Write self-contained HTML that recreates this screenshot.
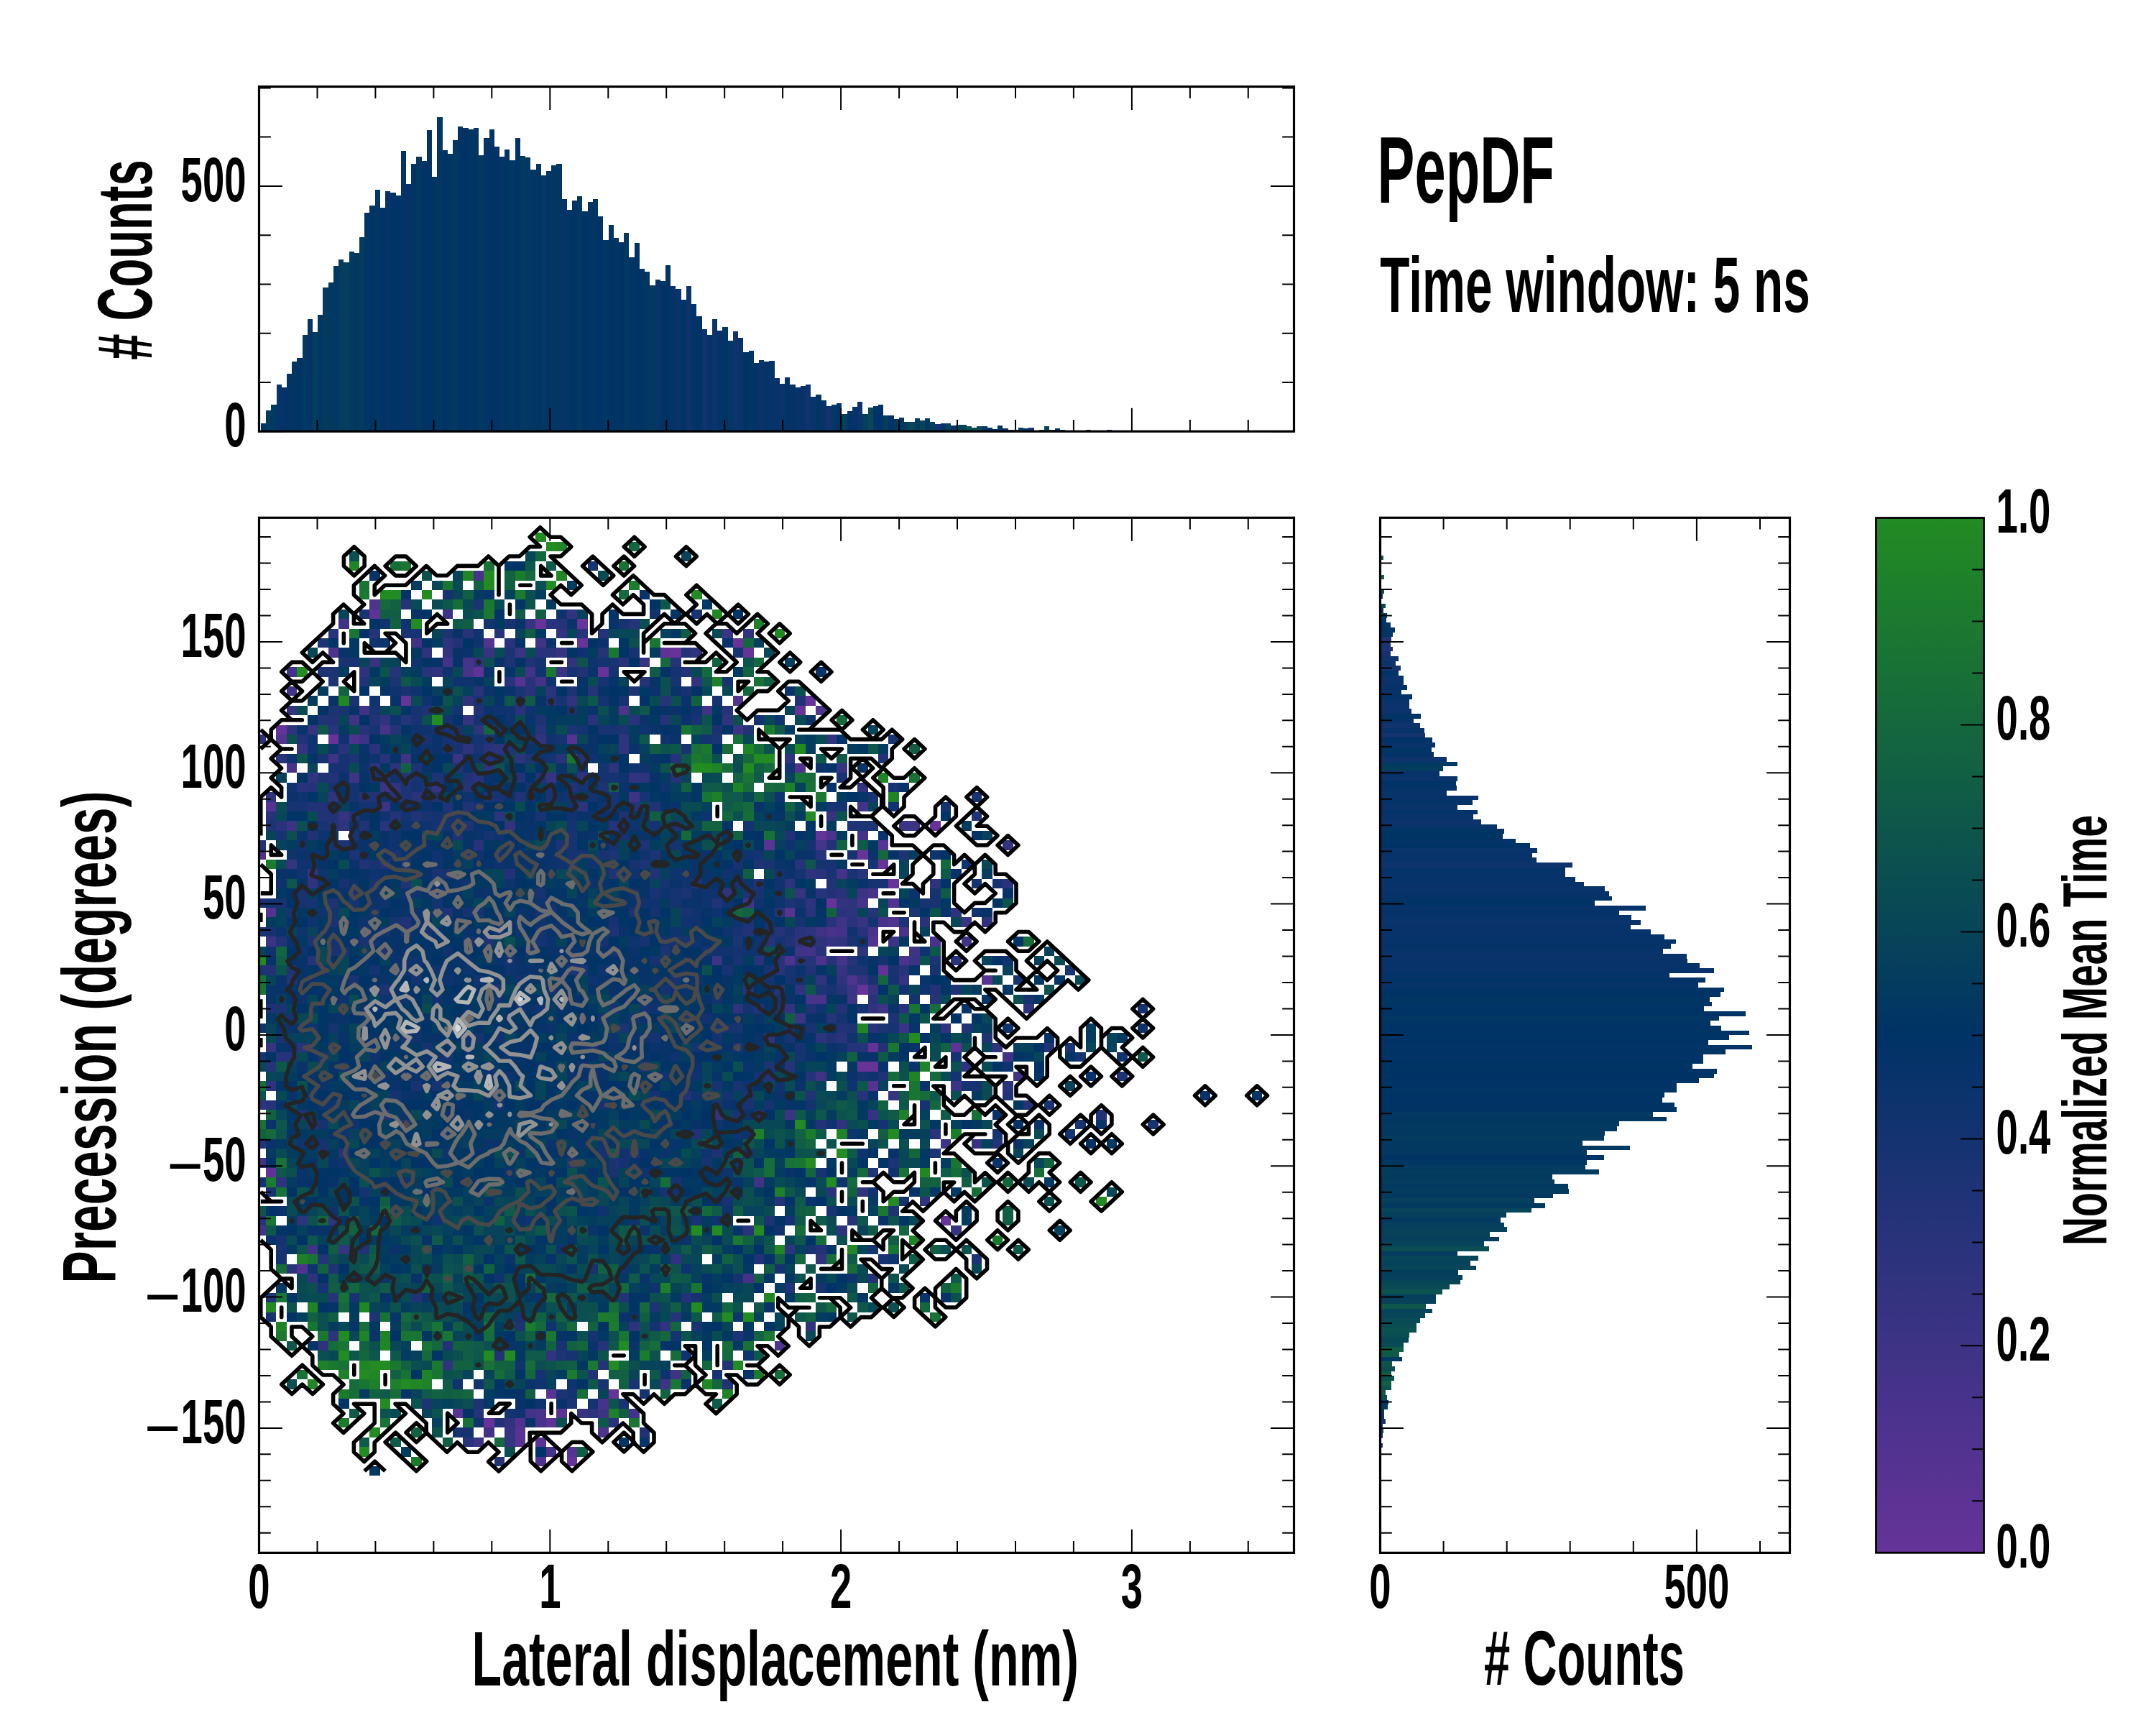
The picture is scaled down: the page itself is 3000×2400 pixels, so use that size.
<!DOCTYPE html><html><head><meta charset="utf-8"><title>PepDF</title><style>html,body{margin:0;padding:0;background:#fff}svg{display:block}text{font-family:"Liberation Sans","DejaVu Sans",sans-serif;font-weight:bold;fill:#000}</style></head><body><svg xmlns="http://www.w3.org/2000/svg" width="3000" height="2400" viewBox="0 0 3000 2400"><rect width="3000" height="2400" fill="#fff"/><defs><clipPath id="cm"><rect x="360.5" y="720.3" width="1440.0" height="1440.1"/></clipPath><clipPath id="ct"><rect x="360.5" y="120.5" width="1440.0" height="479.7"/></clipPath><clipPath id="cr"><rect x="1920.5" y="720.3" width="570.0" height="1440.1"/></clipPath><linearGradient id="cb" x1="0" y1="1" x2="0" y2="0"><stop offset="0" stop-color="#663399"/><stop offset="0.5" stop-color="#003366"/><stop offset="1" stop-color="#228b22"/></linearGradient></defs><g clip-path="url(#cm)"><g transform="translate(355.6 713.8) scale(14.44 13.396)" shape-rendering="crispEdges"><path fill="#663399" d="M27 11h1v1h-1zm4 0h1v1h-1zm0 2h1v1h-1zm15 0h1v1h-1zm-6 1h1v1h-1zm7 0h1v1h-1zm-14 2h1v1h-1zm-19 3h1v1h-1zm39 0h1v1h-1zm-1 1h1v1h-1zm-50 2h1v1h-1zm5 1h1v1h-1zm58 9h1v1h-1zm-11 1h1v1h-1zm4 2h1v1h-1zm2 1h1v1h-1zm1 2h1v1h-1zm-6 2h1v1h-1zm3 9h1v1h-1zm0 8h2v1h-2zm8 16h1v1h-1zm-32 18h1v1h-1zm-12 3h1v1h-1zm8 4h1v1h-1z"/><path fill="#623397" d="M39 14h1v1h-1zm21 33h1v1h-1zm-1 8h1v1h-1zm-58 13h1v1h-1z"/><path fill="#5d3395" d="M11 10h1v1h-1zm10 6h1v1h-1zm46 39h1v1h-1zm-39 39h1v1h-1z"/><path fill="#593392" d="M49 34h1v1h-1zm2 7h1v1h-1zm19 7h1v1h-1zm-42 43h1v1h-1zm1 2h1v1h-1zm-4 2h1v1h-1zm0 1h1v1h-1zm2 0h1v1h-1z"/><path fill="#553390" d="M22 13h1v1h-1zm3 4h1v1h-1zm-23 6h1v1h-1zm28 0h1v1h-1zm-29 7h1v1h-1zm59 4h1v1h-1zm-59 7h1v1h-1zm58 18h1v1h-1zm-40 34h1v1h-1zm11 4h1v1h-1z"/><path fill="#50338e" d="M46 19h1v1h-1zm8 1h1v1h-1zm-2 6h1v1h-1zm-52 9h1v1h-1zm61 5h1v1h-1zm0 2h1v1h-1zm-2 2h1v1h-1zm-2 4h1v1h-1zm-53 30h1v1h-1zm21 16h1v1h-1zm2 4h1v1h-1z"/><path fill="#4c338c" d="M11 9h1v1h-1zm-4 5h1v1h-1zm28 6h1v1h-1zm-26 3h1v1h-1zm46 10h1v1h-1zm-4 13h1v1h-1zm3 0h1v1h-1zm8 0h1v1h-1zm-12 40h1v1h-1zm-17 9h1v1h-1z"/><path fill="#48338a" d="M21 6h1v1h-1zm-1 9h1v1h-1zm0 1h1v1h-1zm-8 6h1v1h-1zm-9 4h1v1h-1zm51 8h1v1h-1zm5 5h1v1h-1zm-1 1h1v1h-1zm2 2h1v1h-1zm-5 1h1v1h-1zm4 0h1v1h-1zm3 0h1v1h-1zm3 1h1v1h-1zm-9 2h1v1h-1zm-3 4h2v1h-2zm-20 42h1v1h-1zm-6 1h1v1h-1zm0 1h1v1h-1zm1 3h1v1h-1z"/><path fill="#433388" d="M18 15h1v1h-1zm-15 1h1v1h-1zm23 0h1v1h-1zm1 1h1v1h-1zm-24 1h1v1h-1zm55 12h1v1h-1zm0 3h1v1h-1zm-2 4h1v1h-1zm-9 3h1v1h-1zm9 3h1v1h-1zm-3 2h1v1h-1zm19 11h1v1h-1zm-72 11h1v1h-1zm0 7h1v1h-1zm47 5h1v1h-1zm-21 14h1v1h-1zm10 0h1v1h-1zm-14 2h1v1h-1z"/><path fill="#3f3385" d="M8 11h1v1h-1zm7 2h1v1h-1zm12 0h1v1h-1zm-17 7h1v1h-1zm33 0h1v1h-1zm-34 1h1v1h-1zm-2 4h1v1h-1zm7 0h1v1h-1zm-5 2h1v1h-1zm27 2h1v1h-1zm20 13h1v1h-1zm-2 1h1v1h-1zm14 1h1v1h-1zm-16 1h1v1h-1zm11 0h1v1h-1zm-6 5h1v1h-1zm3 1h1v1h-1zm-6 7h1v1h-1zm19 0h1v1h-1zm-25 11h1v1h-1zm-43 7h1v1h-1zm35 13h1v1h-1zm-1 1h1v1h-1zm-6 3h1v1h-1z"/><path fill="#3b3383" d="M18 10h1v1h-1zm27 2h1v1h-1zm-20 2h1v1h-1zm4 2h1v1h-1zm17 6h1v1h-1zm-36 1h1v1h-1zm9 2h1v1h-1zm-7 3h1v1h-1zm0 2h1v1h-1zm-9 2h1v1h-1zm59 0h2v1h-2zm-4 7h1v1h-1zm10 3h1v1h-1zm-67 2h1v1h-1zm60 0h1v1h-1zm-17 2h1v1h-1zm19 0h1v1h-1zm-6 3h1v1h-1zm-5 3h1v1h-1zm10 1h1v1h-1zm5 6h1v1h-1zm-16 3h1v1h-1zm15 3h1v1h-1zm-45 31h1v1h-1z"/><path fill="#363381" d="M26 11h1v1h-1zm-4 3h1v1h-1zm7 0h1v1h-1zm-18 1h1v1h-1zm26 0h1v1h-1zm-17 6h1v1h-1zm-15 1h1v1h-1zm-1 2h1v1h-1zm52 2h1v1h-1zm-28 1h1v1h-1zm-11 1h1v1h-1zm-9 3h1v1h-1zm47 0h1v1h-1zm-52 5h1v1h-1zm2 1h1v1h-1zm47 2h1v1h-1zm6 3h1v1h-1zm-3 2h1v1h-1zm1 3h1v1h-1zm6 1h1v1h-1zm-3 1h1v1h-1zm-58 6h1v1h-1zm60 5h1v1h-1zm-2 2h1v1h-1zm10 3h1v1h-1zm-2 9h1v1h-1zm-59 2h1v1h-1zm23 17h1v1h-1zm-7 2h1v1h-1zm0 1h1v1h-1z"/><path fill="#32337f" d="M30 10h1v1h-1zm-1 2h1v1h-1zm18 0h1v1h-1zm-29 2h1v1h-1zm3 1h1v1h-1zm9 0h1v1h-1zm12 2h1v1h-1zm-12 2h1v1h-1zm-27 1h1v1h-1zm9 1h1v1h-1zm33 0h1v1h-1zm-18 2h1v1h-1zm8 0h1v1h-1zm20 0h1v1h-1zm-20 1h1v1h-1zm-30 3h1v1h-1zm31 0h1v1h-1zm-23 1h1v1h-1zm45 0h1v1h-1zm-51 1h1v1h-1zm17 3h1v1h-1zm48 2h1v1h-1zm-16 6h1v1h-1zm0 4h1v1h-1zm-2 4h1v1h-1zm4 0h1v1h-1zm-7 3h1v1h-1zm8 0h1v1h-1zm7 2h1v1h-1zm5 2h1v1h-1zm-27 7h1v1h-1zm14 8h1v1h-1zm-19 14h1v1h-1zm-11 3h1v1h-1zm-10 1h1v1h-1zm6 6h1v1h-1z"/><path fill="#2e337d" d="M18 13h1v1h-1zm-2 1h1v1h-1zm26 0h1v1h-1zm-32 2h1v1h-1zm7 0h1v1h-1zm11 2h1v1h-1zm-8 1h1v1h-1zm-17 3h1v1h-1zm18 0h1v1h-1zm-21 1h1v1h-1zm20 1h1v1h-1zm3 0h1v1h-1zm2 1h1v1h-1zm26 0h1v1h-1zm-40 1h1v1h-1zm2 0h1v1h-1zm9 0h1v1h-1zm12 0h1v1h-1zm-3 1h1v1h-1zm6 0h1v1h-1zm-36 2h1v1h-1zm30 1h1v1h-1zm-8 1h1v1h-1zm-15 1h1v1h-1zm45 5h1v1h-1zm-48 1h1v1h-1zm46 0h1v1h-1zm14 0h1v1h-1zm-20 1h1v1h-1zm8 1h1v1h-1zm4 0h1v1h-1zm0 1h1v1h-1zm10 0h1v1h-1zm3 1h1v1h-1zm-17 1h1v1h-1zm-1 1h1v1h-1zm2 0h1v1h-1zm4 1h1v1h-1zm-2 3h1v1h-1zm-4 1h1v1h-1zm-6 2h1v1h-1zm28 0h1v1h-1zm-25 3h1v1h-1zm5 0h1v1h-1zm14 3h1v1h-1zm-67 2h1v1h-1zm-1 2h1v1h-1zm56 2h1v1h-1zm-54 6h1v1h-1zm62 2h1v1h-1zm-60 2h1v1h-1zm3 0h1v1h-1zm49 1h1v1h-1zm-5 2h1v1h-1zm-11 1h1v1h-1zm14 0h1v1h-1zm-49 2h1v1h-1zm31 5h1v1h-1zm17 0h1v1h-1zm-46 1h1v1h-1zm-1 1h1v1h-1zm26 7h1v1h-1z"/><path fill="#29337b" d="M28 11h1v1h-1zm-21 1h1v1h-1zm24 0h1v1h-1zm-7 1h1v1h-1zm3 1h2v1h-2zm8 1h1v1h-1zm-19 1h1v1h-1zm8 1h1v1h-1zm2 0h1v1h-1zm-5 1h1v1h-1zm5 0h1v1h-1zm13 1h1v1h-1zm-14 1h1v1h-1zm7 1h1v1h-1zm4 0h1v1h-1zm-29 1h1v1h-1zm1 2h1v1h-1zm3 0h1v1h-1zm11 0h1v1h-1zm-20 1h1v1h-1zm10 0h1v1h-1zm17 0h1v1h-1zm-8 2h1v1h-1zm-17 1h1v1h-1zm11 1h1v1h-1zm-13 3h1v1h-1zm10 0h1v1h-1zm9 2h1v1h-1zm33 1h1v1h-1zm0 2h1v1h-1zm4 0h1v1h-1zm14 1h1v1h-1zm-18 1h1v1h-1zm2 0h1v1h-1zm-3 2h1v1h-1zm3 0h1v1h-1zm-1 1h1v1h-1zm2 0h1v1h-1zm7 0h1v1h-1zm-12 1h1v1h-1zm6 0h1v1h-1zm-10 3h1v1h-1zm2 0h1v1h-1zm2 0h1v1h-1zm15 0h1v1h-1zm-17 1h1v1h-1zm12 0h1v1h-1zm-15 2h1v1h-1zm12 1h1v1h-1zm3 1h1v1h-1zm-6 3h1v1h-1zm-52 1h1v1h-1zm68 4h1v1h-1zm-7 5h1v1h-1zm-65 1h1v1h-1zm55 5h1v1h-1zm-55 3h1v1h-1zm47 1h1v1h-1zm-44 4h1v1h-1zm31 16h1v1h-1zm-14 2h1v1h-1z"/><path fill="#253378" d="M14 9h1v1h-1zm15 2h1v1h-1zm7 0h1v1h-1zm-25 1h1v1h-1zm9 0h1v1h-1zm3 0h1v1h-1zm10 0h1v1h-1zm0 2h1v1h-1zm8 0h1v1h-1zm-1 1h1v1h-1zm-27 1h1v1h-1zm28 0h1v1h-1zm-4 1h1v1h-1zm-5 1h1v1h-1zm-4 1h1v1h-1zm17 1h1v1h-1zm-31 1h1v1h-1zm25 0h1v1h-1zm-29 1h1v1h-1zm3 0h1v1h-1zm14 0h1v1h-1zm13 3h1v1h-1zm-28 2h1v1h-1zm2 0h1v1h-1zm26 0h1v1h-1zm-35 1h1v1h-1zm15 0h1v1h-1zm-7 1h1v1h-1zm23 1h1v1h-1zm-35 1h1v1h-1zm12 0h1v1h-1zm21 1h1v1h-1zm18 4h1v1h-1zm-2 5h1v1h-1zm9 0h1v1h-1zm-9 2h1v1h-1zm-1 1h1v1h-1zm5 1h1v1h-1zm-49 1h1v1h-1zm48 0h1v1h-1zm2 0h1v1h-1zm2 0h1v1h-1zm-54 2h1v1h-1zm47 1h1v1h-1zm6 0h1v1h-1zm9 1h1v1h-1zm-10 2h1v1h-1zm4 1h1v1h-1zm-52 2h1v1h-1zm50 0h2v1h-2zm-55 1h2v1h-2zm-1 1h1v1h-1zm50 0h1v1h-1zm2 1h1v1h-1zm5 2h1v1h-1zm-57 1h1v1h-1zm73 0h1v1h-1zm-69 2h1v1h-1zm66 2h1v1h-1zm-63 1h1v1h-1zm42 5h1v1h-1zm7 2h1v1h-1zm-51 4h1v1h-1zm1 4h1v1h-1zm33 2h1v1h-1zm-7 3h1v1h-1zm0 2h1v1h-1zm-12 5h1v1h-1z"/><path fill="#213376" d="M19 13h1v1h-1zm7 2h1v1h-1zm-16 2h1v1h-1zm15 2h1v1h-1zm27 0h1v1h-1zm-31 1h1v1h-1zm-15 1h2v1h-2zm5 0h1v1h-1zm36 1h1v1h-1zm-43 1h1v1h-1zm20 1h1v1h-1zm-2 1h1v1h-1zm9 0h1v1h-1zm29 0h1v1h-1zm-41 1h1v1h-1zm-12 1h1v1h-1zm13 0h1v1h-1zm5 0h1v1h-1zm2 0h1v1h-1zm3 1h1v1h-1zm-20 1h2v1h-2zm15 0h1v1h-1zm-20 1h2v1h-2zm13 0h1v1h-1zm2 0h1v1h-1zm18 0h1v1h-1zm-32 1h2v1h-2zm3 0h1v1h-1zm6 0h1v1h-1zm54 0h1v1h-1zm-62 1h1v1h-1zm3 0h1v1h-1zm47 0h1v1h-1zm-52 1h1v1h-1zm46 0h1v1h-1zm4 1h1v1h-1zm7 1h1v1h-1zm-52 1h1v1h-1zm2 0h1v1h-1zm12 1h1v1h-1zm10 0h1v1h-1zm4 0h1v1h-1zm-24 1h1v1h-1zm28 0h1v1h-1zm6 0h1v1h-1zm7 0h1v1h-1zm0 1h1v1h-1zm-11 1h1v1h-1zm-30 2h1v1h-1zm33 1h1v1h-1zm-45 1h1v1h-1zm49 0h1v1h-1zm-50 3h1v1h-1zm2 0h1v1h-1zm50 0h1v1h-1zm12 2h1v1h-1zm-17 2h1v1h-1zm5 0h1v1h-1zm3 0h1v1h-1zm0 2h1v1h-1zm12 0h1v1h-1zm-13 1h1v1h-1zm5 1h1v1h-1zm16 0h1v1h-1zm-27 3h1v1h-1zm-8 2h1v1h-1zm12 0h1v1h-1zm19 0h1v1h-1zm-68 2h1v1h-1zm8 0h1v1h-1zm36 0h1v1h-1zm33 0h1v1h-1zm-67 1h1v1h-1zm40 0h1v1h-1zm-48 3h1v1h-1zm24 1h1v1h-1zm29 1h1v1h-1zm-49 8h1v1h-1zm44 0h1v1h-1zm-6 1h1v1h-1zm11 2h1v1h-1zm-8 1h1v1h-1zm-36 1h1v1h-1zm20 0h1v1h-1zm6 0h1v1h-1zm-23 5h1v1h-1zm5 1h1v1h-1zm22 1h1v1h-1zm-13 1h1v1h-1zm13 1h1v1h-1zm-22 4h1v1h-1zm14 1h1v1h-1zm-14 3h1v1h-1z"/><path fill="#1c3374" d="M21 9h1v1h-1zm-3 3h1v1h-1zm-12 1h1v1h-1zm18 1h1v1h-1zm0 1h1v1h-1zm-18 1h2v1h-2zm25 0h1v1h-1zm-24 1h1v1h-1zm6 0h1v1h-1zm12 1h1v1h-1zm5 0h1v1h-1zm6 0h1v1h-1zm-29 2h1v1h-1zm9 0h1v1h-1zm11 1h1v1h-1zm3 1h1v1h-1zm5 0h1v1h-1zm-16 1h1v1h-1zm3 0h1v1h-1zm22 0h1v1h-1zm-35 2h1v1h-1zm17 0h1v1h-1zm-11 1h1v1h-1zm-9 1h1v1h-1zm11 0h1v1h-1zm-3 1h1v1h-1zm2 0h1v1h-1zm17 0h1v1h-1zm-19 1h1v1h-1zm3 0h1v1h-1zm5 0h1v1h-1zm6 0h1v1h-1zm7 2h1v1h-1zm-34 1h1v1h-1zm19 0h1v1h-1zm20 0h1v1h-1zm18 0h2v1h-2zm-49 1h1v1h-1zm10 0h1v1h-1zm-19 1h1v1h-1zm8 0h1v1h-1zm21 0h1v1h-1zm8 0h1v1h-1zm-28 1h1v1h-1zm11 0h1v1h-1zm14 0h1v1h-1zm4 0h1v1h-1zm-24 1h1v1h-1zm23 0h1v1h-1zm11 0h1v1h-1zm-7 3h1v1h-1zm6 0h1v1h-1zm-47 1h1v1h-1zm7 0h1v1h-1zm44 0h1v1h-1zm-33 1h1v1h-1zm18 0h1v1h-1zm27 0h1v1h-1zm-16 1h1v1h-1zm15 0h1v1h-1zm-48 1h1v1h-1zm20 0h1v1h-1zm-29 1h1v1h-1zm17 0h1v1h-1zm24 0h1v1h-1zm7 0h1v1h-1zm-41 1h1v1h-1zm27 0h1v1h-1zm26 1h1v1h-1zm-65 1h1v1h-1zm30 0h2v1h-2zm27 0h2v1h-2zm-45 2h1v1h-1zm11 0h1v1h-1zm31 0h1v1h-1zm13 0h1v1h-1zm-66 2h2v1h-2zm49 0h1v1h-1zm11 1h1v1h-1zm-26 1h1v1h-1zm16 0h1v1h-1zm6 0h1v1h-1zm3 0h1v1h-1zm10 1h1v1h-1zm-24 1h1v1h-1zm32 0h1v1h-1zm-41 2h1v1h-1zm12 0h1v1h-1zm11 1h1v1h-1zm23 0h1v1h-1zm-36 2h1v1h-1zm-5 4h1v1h-1zm-6 2h1v1h-1zm8 0h1v1h-1zm21 0h1v1h-1zm-31 1h1v1h-1zm27 0h1v1h-1zm0 5h1v1h-1zm-12 1h1v1h-1zm20 4h1v1h-1zm-62 1h1v1h-1zm-6 3h1v1h-1zm37 1h1v1h-1zm-27 1h1v1h-1zm14 1h1v1h-1zm21 1h1v1h-1zm-17 2h1v1h-1zm0 4h1v1h-1zm-13 1h1v1h-1zm5 0h1v1h-1zm9 0h1v1h-1z"/><path fill="#183372" d="M32 5h1v1h-1zm-22 5h1v1h-1zm32 0h1v1h-1zm-7 1h1v1h-1zm-21 1h2v1h-2zm32 2h1v1h-1zm-38 1h2v1h-2zm26 0h1v1h-1zm-1 2h1v1h-1zm7 0h1v1h-1zm5 0h1v1h-1zm-31 1h1v1h-1zm27 0h1v1h-1zm-32 1h1v1h-1zm12 0h1v1h-1zm8 0h1v1h-1zm6 0h1v1h-1zm-27 1h1v1h-1zm3 0h1v1h-1zm19 0h1v1h-1zm-15 1h1v1h-1zm27 0h1v1h-1zm-31 1h1v1h-1zm12 0h1v1h-1zm10 0h2v1h-2zm11 0h1v1h-1zm-28 1h1v1h-1zm45 0h1v1h-1zm-43 1h2v1h-2zm3 0h1v1h-1zm20 0h1v1h-1zm-35 1h1v1h-1zm17 0h1v1h-1zm-8 2h1v1h-1zm41 0h1v1h-1zm-49 1h1v1h-1zm21 0h1v1h-1zm-5 1h1v1h-1zm11 0h1v1h-1zm3 0h1v1h-1zm22 0h1v1h-1zm10 0h1v1h-1zm-66 1h2v1h-2zm18 0h1v1h-1zm13 0h1v1h-1zm21 0h1v1h-1zm-39 1h1v1h-1zm11 0h1v1h-1zm-21 1h1v1h-1zm-4 1h1v1h-1zm28 0h1v1h-1zm-23 1h1v1h-1zm6 1h1v1h-1zm20 0h1v1h-1zm24 0h1v1h-1zm-46 1h1v1h-1zm19 0h1v1h-1zm19 0h1v1h-1zm6 0h1v1h-1zm4 0h1v1h-1zm-42 1h2v1h-2zm38 0h1v1h-1zm2 0h1v1h-1zm-46 1h1v1h-1zm48 0h2v1h-2zm-55 1h1v1h-1zm5 0h1v1h-1zm18 0h1v1h-1zm11 0h1v1h-1zm10 0h1v1h-1zm-46 1h1v1h-1zm3 0h1v1h-1zm4 0h1v1h-1zm55 0h2v1h-2zm-61 1h1v1h-1zm18 0h1v1h-1zm7 0h1v1h-1zm13 0h1v1h-1zm-34 1h1v1h-1zm6 0h1v1h-1zm-13 1h1v1h-1zm23 0h1v1h-1zm23 0h1v1h-1zm5 0h1v1h-1zm-41 1h1v1h-1zm27 0h1v1h-1zm4 0h1v1h-1zm16 0h1v1h-1zm-50 1h1v1h-1zm19 0h1v1h-1zm8 0h1v1h-1zm9 0h1v1h-1zm3 1h1v1h-1zm-1 1h1v1h-1zm4 0h1v1h-1zm2 0h1v1h-1zm10 0h1v1h-1zm17 0h1v1h-1zm-69 1h1v1h-1zm50 0h1v1h-1zm-4 1h1v1h-1zm19 1h1v1h-1zm-33 2h1v1h-1zm3 1h1v1h-1zm2 0h1v1h-1zm7 0h1v1h-1zm8 0h1v1h-1zm-59 1h1v1h-1zm12 0h1v1h-1zm37 0h1v1h-1zm1 1h1v1h-1zm-52 1h1v1h-1zm18 0h1v1h-1zm14 2h1v1h-1zm26 0h1v1h-1zm-43 1h1v1h-1zm2 0h1v1h-1zm27 0h1v1h-1zm2 0h1v1h-1zm-2 2h1v1h-1zm32 0h1v1h-1zm-30 1h1v1h-1zm33 1h1v1h-1zm7 0h1v1h-1zm-43 4h1v1h-1zm-9 1h1v1h-1zm20 0h1v1h-1zm-14 1h1v1h-1zm-39 1h1v1h-1zm38 0h1v1h-1zm16 2h1v1h-1zm-13 1h1v1h-1zm-40 3h1v1h-1zm51 0h1v1h-1zm-47 4h1v1h-1zm3 1h1v1h-1zm-8 2h1v1h-1zm24 0h1v1h-1zm17 1h1v1h-1zm-13 2h1v1h-1zm1 1h1v1h-1zm14 2h1v1h-1zm-11 1h1v1h-1zm3 0h1v1h-1zm-1 2h1v1h-1z"/><path fill="#143370" d="M18 8h1v1h-1zm4 3h1v1h-1zm2 0h1v1h-1zm12 3h1v1h-1zm-9 1h1v1h-1zm6 0h1v1h-1zm-3 1h1v1h-1zm4 0h1v1h-1zm6 0h1v1h-1zm-7 3h1v1h-1zm11 0h1v1h-1zm-29 1h1v1h-1zm4 0h1v1h-1zm-1 1h1v1h-1zm3 0h1v1h-1zm27 0h1v1h-1zm-31 1h3v1h-3zm14 0h1v1h-1zm-13 1h1v1h-1zm3 0h1v1h-1zm5 0h1v1h-1zm3 0h1v1h-1zm14 0h1v1h-1zm-35 2h1v1h-1zm20 0h1v1h-1zm-21 1h2v1h-2zm24 0h1v1h-1zm2 0h1v1h-1zm18 0h1v1h-1zm-40 1h1v1h-1zm22 0h2v1h-2zm-24 1h1v1h-1zm6 0h1v1h-1zm8 0h1v1h-1zm3 0h1v1h-1zm5 0h1v1h-1zm30 0h1v1h-1zm-52 1h1v1h-1zm21 0h1v1h-1zm2 0h1v1h-1zm-22 1h2v1h-2zm20 0h1v1h-1zm26 0h1v1h-1zm10 0h1v1h-1zm-52 1h1v1h-1zm3 0h3v1h-3zm0 1h2v1h-2zm13 0h1v1h-1zm5 0h1v1h-1zm3 0h1v1h-1zm9 0h1v1h-1zm-25 1h1v1h-1zm13 0h1v1h-1zm-5 1h1v1h-1zm4 0h1v1h-1zm6 0h1v1h-1zm13 0h1v1h-1zm-23 1h2v1h-2zm18 0h1v1h-1zm-12 1h1v1h-1zm10 0h1v1h-1zm8 0h1v1h-1zm-4 1h1v1h-1zm2 0h1v1h-1zm-44 1h1v1h-1zm31 0h1v1h-1zm7 0h1v1h-1zm23 0h1v1h-1zm2 0h1v1h-1zm-31 1h1v1h-1zm25 0h1v1h-1zm-64 1h1v1h-1zm3 0h1v1h-1zm13 0h1v1h-1zm23 0h1v1h-1zm12 0h1v1h-1zm-45 1h1v1h-1zm4 0h1v1h-1zm6 0h1v1h-1zm3 0h1v1h-1zm7 0h1v1h-1zm11 0h1v1h-1zm-4 1h1v1h-1zm18 0h1v1h-1zm7 0h1v1h-1zm-58 1h1v1h-1zm9 0h1v1h-1zm2 0h1v1h-1zm4 0h1v1h-1zm11 0h1v1h-1zm22 0h1v1h-1zm-42 1h1v1h-1zm13 0h1v1h-1zm7 0h1v1h-1zm6 0h1v1h-1zm6 0h2v1h-2zm11 0h1v1h-1zm-42 1h1v1h-1zm38 0h1v1h-1zm-22 1h1v1h-1zm14 0h1v1h-1zm22 0h1v1h-1zm-49 1h1v1h-1zm54 0h1v1h-1zm-50 1h1v1h-1zm6 0h1v1h-1zm19 0h1v1h-1zm9 0h1v1h-1zm2 0h2v1h-2zm10 0h1v1h-1zm12 0h1v1h-1zm-45 1h1v1h-1zm11 0h1v1h-1zm5 1h1v1h-1zm6 0h1v1h-1zm13 0h1v1h-1zm-29 1h1v1h-1zm3 0h1v1h-1zm10 0h1v1h-1zm11 0h1v1h-1zm27 0h1v1h-1zm-82 1h1v1h-1zm33 0h1v1h-1zm20 0h1v1h-1zm-49 1h1v1h-1zm38 0h1v1h-1zm-24 1h1v1h-1zm17 0h1v1h-1zm6 0h1v1h-1zm-28 1h1v1h-1zm16 0h1v1h-1zm10 0h1v1h-1zm-36 1h1v1h-1zm46 0h1v1h-1zm15 0h1v1h-1zm12 0h1v1h-1zm-65 2h1v1h-1zm34 0h1v1h-1zm19 0h1v1h-1zm1 1h2v1h-2zm-55 1h1v1h-1zm25 0h1v1h-1zm7 0h1v1h-1zm-22 1h1v1h-1zm10 0h1v1h-1zm14 0h1v1h-1zm2 0h1v1h-1zm4 0h1v1h-1zm11 0h1v1h-1zm-58 2h1v1h-1zm54 0h1v1h-1zm11 1h1v1h-1zm7 0h1v1h-1zm-72 1h1v1h-1zm27 1h1v1h-1zm14 0h1v1h-1zm-12 1h1v1h-1zm11 0h1v1h-1zm-46 2h1v1h-1zm10 1h1v1h-1zm35 1h1v1h-1zm17 0h1v1h-1zm-11 2h1v1h-1zm-49 2h1v1h-1zm57 1h1v1h-1zm-57 1h1v1h-1zm58 0h1v1h-1zm-28 1h1v1h-1zm18 0h1v1h-1zm-4 1h1v1h-1zm8 1h1v1h-1zm-12 1h1v1h-1zm-4 3h1v1h-1zm-6 1h1v1h-1zm8 0h1v1h-1zm-13 4h1v1h-1zm-6 1h1v1h-1zm9 1h1v1h-1zm7 0h1v1h-1zm-5 1h1v1h-1zm-8 1h1v1h-1zm-5 2h2v1h-2z"/><path fill="#0f336e" d="M29 10h1v1h-1zm9 0h1v1h-1zm-26 1h1v1h-1zm2 0h1v1h-1zm7 1h1v1h-1zm-10 1h1v1h-1zm10 0h1v1h-1zm10 1h1v1h-1zm-16 1h1v1h-1zm17 0h1v1h-1zm-14 1h1v1h-1zm9 0h1v1h-1zm-8 1h2v1h-2zm9 0h1v1h-1zm-15 1h1v1h-1zm2 0h1v1h-1zm-4 1h1v1h-1zm5 0h1v1h-1zm7 1h2v1h-2zm3 0h1v1h-1zm16 0h1v1h-1zm-29 1h1v1h-1zm11 0h1v1h-1zm26 0h1v1h-1zm-35 1h2v1h-2zm22 0h1v1h-1zm-32 1h1v1h-1zm3 0h1v1h-1zm12 0h1v1h-1zm8 0h1v1h-1zm11 0h1v1h-1zm-34 1h1v1h-1zm2 0h1v1h-1zm9 0h1v1h-1zm-13 1h1v1h-1zm8 0h1v1h-1zm10 0h1v1h-1zm6 0h1v1h-1zm5 0h1v1h-1zm4 1h2v1h-2zm-23 1h1v1h-1zm5 0h1v1h-1zm11 0h1v1h-1zm6 0h1v1h-1zm-32 1h1v1h-1zm36 0h1v1h-1zm-35 1h1v1h-1zm8 0h1v1h-1zm4 0h1v1h-1zm4 0h1v1h-1zm6 0h1v1h-1zm3 0h1v1h-1zm21 0h1v1h-1zm-36 1h1v1h-1zm19 0h1v1h-1zm28 0h1v1h-1zm-49 1h1v1h-1zm18 0h1v1h-1zm7 0h1v1h-1zm6 0h1v1h-1zm-29 1h1v1h-1zm2 0h1v1h-1zm20 0h1v1h-1zm-30 1h1v1h-1zm7 0h1v1h-1zm10 0h1v1h-1zm-19 1h1v1h-1zm9 0h1v1h-1zm11 0h1v1h-1zm27 0h1v1h-1zm-48 1h1v1h-1zm14 0h1v1h-1zm4 0h1v1h-1zm2 0h1v1h-1zm4 0h1v1h-1zm10 0h1v1h-1zm10 0h1v1h-1zm18 0h1v1h-1zm-61 1h2v1h-2zm13 0h1v1h-1zm6 0h1v1h-1zm6 0h1v1h-1zm3 0h1v1h-1zm36 0h1v1h-1zm-64 1h1v1h-1zm2 0h1v1h-1zm5 0h1v1h-1zm24 0h2v1h-2zm5 0h2v1h-2zm5 0h1v1h-1zm-43 1h1v1h-1zm4 0h1v1h-1zm14 0h1v1h-1zm4 0h1v1h-1zm17 0h1v1h-1zm6 0h1v1h-1zm3 0h1v1h-1zm-36 1h2v1h-2zm3 0h1v1h-1zm19 0h1v1h-1zm3 0h1v1h-1zm4 0h2v1h-2zm7 0h1v1h-1zm-38 1h1v1h-1zm15 0h2v1h-2zm10 0h2v1h-2zm6 0h1v1h-1zm2 0h1v1h-1zm3 0h1v1h-1zm2 0h1v1h-1zm-44 1h1v1h-1zm36 0h1v1h-1zm2 0h1v1h-1zm25 0h1v1h-1zm-64 1h1v1h-1zm5 0h1v1h-1zm17 0h1v1h-1zm2 0h1v1h-1zm12 0h2v1h-2zm5 0h1v1h-1zm3 0h1v1h-1zm-45 1h1v1h-1zm21 0h1v1h-1zm4 0h1v1h-1zm11 0h1v1h-1zm5 0h1v1h-1zm12 0h1v1h-1zm-46 1h1v1h-1zm15 0h1v1h-1zm10 0h1v1h-1zm6 0h1v1h-1zm6 0h1v1h-1zm10 0h1v1h-1zm-57 1h1v1h-1zm3 0h1v1h-1zm14 0h1v1h-1zm26 0h2v1h-2zm3 0h2v1h-2zm17 0h1v1h-1zm-50 1h2v1h-2zm16 0h1v1h-1zm28 0h1v1h-1zm14 0h1v1h-1zm-66 1h1v1h-1zm8 0h2v1h-2zm3 0h1v1h-1zm3 0h1v1h-1zm4 0h1v1h-1zm9 0h1v1h-1zm-15 1h1v1h-1zm7 0h1v1h-1zm7 0h1v1h-1zm10 0h1v1h-1zm20 1h1v1h-1zm2 0h1v1h-1zm-56 1h1v1h-1zm4 0h1v1h-1zm2 0h1v1h-1zm3 0h1v1h-1zm6 0h1v1h-1zm2 1h1v1h-1zm2 0h1v1h-1zm11 0h1v1h-1zm16 0h1v1h-1zm-21 1h1v1h-1zm10 0h1v1h-1zm-43 1h1v1h-1zm5 0h1v1h-1zm10 0h1v1h-1zm57 0h1v1h-1zm-57 1h1v1h-1zm5 0h1v1h-1zm3 0h1v1h-1zm11 0h1v1h-1zm3 0h1v1h-1zm20 0h1v1h-1zm-26 1h1v1h-1zm25 0h1v1h-1zm-45 1h1v1h-1zm6 0h1v1h-1zm23 0h1v1h-1zm43 0h1v1h-1zm-75 1h1v1h-1zm14 0h1v1h-1zm9 0h1v1h-1zm41 0h1v1h-1zm-60 1h1v1h-1zm10 0h1v1h-1zm2 0h1v1h-1zm15 0h1v1h-1zm3 0h1v1h-1zm17 0h1v1h-1zm-12 1h1v1h-1zm3 0h1v1h-1zm7 0h1v1h-1zm-15 1h1v1h-1zm-36 1h2v1h-2zm3 2h1v1h-1zm35 0h1v1h-1zm11 0h1v1h-1zm-47 1h1v1h-1zm10 0h1v1h-1zm28 0h1v1h-1zm11 0h1v1h-1zm-53 1h1v1h-1zm29 0h1v1h-1zm-15 1h1v1h-1zm17 0h1v1h-1zm8 0h1v1h-1zm15 0h1v1h-1zm-50 1h1v1h-1zm16 1h1v1h-1zm13 0h1v1h-1zm8 0h1v1h-1zm16 0h1v1h-1zm-47 1h1v1h-1zm42 0h1v1h-1zm-44 1h1v1h-1zm28 0h1v1h-1zm19 0h1v1h-1zm-52 2h1v1h-1zm26 0h1v1h-1zm12 0h1v1h-1zm-28 1h1v1h-1zm9 0h1v1h-1zm10 0h1v1h-1zm8 0h1v1h-1zm6 1h1v1h-1zm-21 2h1v1h-1zm32 1h1v1h-1zm-56 1h1v1h-1zm30 0h1v1h-1zm6 0h1v1h-1zm-29 1h1v1h-1zm11 0h1v1h-1zm34 0h1v1h-1zm-19 1h1v1h-1zm8 3h1v1h-1zm-18 1h1v1h-1zm13 3h1v1h-1zm6 0h1v1h-1zm-22 1h1v1h-1zm14 1h1v1h-1zm-20 1h1v1h-1zm8 0h1v1h-1zm3 0h1v1h-1zm-3 2h1v1h-1zm-2 1h1v1h-1zm-4 1h1v1h-1z"/><path fill="#0b336b" d="M22 8h1v1h-1zm15 0h1v1h-1zm-7 3h1v1h-1zm-18 2h1v1h-1zm16 0h1v1h-1zm5 0h1v1h-1zm12 0h1v1h-1zm-37 1h1v1h-1zm12 0h1v1h-1zm12 2h1v1h-1zm-10 2h1v1h-1zm2 0h1v1h-1zm14 0h1v1h-1zm2 0h1v1h-1zm11 0h1v1h-1zm-10 1h1v1h-1zm-19 1h1v1h-1zm10 0h1v1h-1zm8 0h1v1h-1zm-18 1h1v1h-1zm4 0h1v1h-1zm11 0h1v1h-1zm4 0h1v1h-1zm-37 1h1v1h-1zm34 0h1v1h-1zm-21 1h1v1h-1zm15 0h1v1h-1zm8 0h1v1h-1zm-30 1h1v1h-1zm5 0h1v1h-1zm2 0h1v1h-1zm9 0h1v1h-1zm10 0h1v1h-1zm-16 1h1v1h-1zm-10 1h1v1h-1zm10 0h1v1h-1zm9 0h1v1h-1zm25 0h1v1h-1zm-46 1h1v1h-1zm14 0h1v1h-1zm13 1h1v1h-1zm-32 1h1v1h-1zm21 0h1v1h-1zm-17 1h1v1h-1zm9 0h1v1h-1zm24 0h1v1h-1zm8 0h1v1h-1zm-38 1h1v1h-1zm22 0h1v1h-1zm-23 1h1v1h-1zm6 0h1v1h-1zm4 0h1v1h-1zm2 0h1v1h-1zm-17 1h1v1h-1zm17 0h1v1h-1zm5 0h1v1h-1zm6 0h1v1h-1zm5 0h1v1h-1zm8 0h1v1h-1zm15 0h1v1h-1zm-51 1h2v1h-2zm7 0h1v1h-1zm12 0h1v1h-1zm-24 1h3v1h-3zm6 0h1v1h-1zm4 0h1v1h-1zm11 0h1v1h-1zm3 0h2v1h-2zm13 0h1v1h-1zm2 0h1v1h-1zm10 0h1v1h-1zm6 0h1v1h-1zm-50 1h1v1h-1zm10 0h1v1h-1zm5 0h1v1h-1zm2 0h1v1h-1zm2 0h1v1h-1zm6 0h1v1h-1zm8 0h1v1h-1zm8 0h1v1h-1zm-38 1h1v1h-1zm30 0h2v1h-2zm4 0h1v1h-1zm5 0h1v1h-1zm-42 1h1v1h-1zm10 0h1v1h-1zm8 0h1v1h-1zm5 0h2v1h-2zm8 0h1v1h-1zm3 0h1v1h-1zm15 0h1v1h-1zm-47 1h1v1h-1zm5 0h1v1h-1zm3 0h1v1h-1zm3 0h1v1h-1zm20 0h1v1h-1zm21 0h1v1h-1zm-52 1h1v1h-1zm24 0h2v1h-2zm6 0h2v1h-2zm-27 1h2v1h-2zm11 0h1v1h-1zm24 0h1v1h-1zm3 0h1v1h-1zm14 0h1v1h-1zm-51 1h1v1h-1zm10 0h1v1h-1zm29 0h1v1h-1zm-52 1h1v1h-1zm5 0h1v1h-1zm4 0h1v1h-1zm6 0h1v1h-1zm3 0h1v1h-1zm15 0h1v1h-1zm3 0h1v1h-1zm-35 1h1v1h-1zm18 0h1v1h-1zm7 0h1v1h-1zm-14 1h1v1h-1zm15 0h2v1h-2zm4 0h1v1h-1zm3 0h1v1h-1zm15 0h1v1h-1zm-41 1h1v1h-1zm3 0h1v1h-1zm6 0h2v1h-2zm4 0h1v1h-1zm18 0h1v1h-1zm-28 1h1v1h-1zm5 0h1v1h-1zm7 0h2v1h-2zm27 0h1v1h-1zm-50 1h1v1h-1zm3 0h1v1h-1zm3 0h1v1h-1zm4 0h1v1h-1zm7 0h1v1h-1zm4 0h1v1h-1zm3 0h1v1h-1zm3 0h1v1h-1zm4 0h1v1h-1zm5 0h1v1h-1zm17 0h1v1h-1zm9 0h1v1h-1zm-63 1h2v1h-2zm10 0h1v1h-1zm3 0h1v1h-1zm15 0h1v1h-1zm6 0h1v1h-1zm6 0h1v1h-1zm3 0h1v1h-1zm-43 1h1v1h-1zm3 0h1v1h-1zm34 0h1v1h-1zm13 0h1v1h-1zm-40 1h1v1h-1zm9 0h1v1h-1zm6 0h1v1h-1zm3 0h1v1h-1zm32 0h1v1h-1zm7 0h1v1h-1zm-60 1h1v1h-1zm23 0h1v1h-1zm6 0h1v1h-1zm11 0h1v1h-1zm5 0h1v1h-1zm-51 1h3v1h-3zm26 0h1v1h-1zm11 0h1v1h-1zm24 0h1v1h-1zm22 0h1v1h-1zm-55 1h2v1h-2zm6 0h1v1h-1zm10 0h1v1h-1zm2 0h1v1h-1zm-46 1h2v1h-2zm9 0h1v1h-1zm2 0h1v1h-1zm7 0h1v1h-1zm14 0h1v1h-1zm2 0h1v1h-1zm2 0h1v1h-1zm6 0h1v1h-1zm11 0h1v1h-1zm8 0h1v1h-1zm-47 1h1v1h-1zm4 0h1v1h-1zm4 0h1v1h-1zm11 0h1v1h-1zm18 0h1v1h-1zm-49 1h1v1h-1zm13 0h2v1h-2zm25 0h1v1h-1zm5 0h1v1h-1zm16 0h1v1h-1zm-53 1h1v1h-1zm20 0h1v1h-1zm27 0h1v1h-1zm23 0h1v1h-1zm-74 1h1v1h-1zm7 0h1v1h-1zm39 0h1v1h-1zm12 0h1v1h-1zm-59 1h1v1h-1zm9 0h1v1h-1zm36 0h1v1h-1zm-11 1h1v1h-1zm6 0h1v1h-1zm-31 1h1v1h-1zm4 0h1v1h-1zm29 0h1v1h-1zm-46 1h1v1h-1zm74 0h1v1h-1zm-45 1h1v1h-1zm5 0h1v1h-1zm12 0h1v1h-1zm-46 1h1v1h-1zm15 0h1v1h-1zm6 0h2v1h-2zm6 0h1v1h-1zm3 0h1v1h-1zm9 0h1v1h-1zm-19 1h1v1h-1zm4 0h1v1h-1zm5 0h1v1h-1zm9 0h1v1h-1zm-32 1h1v1h-1zm29 0h1v1h-1zm35 0h1v1h-1zm-67 1h1v1h-1zm40 0h1v1h-1zm2 1h1v1h-1zm-24 2h1v1h-1zm31 0h1v1h-1zm-51 1h1v1h-1zm23 1h1v1h-1zm7 1h1v1h-1zm5 0h1v1h-1zm-36 1h1v1h-1zm40 0h1v1h-1zm-28 1h1v1h-1zm11 1h1v1h-1zm13 2h1v1h-1zm-21 2h1v1h-1zm48 0h1v1h-1zm-51 2h1v1h-1zm22 0h2v1h-2zm-24 2h1v1h-1zm36 0h1v1h-1zm-23 1h1v1h-1zm8 0h1v1h-1zm4 0h1v1h-1zm-10 4h1v1h-1zm-12 1h1v1h-1zm15 1h1v1h-1z"/><path fill="#073369" d="M11 6h1v1h-1zm3 2h1v1h-1zm1 2h1v1h-1zm8 0h1v1h-1zm2 1h1v1h-1zm9 0h1v1h-1zm-15 1h1v1h-1zm0 2h1v1h-1zm-2 1h1v1h-1zm2 0h1v1h-1zm4 0h1v1h-1zm-1 1h1v1h-1zm2 0h1v1h-1zm30 0h1v1h-1zm-33 1h1v1h-1zm10 0h1v1h-1zm3 0h1v1h-1zm4 0h1v1h-1zm-26 1h1v1h-1zm21 0h1v1h-1zm-26 1h1v1h-1zm6 0h1v1h-1zm10 0h1v1h-1zm4 0h1v1h-1zm-18 1h1v1h-1zm30 0h1v1h-1zm14 1h1v1h-1zm-13 1h1v1h-1zm-25 1h1v1h-1zm13 1h1v1h-1zm3 0h2v1h-2zm-21 1h1v1h-1zm3 0h1v1h-1zm25 0h1v1h-1zm-22 1h1v1h-1zm-6 1h1v1h-1zm28 0h1v1h-1zm-30 1h1v1h-1zm54 0h1v1h-1zm-54 1h1v1h-1zm25 0h1v1h-1zm25 0h1v1h-1zm-49 1h1v1h-1zm4 0h1v1h-1zm2 0h1v1h-1zm24 0h1v1h-1zm-13 1h1v1h-1zm5 0h1v1h-1zm2 0h1v1h-1zm17 0h1v1h-1zm-25 1h2v1h-2zm20 0h1v1h-1zm-33 1h1v1h-1zm6 0h1v1h-1zm2 0h1v1h-1zm11 0h1v1h-1zm21 0h1v1h-1zm-40 1h1v1h-1zm3 0h1v1h-1zm5 0h1v1h-1zm-8 1h1v1h-1zm3 0h1v1h-1zm3 0h1v1h-1zm6 0h1v1h-1zm2 0h1v1h-1zm26 0h1v1h-1zm9 0h1v1h-1zm-55 1h1v1h-1zm7 0h1v1h-1zm3 0h1v1h-1zm6 0h1v1h-1zm3 0h1v1h-1zm2 0h1v1h-1zm24 0h1v1h-1zm-49 1h2v1h-2zm6 0h1v1h-1zm2 0h1v1h-1zm3 0h1v1h-1zm2 0h2v1h-2zm13 0h1v1h-1zm39 0h1v1h-1zm-63 1h1v1h-1zm13 0h1v1h-1zm20 0h1v1h-1zm7 0h1v1h-1zm-36 1h1v1h-1zm10 0h1v1h-1zm3 0h1v1h-1zm8 0h1v1h-1zm2 0h1v1h-1zm6 0h1v1h-1zm16 0h1v1h-1zm19 0h1v1h-1zm-58 1h1v1h-1zm16 0h1v1h-1zm-17 1h1v1h-1zm6 0h1v1h-1zm4 0h1v1h-1zm3 0h1v1h-1zm3 0h1v1h-1zm14 0h1v1h-1zm27 0h1v1h-1zm-67 1h1v1h-1zm8 0h1v1h-1zm5 0h1v1h-1zm2 0h2v1h-2zm6 0h1v1h-1zm2 0h1v1h-1zm2 0h1v1h-1zm-22 1h1v1h-1zm7 0h1v1h-1zm2 0h1v1h-1zm6 0h2v1h-2zm7 0h1v1h-1zm-19 1h1v1h-1zm3 0h2v1h-2zm31 0h1v1h-1zm-32 1h1v1h-1zm2 0h1v1h-1zm3 0h1v1h-1zm12 0h1v1h-1zm3 0h2v1h-2zm9 0h1v1h-1zm-39 1h1v1h-1zm3 0h1v1h-1zm12 0h1v1h-1zm9 0h1v1h-1zm6 0h1v1h-1zm3 0h3v1h-3zm9 0h1v1h-1zm2 0h1v1h-1zm14 0h1v1h-1zm-55 1h1v1h-1zm23 0h1v1h-1zm2 0h1v1h-1zm5 0h1v1h-1zm2 0h2v1h-2zm5 0h1v1h-1zm13 0h1v1h-1zm9 0h1v1h-1zm-59 1h1v1h-1zm7 0h1v1h-1zm11 0h1v1h-1zm15 0h1v1h-1zm2 0h1v1h-1zm2 0h1v1h-1zm4 0h1v1h-1zm-39 1h1v1h-1zm7 0h1v1h-1zm4 0h1v1h-1zm4 0h1v1h-1zm4 0h1v1h-1zm7 0h1v1h-1zm2 0h1v1h-1zm6 0h1v1h-1zm9 0h1v1h-1zm-46 1h1v1h-1zm15 0h1v1h-1zm4 0h1v1h-1zm8 0h2v1h-2zm7 0h1v1h-1zm6 0h1v1h-1zm13 0h1v1h-1zm-46 1h1v1h-1zm2 0h2v1h-2zm37 0h1v1h-1zm-42 1h1v1h-1zm3 0h1v1h-1zm6 0h1v1h-1zm3 0h1v1h-1zm2 0h1v1h-1zm3 0h1v1h-1zm20 0h1v1h-1zm2 0h1v1h-1zm8 0h1v1h-1zm-33 1h1v1h-1zm2 0h1v1h-1zm2 0h1v1h-1zm2 0h1v1h-1zm-19 1h1v1h-1zm2 0h3v1h-3zm6 0h2v1h-2zm34 0h1v1h-1zm3 0h1v1h-1zm6 0h1v1h-1zm-34 1h2v1h-2zm10 0h1v1h-1zm4 0h1v1h-1zm6 0h1v1h-1zm2 0h2v1h-2zm4 0h1v1h-1zm-46 1h1v1h-1zm18 0h1v1h-1zm2 0h2v1h-2zm7 0h1v1h-1zm5 0h1v1h-1zm2 0h1v1h-1zm11 0h1v1h-1zm8 0h2v1h-2zm-51 1h1v1h-1zm4 0h1v1h-1zm4 0h1v1h-1zm12 0h2v1h-2zm6 0h1v1h-1zm27 0h1v1h-1zm-55 1h1v1h-1zm10 0h2v1h-2zm4 0h1v1h-1zm12 0h1v1h-1zm2 0h1v1h-1zm5 0h1v1h-1zm6 0h1v1h-1zm-34 1h1v1h-1zm6 0h1v1h-1zm2 0h1v1h-1zm11 0h1v1h-1zm8 0h1v1h-1zm4 0h1v1h-1zm-38 1h1v1h-1zm4 0h1v1h-1zm8 0h1v1h-1zm7 0h1v1h-1zm9 0h2v1h-2zm3 0h1v1h-1zm5 0h1v1h-1zm20 0h1v1h-1zm32 0h1v1h-1zm-89 1h1v1h-1zm8 0h1v1h-1zm9 0h1v1h-1zm9 0h1v1h-1zm9 0h1v1h-1zm9 0h1v1h-1zm5 0h1v1h-1zm-43 1h1v1h-1zm2 0h1v1h-1zm10 0h1v1h-1zm51 0h1v1h-1zm-39 1h1v1h-1zm7 0h1v1h-1zm3 0h1v1h-1zm3 0h1v1h-1zm6 0h1v1h-1zm22 0h1v1h-1zm8 0h1v1h-1zm-78 1h1v1h-1zm4 0h1v1h-1zm-2 1h1v1h-1zm12 0h1v1h-1zm56 0h1v1h-1zm-58 1h1v1h-1zm14 0h1v1h-1zm8 0h1v1h-1zm24 0h1v1h-1zm-56 1h1v1h-1zm22 0h1v1h-1zm5 1h1v1h-1zm19 0h1v1h-1zm-47 1h2v1h-2zm3 0h1v1h-1zm5 0h1v1h-1zm5 0h1v1h-1zm36 0h1v1h-1zm-37 1h1v1h-1zm30 0h1v1h-1zm17 0h1v1h-1zm-53 1h1v1h-1zm34 0h1v1h-1zm-36 2h1v1h-1zm52 0h1v1h-1zm-55 1h3v1h-3zm41 0h1v1h-1zm-30 1h1v1h-1zm14 0h1v1h-1zm8 1h1v1h-1zm-10 1h1v1h-1zm21 0h1v1h-1zm-33 1h1v1h-1zm14 0h1v1h-1zm-15 1h1v1h-1zm28 0h1v1h-1zm-31 2h1v1h-1zm15 0h1v1h-1zm39 0h1v1h-1zm-59 1h1v1h-1zm13 0h1v1h-1zm29 0h1v1h-1zm-20 3h1v1h-1zm10 1h1v1h-1zm8 3h1v1h-1zm-6 1h1v1h-1zm-16 1h1v1h-1zm0 1h1v1h-1zm1 2h1v1h-1zm11 2h1v1h-1z"/><path fill="#023367" d="M38 9h1v1h-1zm-22 1h1v1h-1zm-5 1h1v1h-1zm-1 1h1v1h-1zm6 1h1v1h-1zm4 0h1v1h-1zm5 0h1v1h-1zm7 0h1v1h-1zm3 1h1v1h-1zm-10 1h1v1h-1zm11 0h1v1h-1zm3 1h1v1h-1zm-29 2h1v1h-1zm6 0h1v1h-1zm13 0h1v1h-1zm5 0h1v1h-1zm8 0h1v1h-1zm-25 1h1v1h-1zm17 0h1v1h-1zm3 0h1v1h-1zm-31 1h1v1h-1zm23 0h1v1h-1zm-24 1h1v1h-1zm5 0h1v1h-1zm9 0h1v1h-1zm4 0h1v1h-1zm21 0h1v1h-1zm-19 1h1v1h-1zm7 0h1v1h-1zm7 0h1v1h-1zm6 0h1v1h-1zm-34 1h1v1h-1zm22 0h2v1h-2zm23 0h1v1h-1zm-12 1h1v1h-1zm-27 1h2v1h-2zm18 0h1v1h-1zm4 0h1v1h-1zm-22 1h1v1h-1zm8 0h1v1h-1zm2 0h1v1h-1zm8 0h1v1h-1zm-31 1h1v1h-1zm22 0h1v1h-1zm6 0h1v1h-1zm-22 1h1v1h-1zm8 0h1v1h-1zm4 0h1v1h-1zm3 0h1v1h-1zm4 0h1v1h-1zm7 0h1v1h-1zm19 0h1v1h-1zm-36 1h1v1h-1zm38 0h1v1h-1zm-40 1h1v1h-1zm2 0h1v1h-1zm3 0h1v1h-1zm10 0h1v1h-1zm-21 1h1v1h-1zm9 0h1v1h-1zm5 0h1v1h-1zm9 0h1v1h-1zm32 0h1v1h-1zm-61 1h1v1h-1zm6 0h1v1h-1zm11 0h2v1h-2zm-8 1h2v1h-2zm14 0h1v1h-1zm20 0h1v1h-1zm-23 1h1v1h-1zm8 0h1v1h-1zm13 0h1v1h-1zm-24 1h1v1h-1zm28 0h1v1h-1zm16 0h1v1h-1zm-59 1h1v1h-1zm14 0h1v1h-1zm14 0h1v1h-1zm10 0h1v1h-1zm-36 1h1v1h-1zm11 0h1v1h-1zm-8 1h1v1h-1zm4 0h1v1h-1zm9 0h1v1h-1zm11 0h1v1h-1zm13 0h1v1h-1zm17 0h1v1h-1zm-63 1h1v1h-1zm4 0h1v1h-1zm16 0h2v1h-2zm-20 1h1v1h-1zm10 0h1v1h-1zm6 0h1v1h-1zm27 0h1v1h-1zm8 0h1v1h-1zm8 0h1v1h-1zm-53 1h1v1h-1zm3 0h1v1h-1zm19 0h1v1h-1zm6 0h1v1h-1zm2 0h1v1h-1zm6 0h1v1h-1zm3 0h1v1h-1zm-44 1h1v1h-1zm16 0h1v1h-1zm3 0h1v1h-1zm7 0h1v1h-1zm2 0h2v1h-2zm4 0h2v1h-2zm-10 1h1v1h-1zm4 0h2v1h-2zm18 0h1v1h-1zm-40 1h1v1h-1zm9 0h1v1h-1zm13 0h1v1h-1zm4 0h1v1h-1zm4 0h1v1h-1zm35 0h1v1h-1zm-70 1h1v1h-1zm2 0h1v1h-1zm14 0h3v1h-3zm6 0h1v1h-1zm16 0h1v1h-1zm-38 1h1v1h-1zm4 0h1v1h-1zm2 0h1v1h-1zm2 0h1v1h-1zm6 0h1v1h-1zm10 0h3v1h-3zm5 0h1v1h-1zm29 0h1v1h-1zm10 0h1v1h-1zm-62 1h1v1h-1zm7 0h1v1h-1zm5 0h3v1h-3zm14 0h1v1h-1zm5 0h1v1h-1zm2 0h1v1h-1zm2 0h1v1h-1zm3 0h2v1h-2zm-37 1h1v1h-1zm4 0h1v1h-1zm16 0h1v1h-1zm4 0h1v1h-1zm10 0h1v1h-1zm6 0h1v1h-1zm15 0h1v1h-1zm-61 1h2v1h-2zm6 0h1v1h-1zm9 0h1v1h-1zm11 0h1v1h-1zm18 0h1v1h-1zm12 0h1v1h-1zm-54 1h1v1h-1zm9 0h1v1h-1zm10 0h1v1h-1zm2 0h1v1h-1zm8 0h1v1h-1zm5 0h1v1h-1zm8 0h1v1h-1zm4 0h1v1h-1zm-48 1h1v1h-1zm11 0h1v1h-1zm7 0h1v1h-1zm2 0h1v1h-1zm7 0h1v1h-1zm12 0h1v1h-1zm-34 1h1v1h-1zm2 0h1v1h-1zm11 0h1v1h-1zm4 0h1v1h-1zm3 0h1v1h-1zm3 0h1v1h-1zm6 0h1v1h-1zm12 0h1v1h-1zm7 0h1v1h-1zm10 0h1v1h-1zm-57 1h1v1h-1zm6 0h1v1h-1zm3 0h1v1h-1zm7 0h1v1h-1zm5 0h1v1h-1zm10 0h2v1h-2zm7 0h1v1h-1zm4 0h1v1h-1zm-30 1h1v1h-1zm17 0h3v1h-3zm4 0h1v1h-1zm9 0h1v1h-1zm12 0h1v1h-1zm12 0h1v1h-1zm-68 1h1v1h-1zm10 0h1v1h-1zm9 0h2v1h-2zm6 0h1v1h-1zm4 0h1v1h-1zm6 0h1v1h-1zm19 0h1v1h-1zm13 0h1v1h-1zm-67 1h1v1h-1zm4 0h1v1h-1zm19 0h1v1h-1zm7 0h1v1h-1zm4 0h3v1h-3zm12 0h1v1h-1zm8 0h1v1h-1zm-52 1h1v1h-1zm4 0h1v1h-1zm10 0h1v1h-1zm2 0h1v1h-1zm9 0h1v1h-1zm6 0h1v1h-1zm9 0h1v1h-1zm21 0h1v1h-1zm4 0h1v1h-1zm-71 1h1v1h-1zm3 0h1v1h-1zm13 0h1v1h-1zm16 0h1v1h-1zm5 0h1v1h-1zm5 0h1v1h-1zm-43 1h1v1h-1zm9 0h1v1h-1zm2 0h1v1h-1zm12 0h1v1h-1zm7 0h3v1h-3zm5 0h1v1h-1zm10 0h1v1h-1zm-42 1h1v1h-1zm2 0h1v1h-1zm2 0h1v1h-1zm7 0h2v1h-2zm8 0h1v1h-1zm15 0h1v1h-1zm11 0h1v1h-1zm-39 1h1v1h-1zm2 0h3v1h-3zm4 0h1v1h-1zm2 0h1v1h-1zm4 0h1v1h-1zm2 0h2v1h-2zm4 0h1v1h-1zm2 0h1v1h-1zm2 0h1v1h-1zm-28 1h1v1h-1zm13 0h1v1h-1zm7 0h2v1h-2zm9 0h1v1h-1zm6 0h1v1h-1zm2 0h1v1h-1zm6 0h1v1h-1zm-38 1h1v1h-1zm11 0h1v1h-1zm18 0h1v1h-1zm3 0h1v1h-1zm25 0h1v1h-1zm-57 1h1v1h-1zm3 0h1v1h-1zm3 0h1v1h-1zm-9 1h1v1h-1zm3 0h1v1h-1zm69 0h1v1h-1zm-66 1h1v1h-1zm6 0h1v1h-1zm12 0h1v1h-1zm27 0h1v1h-1zm-58 1h1v1h-1zm14 0h2v1h-2zm7 0h1v1h-1zm15 0h2v1h-2zm-30 1h1v1h-1zm14 0h1v1h-1zm20 0h1v1h-1zm11 0h1v1h-1zm3 0h1v1h-1zm-49 1h1v1h-1zm3 0h1v1h-1zm4 0h1v1h-1zm6 0h1v1h-1zm6 0h1v1h-1zm3 0h1v1h-1zm-25 1h1v1h-1zm3 0h1v1h-1zm2 0h2v1h-2zm13 0h1v1h-1zm14 0h1v1h-1zm6 0h1v1h-1zm8 0h1v1h-1zm-44 1h1v1h-1zm3 0h1v1h-1zm20 0h1v1h-1zm15 0h1v1h-1zm8 0h1v1h-1zm3 0h1v1h-1zm-53 1h1v1h-1zm55 0h1v1h-1zm-44 1h1v1h-1zm38 0h1v1h-1zm-47 1h1v1h-1zm30 0h1v1h-1zm16 0h1v1h-1zm-45 1h1v1h-1zm40 0h1v1h-1zm9 0h1v1h-1zm-47 1h1v1h-1zm11 0h1v1h-1zm9 0h1v1h-1zm11 0h1v1h-1zm9 0h1v1h-1zm2 0h1v1h-1zm-26 1h1v1h-1zm-14 1h1v1h-1zm16 0h1v1h-1zm-18 1h1v1h-1zm16 0h1v1h-1zm21 1h1v1h-1zm5 0h1v1h-1zm7 0h1v1h-1zm-19 1h1v1h-1zm-30 1h1v1h-1zm-3 1h1v1h-1zm30 1h1v1h-1zm11 0h1v1h-1zm5 0h1v1h-1zm-36 1h1v1h-1zm11 0h1v1h-1zm12 0h1v1h-1zm-11 4h1v1h-1zm-2 1h1v1h-1zm8 0h1v1h-1zm-7 1h1v1h-1zm2 1h1v1h-1zm-6 1h1v1h-1zm7 4h1v1h-1z"/><path fill="#013565" d="M24 5h2v1h-2zm1 4h1v1h-1zm9 1h1v1h-1zm6 0h1v1h-1zm6 0h1v1h-1zm-39 3h1v1h-1zm28 0h1v1h-1zm-5 1h1v1h-1zm-14 1h1v1h-1zm7 3h1v1h-1zm8 0h1v1h-1zm4 0h1v1h-1zm-21 2h1v1h-1zm24 0h1v1h-1zm3 0h1v1h-1zm-27 2h1v1h-1zm9 1h1v1h-1zm-18 2h1v1h-1zm10 0h1v1h-1zm40 1h1v1h-1zm3 0h1v1h-1zm-35 1h1v1h-1zm1 1h1v1h-1zm14 0h1v1h-1zm-33 1h1v1h-1zm16 0h1v1h-1zm6 0h1v1h-1zm12 0h1v1h-1zm3 0h1v1h-1zm-19 1h2v1h-2zm3 0h1v1h-1zm9 0h1v1h-1zm15 0h1v1h-1zm-47 1h2v1h-2zm25 0h2v1h-2zm-1 1h1v1h-1zm5 0h1v1h-1zm21 0h1v1h-1zm-43 1h1v1h-1zm14 0h2v1h-2zm10 0h1v1h-1zm4 0h1v1h-1zm9 0h1v1h-1zm22 0h1v1h-1zm-63 1h1v1h-1zm5 0h1v1h-1zm6 0h2v1h-2zm14 0h1v1h-1zm17 0h1v1h-1zm-40 1h1v1h-1zm8 0h1v1h-1zm20 0h1v1h-1zm3 0h1v1h-1zm5 0h1v1h-1zm-29 1h1v1h-1zm3 0h1v1h-1zm26 0h1v1h-1zm3 0h1v1h-1zm-26 1h1v1h-1zm4 0h1v1h-1zm2 0h1v1h-1zm5 0h1v1h-1zm5 0h1v1h-1zm-30 1h1v1h-1zm3 0h1v1h-1zm8 0h1v1h-1zm8 0h1v1h-1zm8 0h1v1h-1zm18 0h1v1h-1zm-46 1h1v1h-1zm4 0h1v1h-1zm18 0h1v1h-1zm7 0h1v1h-1zm-25 1h1v1h-1zm8 0h1v1h-1zm5 0h3v1h-3zm10 0h1v1h-1zm16 0h1v1h-1zm22 0h1v1h-1zm-49 1h1v1h-1zm12 0h2v1h-2zm20 0h1v1h-1zm10 0h1v1h-1zm-55 1h1v1h-1zm26 0h1v1h-1zm3 0h1v1h-1zm5 0h1v1h-1zm5 0h1v1h-1zm2 0h1v1h-1zm-32 1h1v1h-1zm6 0h1v1h-1zm12 0h2v1h-2zm6 0h1v1h-1zm2 0h1v1h-1zm-30 1h3v1h-3zm4 0h2v1h-2zm13 0h1v1h-1zm16 0h1v1h-1zm-30 1h1v1h-1zm5 0h3v1h-3zm5 0h1v1h-1zm8 0h1v1h-1zm2 0h1v1h-1zm5 0h1v1h-1zm-24 1h1v1h-1zm15 0h1v1h-1zm4 0h1v1h-1zm5 0h1v1h-1zm7 0h1v1h-1zm-44 1h1v1h-1zm7 0h1v1h-1zm7 0h1v1h-1zm13 0h1v1h-1zm7 0h1v1h-1zm20 0h1v1h-1zm-43 1h2v1h-2zm4 0h1v1h-1zm23 0h1v1h-1zm5 0h1v1h-1zm18 0h1v1h-1zm11 0h1v1h-1zm-74 1h1v1h-1zm5 0h1v1h-1zm7 0h1v1h-1zm3 0h1v1h-1zm18 0h1v1h-1zm6 0h1v1h-1zm3 0h1v1h-1zm21 0h1v1h-1zm6 0h1v1h-1zm-65 1h1v1h-1zm3 0h1v1h-1zm16 0h1v1h-1zm10 0h1v1h-1zm9 0h1v1h-1zm2 0h1v1h-1zm2 0h1v1h-1zm21 0h1v1h-1zm-64 1h1v1h-1zm11 0h1v1h-1zm2 0h1v1h-1zm11 0h1v1h-1zm12 0h1v1h-1zm15 0h1v1h-1zm7 0h1v1h-1zm-58 1h1v1h-1zm6 0h2v1h-2zm8 0h1v1h-1zm7 0h1v1h-1zm18 0h1v1h-1zm24 0h1v1h-1zm-63 1h1v1h-1zm5 0h2v1h-2zm21 0h1v1h-1zm11 0h1v1h-1zm4 0h1v1h-1zm2 0h1v1h-1zm6 0h1v1h-1zm-49 1h1v1h-1zm7 0h1v1h-1zm5 0h2v1h-2zm7 0h2v1h-2zm22 0h1v1h-1zm19 0h1v1h-1zm-44 1h3v1h-3zm18 0h1v1h-1zm-39 1h1v1h-1zm8 0h1v1h-1zm5 0h1v1h-1zm5 0h1v1h-1zm9 0h1v1h-1zm8 0h1v1h-1zm11 0h1v1h-1zm26 0h1v1h-1zm5 0h1v1h-1zm-69 1h1v1h-1zm7 0h1v1h-1zm5 0h1v1h-1zm4 0h1v1h-1zm5 0h1v1h-1zm4 0h1v1h-1zm5 0h2v1h-2zm6 0h1v1h-1zm-32 1h1v1h-1zm4 0h2v1h-2zm6 0h1v1h-1zm2 0h2v1h-2zm3 0h1v1h-1zm12 0h1v1h-1zm7 0h1v1h-1zm5 0h1v1h-1zm23 0h1v1h-1zm-73 1h1v1h-1zm3 0h1v1h-1zm6 0h1v1h-1zm13 0h1v1h-1zm4 0h1v1h-1zm8 0h1v1h-1zm4 0h1v1h-1zm-31 1h1v1h-1zm15 0h1v1h-1zm2 0h1v1h-1zm2 0h1v1h-1zm68 0h1v1h-1zm-91 1h1v1h-1zm16 0h1v1h-1zm17 0h1v1h-1zm2 0h2v1h-2zm3 0h1v1h-1zm9 0h1v1h-1zm-49 1h1v1h-1zm6 0h1v1h-1zm12 0h1v1h-1zm16 0h1v1h-1zm-27 1h1v1h-1zm8 0h1v1h-1zm8 0h2v1h-2zm4 0h2v1h-2zm-6 1h2v1h-2zm5 0h1v1h-1zm12 0h1v1h-1zm3 0h1v1h-1zm-34 1h1v1h-1zm24 0h1v1h-1zm4 0h1v1h-1zm7 0h1v1h-1zm4 0h1v1h-1zm-40 1h1v1h-1zm18 0h2v1h-2zm24 0h1v1h-1zm-40 1h1v1h-1zm2 0h1v1h-1zm6 0h1v1h-1zm7 0h1v1h-1zm22 0h1v1h-1zm10 0h1v1h-1zm2 0h1v1h-1zm-54 1h1v1h-1zm2 0h1v1h-1zm14 0h2v1h-2zm6 0h2v1h-2zm10 0h3v1h-3zm4 0h2v1h-2zm-31 1h1v1h-1zm5 0h1v1h-1zm4 0h2v1h-2zm14 0h1v1h-1zm2 0h2v1h-2zm7 0h1v1h-1zm-13 1h1v1h-1zm-26 1h1v1h-1zm7 0h1v1h-1zm16 0h1v1h-1zm3 0h1v1h-1zm-15 1h1v1h-1zm6 0h1v1h-1zm7 0h1v1h-1zm3 0h1v1h-1zm-15 1h1v1h-1zm11 0h1v1h-1zm11 0h1v1h-1zm24 0h1v1h-1zm-60 1h1v1h-1zm18 0h1v1h-1zm-10 1h1v1h-1zm11 0h1v1h-1zm6 0h1v1h-1zm-8 1h1v1h-1zm14 0h1v1h-1zm22 0h1v1h-1zm-8 1h1v1h-1zm4 0h1v1h-1zm-38 1h1v1h-1zm8 0h1v1h-1zm4 1h1v1h-1zm20 0h1v1h-1zm4 0h1v1h-1zm7 0h1v1h-1zm-31 1h1v1h-1zm-22 1h1v1h-1zm18 0h1v1h-1zm16 0h1v1h-1zm-1 1h1v1h-1zm-27 2h1v1h-1zm34 0h1v1h-1zm-27 1h1v1h-1zm5 0h1v1h-1zm9 0h1v1h-1zm-25 1h1v1h-1zm35 0h1v1h-1zm3 0h1v1h-1zm-26 1h1v1h-1zm-2 2h1v1h-1zm8 2h1v1h-1zm-15 1h1v1h-1zm27 4h1v1h-1z"/><path fill="#023962" d="M43 9h1v1h-1zm-20 2h1v1h-1zm4 1h1v1h-1zm13 0h1v1h-1zm-31 1h1v1h-1zm0 1h1v1h-1zm6 0h1v1h-1zm-4 2h1v1h-1zm35 0h1v1h-1zm-9 2h1v1h-1zm-9 2h1v1h-1zm16 0h1v1h-1zm-16 1h1v1h-1zm10 0h1v1h-1zm-14 1h1v1h-1zm2 0h1v1h-1zm25 0h1v1h-1zm-39 2h1v1h-1zm15 0h1v1h-1zm31 0h1v1h-1zm-25 1h2v1h-2zm-21 1h1v1h-1zm-1 2h1v1h-1zm21 0h1v1h-1zm5 0h1v1h-1zm5 0h1v1h-1zm-7 1h1v1h-1zm3 0h1v1h-1zm-17 2h2v1h-2zm15 0h1v1h-1zm6 0h1v1h-1zm7 0h1v1h-1zm-16 1h1v1h-1zm-26 1h1v1h-1zm29 0h1v1h-1zm4 0h1v1h-1zm3 0h1v1h-1zm10 0h1v1h-1zm-31 1h2v1h-2zm23 0h1v1h-1zm14 0h1v1h-1zm-48 1h1v1h-1zm31 0h1v1h-1zm-1 1h1v1h-1zm2 0h1v1h-1zm13 0h1v1h-1zm-12 1h1v1h-1zm-31 1h1v1h-1zm8 0h2v1h-2zm8 0h1v1h-1zm2 0h1v1h-1zm14 0h1v1h-1zm-43 1h1v1h-1zm31 0h1v1h-1zm16 0h1v1h-1zm-43 1h1v1h-1zm2 0h1v1h-1zm8 0h1v1h-1zm4 0h1v1h-1zm6 0h1v1h-1zm3 0h1v1h-1zm2 0h1v1h-1zm32 0h1v1h-1zm3 0h1v1h-1zm-62 1h1v1h-1zm6 0h1v1h-1zm23 0h1v1h-1zm-27 1h1v1h-1zm16 0h1v1h-1zm9 0h1v1h-1zm8 0h1v1h-1zm14 0h1v1h-1zm-45 1h2v1h-2zm25 0h1v1h-1zm6 0h1v1h-1zm4 0h1v1h-1zm-39 1h1v1h-1zm2 0h1v1h-1zm26 0h1v1h-1zm13 0h1v1h-1zm17 0h1v1h-1zm-53 1h1v1h-1zm6 0h1v1h-1zm23 0h1v1h-1zm-17 1h1v1h-1zm5 0h1v1h-1zm14 0h1v1h-1zm-30 1h1v1h-1zm28 0h1v1h-1zm8 0h1v1h-1zm-40 1h2v1h-2zm7 0h1v1h-1zm11 0h1v1h-1zm3 0h1v1h-1zm19 0h1v1h-1zm29 0h1v1h-1zm-68 1h1v1h-1zm2 0h1v1h-1zm7 0h1v1h-1zm6 0h1v1h-1zm16 0h1v1h-1zm13 0h1v1h-1zm-38 1h1v1h-1zm6 0h2v1h-2zm9 0h2v1h-2zm13 0h1v1h-1zm14 0h1v1h-1zm20 0h1v1h-1zm-61 1h1v1h-1zm4 0h1v1h-1zm3 0h1v1h-1zm2 0h1v1h-1zm9 0h1v1h-1zm3 0h1v1h-1zm4 0h3v1h-3zm-38 1h1v1h-1zm13 0h2v1h-2zm4 0h1v1h-1zm7 0h1v1h-1zm10 0h1v1h-1zm7 0h1v1h-1zm21 0h1v1h-1zm-55 1h1v1h-1zm5 0h2v1h-2zm11 0h1v1h-1zm6 0h1v1h-1zm-2 1h1v1h-1zm5 0h1v1h-1zm9 0h1v1h-1zm3 0h1v1h-1zm15 0h1v1h-1zm23 0h1v1h-1zm-77 1h1v1h-1zm6 0h1v1h-1zm3 0h1v1h-1zm14 0h1v1h-1zm21 0h1v1h-1zm3 0h1v1h-1zm-40 1h1v1h-1zm2 0h1v1h-1zm14 0h2v1h-2zm17 0h1v1h-1zm2 0h1v1h-1zm7 0h1v1h-1zm19 0h1v1h-1zm-61 1h1v1h-1zm6 0h1v1h-1zm4 0h1v1h-1zm25 0h1v1h-1zm7 0h1v1h-1zm2 0h1v1h-1zm-51 1h1v1h-1zm3 0h1v1h-1zm2 0h1v1h-1zm16 0h1v1h-1zm10 0h1v1h-1zm-29 1h2v1h-2zm12 0h1v1h-1zm2 0h2v1h-2zm8 0h1v1h-1zm12 0h1v1h-1zm3 0h1v1h-1zm-29 1h1v1h-1zm3 0h2v1h-2zm4 0h1v1h-1zm7 0h1v1h-1zm19 0h1v1h-1zm20 0h1v1h-1zm-65 1h1v1h-1zm25 0h1v1h-1zm2 0h1v1h-1zm5 0h1v1h-1zm14 0h1v1h-1zm8 0h1v1h-1zm15 0h1v1h-1zm-66 1h1v1h-1zm4 0h1v1h-1zm6 0h1v1h-1zm6 0h3v1h-3zm9 0h2v1h-2zm4 0h1v1h-1zm3 0h1v1h-1zm3 0h1v1h-1zm16 0h1v1h-1zm-55 1h1v1h-1zm5 0h1v1h-1zm9 0h1v1h-1zm2 0h3v1h-3zm4 0h2v1h-2zm10 0h1v1h-1zm5 0h1v1h-1zm3 0h1v1h-1zm5 0h1v1h-1zm7 0h1v1h-1zm6 0h1v1h-1zm6 0h1v1h-1zm4 0h1v1h-1zm-65 1h1v1h-1zm9 0h1v1h-1zm2 0h1v1h-1zm4 0h1v1h-1zm2 0h1v1h-1zm6 0h1v1h-1zm4 0h2v1h-2zm3 0h1v1h-1zm3 0h1v1h-1zm2 0h1v1h-1zm19 0h1v1h-1zm-56 1h1v1h-1zm10 0h1v1h-1zm2 0h1v1h-1zm4 0h1v1h-1zm3 0h1v1h-1zm4 0h2v1h-2zm14 0h1v1h-1zm2 0h1v1h-1zm5 0h1v1h-1zm5 0h1v1h-1zm31 0h1v1h-1zm-78 1h1v1h-1zm3 0h1v1h-1zm5 0h1v1h-1zm4 0h1v1h-1zm3 0h1v1h-1zm3 0h1v1h-1zm9 0h1v1h-1zm7 0h1v1h-1zm2 0h1v1h-1zm10 0h1v1h-1zm14 0h1v1h-1zm-60 1h1v1h-1zm13 0h2v1h-2zm3 0h1v1h-1zm4 0h1v1h-1zm4 0h1v1h-1zm5 0h1v1h-1zm11 0h1v1h-1zm11 0h1v1h-1zm-36 1h1v1h-1zm7 0h2v1h-2zm7 0h1v1h-1zm-9 1h1v1h-1zm2 0h1v1h-1zm6 0h1v1h-1zm9 0h2v1h-2zm3 0h1v1h-1zm32 0h1v1h-1zm-63 1h2v1h-2zm5 0h2v1h-2zm18 0h1v1h-1zm2 0h1v1h-1zm4 0h1v1h-1zm23 0h1v1h-1zm2 0h1v1h-1zm-54 1h2v1h-2zm18 0h1v1h-1zm5 0h1v1h-1zm-25 1h1v1h-1zm21 0h1v1h-1zm4 0h1v1h-1zm21 0h1v1h-1zm-28 1h1v1h-1zm6 0h1v1h-1zm-25 1h1v1h-1zm9 0h1v1h-1zm-7 1h1v1h-1zm16 0h1v1h-1zm12 0h1v1h-1zm-37 1h1v1h-1zm11 0h1v1h-1zm9 0h1v1h-1zm4 0h1v1h-1zm-15 1h1v1h-1zm2 1h1v1h-1zm33 0h1v1h-1zm-20 1h1v1h-1zm8 0h1v1h-1zm16 0h1v1h-1zm-49 1h1v1h-1zm27 0h1v1h-1zm15 0h1v1h-1zm12 0h1v1h-1zm5 0h1v1h-1zm-35 1h1v1h-1zm14 0h1v1h-1zm11 0h1v1h-1zm7 0h1v1h-1zm-49 1h1v1h-1zm12 0h1v1h-1zm12 0h1v1h-1zm10 0h2v1h-2zm-23 1h1v1h-1zm21 0h1v1h-1zm14 0h1v1h-1zm-44 1h1v1h-1zm36 0h1v1h-1zm-24 1h1v1h-1zm4 0h1v1h-1zm6 0h1v1h-1zm10 0h1v1h-1zm2 0h1v1h-1zm-20 1h1v1h-1zm21 0h1v1h-1zm-21 1h1v1h-1zm7 0h1v1h-1zm-1 1h1v1h-1zm-9 4h1v1h-1zm-11 7h1v1h-1z"/><path fill="#043c5f" d="M15 7h1v1h-1zm15 0h1v1h-1zm-9 1h1v1h-1zm6 0h1v1h-1zm1 1h1v1h-1zm-11 4h1v1h-1zm15 1h1v1h-1zm6 0h1v1h-1zm-30 2h1v1h-1zm7 0h1v1h-1zm-3 1h1v1h-1zm4 0h1v1h-1zm-10 1h1v1h-1zm12 0h1v1h-1zm-13 1h1v1h-1zm22 1h1v1h-1zm4 0h1v1h-1zm3 0h1v1h-1zm-5 1h3v1h-3zm5 0h1v1h-1zm-26 1h1v1h-1zm20 0h1v1h-1zm8 0h1v1h-1zm-24 1h1v1h-1zm2 0h1v1h-1zm22 0h1v1h-1zm17 0h1v1h-1zm-40 1h1v1h-1zm16 0h2v1h-2zm24 0h1v1h-1zm4 0h1v1h-1zm3 0h1v1h-1zm-23 1h1v1h-1zm-13 1h1v1h-1zm14 0h1v1h-1zm-22 1h1v1h-1zm14 0h1v1h-1zm9 0h1v1h-1zm-20 1h1v1h-1zm12 1h1v1h-1zm9 0h2v1h-2zm16 0h1v1h-1zm-2 1h1v1h-1zm-2 1h1v1h-1zm-1 1h1v1h-1zm4 0h1v1h-1zm13 0h1v1h-1zm-57 1h1v1h-1zm16 0h1v1h-1zm2 0h1v1h-1zm13 0h1v1h-1zm14 0h1v1h-1zm-53 1h1v1h-1zm2 0h1v1h-1zm9 0h1v1h-1zm22 0h1v1h-1zm2 0h1v1h-1zm3 0h2v1h-2zm-34 1h1v1h-1zm12 0h1v1h-1zm27 0h1v1h-1zm17 0h1v1h-1zm-32 1h1v1h-1zm2 0h1v1h-1zm6 0h2v1h-2zm-32 1h1v1h-1zm7 0h1v1h-1zm19 0h1v1h-1zm37 0h1v1h-1zm-42 1h1v1h-1zm2 0h1v1h-1zm23 0h1v1h-1zm4 0h1v1h-1zm-44 1h1v1h-1zm12 0h2v1h-2zm9 1h1v1h-1zm5 0h1v1h-1zm-34 1h1v1h-1zm11 0h1v1h-1zm16 0h1v1h-1zm-31 1h1v1h-1zm7 0h1v1h-1zm4 0h1v1h-1zm9 0h1v1h-1zm24 0h1v1h-1zm-26 1h1v1h-1zm13 0h1v1h-1zm9 0h1v1h-1zm-16 1h1v1h-1zm10 0h1v1h-1zm9 0h1v1h-1zm-22 2h1v1h-1zm17 0h1v1h-1zm8 0h1v1h-1zm-19 2h1v1h-1zm7 0h2v1h-2zm-15 1h1v1h-1zm6 0h1v1h-1zm7 0h1v1h-1zm10 0h1v1h-1zm26 0h1v1h-1zm-48 1h1v1h-1zm3 0h1v1h-1zm10 0h1v1h-1zm8 0h1v1h-1zm4 0h1v1h-1zm-41 1h1v1h-1zm4 0h1v1h-1zm19 0h1v1h-1zm17 0h1v1h-1zm7 0h1v1h-1zm-35 1h1v1h-1zm6 0h1v1h-1zm5 0h1v1h-1zm12 0h1v1h-1zm7 0h1v1h-1zm-30 1h1v1h-1zm5 0h1v1h-1zm7 0h1v1h-1zm4 0h1v1h-1zm3 0h3v1h-3zm14 0h1v1h-1zm15 0h1v1h-1zm5 0h1v1h-1zm10 0h1v1h-1zm-53 1h1v1h-1zm5 0h1v1h-1zm48 0h1v1h-1zm-75 1h1v1h-1zm4 0h1v1h-1zm5 0h1v1h-1zm3 0h1v1h-1zm2 0h1v1h-1zm2 0h1v1h-1zm0 1h1v1h-1zm13 0h1v1h-1zm7 0h1v1h-1zm4 0h1v1h-1zm4 0h1v1h-1zm12 0h1v1h-1zm-29 1h1v1h-1zm4 0h1v1h-1zm8 0h1v1h-1zm8 0h1v1h-1zm-49 1h1v1h-1zm18 0h1v1h-1zm34 0h1v1h-1zm-48 1h1v1h-1zm12 0h1v1h-1zm10 1h1v1h-1zm6 0h1v1h-1zm21 0h1v1h-1zm-48 1h1v1h-1zm5 0h1v1h-1zm4 0h1v1h-1zm5 0h1v1h-1zm3 0h1v1h-1zm17 0h1v1h-1zm6 0h1v1h-1zm-43 1h1v1h-1zm8 0h1v1h-1zm3 0h1v1h-1zm6 0h1v1h-1zm6 0h2v1h-2zm3 0h1v1h-1zm9 0h1v1h-1zm15 0h1v1h-1zm-43 1h2v1h-2zm3 0h2v1h-2zm20 0h2v1h-2zm-30 1h2v1h-2zm11 0h1v1h-1zm4 0h1v1h-1zm2 0h2v1h-2zm23 0h1v1h-1zm17 0h2v1h-2zm-43 1h1v1h-1zm5 0h1v1h-1zm6 0h1v1h-1zm-29 1h1v1h-1zm2 0h1v1h-1zm2 0h1v1h-1zm5 0h1v1h-1zm35 0h1v1h-1zm4 0h1v1h-1zm-37 1h1v1h-1zm9 0h1v1h-1zm8 0h1v1h-1zm13 0h1v1h-1zm22 0h1v1h-1zm2 0h1v1h-1zm-61 1h1v1h-1zm4 0h1v1h-1zm8 0h2v1h-2zm3 0h1v1h-1zm11 0h1v1h-1zm19 0h1v1h-1zm7 0h1v1h-1zm-54 1h1v1h-1zm12 0h1v1h-1zm30 0h1v1h-1zm4 0h1v1h-1zm3 0h1v1h-1zm-29 1h2v1h-2zm3 0h1v1h-1zm3 0h1v1h-1zm3 0h1v1h-1zm16 0h1v1h-1zm-42 1h2v1h-2zm12 0h1v1h-1zm2 0h1v1h-1zm14 0h1v1h-1zm6 0h1v1h-1zm9 0h1v1h-1zm10 0h1v1h-1zm-55 1h1v1h-1zm5 0h1v1h-1zm7 0h2v1h-2zm3 0h1v1h-1zm6 0h1v1h-1zm17 0h1v1h-1zm9 0h1v1h-1zm17 0h1v1h-1zm-65 1h1v1h-1zm8 0h1v1h-1zm11 0h1v1h-1zm10 0h1v1h-1zm9 0h1v1h-1zm2 0h1v1h-1zm2 0h1v1h-1zm23 0h1v1h-1zm-56 1h1v1h-1zm2 0h2v1h-2zm11 0h1v1h-1zm3 0h3v1h-3zm11 0h1v1h-1zm4 0h1v1h-1zm-32 1h1v1h-1zm2 0h1v1h-1zm5 0h1v1h-1zm2 0h1v1h-1zm2 0h1v1h-1zm2 0h1v1h-1zm5 0h1v1h-1zm4 0h1v1h-1zm-21 1h1v1h-1zm6 0h1v1h-1zm7 0h1v1h-1zm6 0h1v1h-1zm4 0h2v1h-2zm10 0h1v1h-1zm-32 1h1v1h-1zm4 0h1v1h-1zm9 0h1v1h-1zm5 0h1v1h-1zm8 0h1v1h-1zm5 0h1v1h-1zm-27 1h1v1h-1zm6 0h1v1h-1zm13 0h1v1h-1zm2 0h1v1h-1zm-30 1h2v1h-2zm36 0h1v1h-1zm10 0h1v1h-1zm-26 1h1v1h-1zm9 0h1v1h-1zm13 0h1v1h-1zm-37 1h1v1h-1zm4 0h1v1h-1zm15 0h2v1h-2zm11 0h1v1h-1zm-29 1h1v1h-1zm8 0h1v1h-1zm5 0h1v1h-1zm3 0h1v1h-1zm-21 1h1v1h-1zm29 0h1v1h-1zm16 0h1v1h-1zm-47 1h1v1h-1zm6 0h1v1h-1zm5 0h1v1h-1zm3 0h1v1h-1zm2 0h1v1h-1zm4 2h1v1h-1zm-13 1h1v1h-1zm22 0h1v1h-1zm7 0h1v1h-1zm-14 2h1v1h-1zm-19 2h1v1h-1zm12 0h1v1h-1zm-8 6h1v1h-1z"/><path fill="#05405c" d="M24 8h1v1h-1zm7 2h1v1h-1zm8 2h1v1h-1zm9 1h1v1h-1zm3 2h1v1h-1zm-37 1h1v1h-1zm8 1h1v1h-1zm-5 1h1v1h-1zm3 0h1v1h-1zm7 0h1v1h-1zm-7 4h1v1h-1zm5 1h1v1h-1zm17 0h1v1h-1zm-9 1h1v1h-1zm4 0h1v1h-1zm-21 1h1v1h-1zm-14 2h1v1h-1zm17 0h1v1h-1zm2 1h1v1h-1zm6 0h1v1h-1zm13 0h1v1h-1zm12 0h1v1h-1zm-34 1h1v1h-1zm-10 1h1v1h-1zm21 0h1v1h-1zm14 0h1v1h-1zm6 0h1v1h-1zm-1 1h1v1h-1zm-35 1h1v1h-1zm24 0h1v1h-1zm2 1h1v1h-1zm31 0h1v1h-1zm-68 1h1v1h-1zm24 0h1v1h-1zm9 0h1v1h-1zm4 0h1v1h-1zm11 0h1v1h-1zm2 0h1v1h-1zm-20 1h1v1h-1zm3 0h1v1h-1zm10 0h1v1h-1zm-25 1h1v1h-1zm18 0h1v1h-1zm-7 1h1v1h-1zm8 0h1v1h-1zm-16 1h1v1h-1zm-18 1h1v1h-1zm7 0h1v1h-1zm8 0h1v1h-1zm12 0h1v1h-1zm2 0h1v1h-1zm12 0h1v1h-1zm-31 1h1v1h-1zm7 0h1v1h-1zm-20 1h1v1h-1zm28 0h1v1h-1zm-28 1h1v1h-1zm42 0h1v1h-1zm20 1h1v1h-1zm-41 1h1v1h-1zm6 0h1v1h-1zm-19 1h1v1h-1zm40 0h1v1h-1zm11 0h1v1h-1zm-49 1h1v1h-1zm63 0h1v1h-1zm-68 1h1v1h-1zm48 0h1v1h-1zm17 0h1v1h-1zm-41 1h1v1h-1zm22 0h1v1h-1zm-26 1h1v1h-1zm10 0h1v1h-1zm9 0h1v1h-1zm-44 1h1v1h-1zm30 0h1v1h-1zm-29 1h1v1h-1zm5 0h1v1h-1zm-6 1h1v1h-1zm28 0h1v1h-1zm4 0h1v1h-1zm15 0h1v1h-1zm-31 1h1v1h-1zm2 0h1v1h-1zm34 0h1v1h-1zm15 0h1v1h-1zm-66 1h3v1h-3zm4 0h1v1h-1zm2 0h1v1h-1zm59 0h1v1h-1zm-58 1h1v1h-1zm20 0h1v1h-1zm43 0h2v1h-2zm9 0h1v1h-1zm-55 1h1v1h-1zm29 0h1v1h-1zm-53 1h1v1h-1zm3 0h1v1h-1zm6 0h1v1h-1zm22 1h1v1h-1zm17 0h1v1h-1zm-30 1h1v1h-1zm10 0h1v1h-1zm8 0h1v1h-1zm15 0h1v1h-1zm6 0h1v1h-1zm-56 1h1v1h-1zm7 0h2v1h-2zm35 0h1v1h-1zm-35 1h1v1h-1zm24 0h1v1h-1zm-5 1h1v1h-1zm4 0h1v1h-1zm19 0h1v1h-1zm11 0h1v1h-1zm-36 1h1v1h-1zm39 0h1v1h-1zm-58 1h1v1h-1zm3 0h1v1h-1zm14 0h1v1h-1zm2 0h1v1h-1zm8 0h1v1h-1zm28 0h1v1h-1zm-61 1h1v1h-1zm4 0h1v1h-1zm6 0h1v1h-1zm2 0h1v1h-1zm5 0h1v1h-1zm12 0h1v1h-1zm38 0h1v1h-1zm-59 1h1v1h-1zm2 0h1v1h-1zm29 0h1v1h-1zm-32 1h1v1h-1zm13 0h1v1h-1zm2 0h1v1h-1zm6 0h2v1h-2zm10 0h1v1h-1zm9 0h1v1h-1zm-40 1h1v1h-1zm3 0h1v1h-1zm3 0h1v1h-1zm19 0h2v1h-2zm12 1h1v1h-1zm-36 1h1v1h-1zm4 0h1v1h-1zm2 0h1v1h-1zm3 0h1v1h-1zm7 0h2v1h-2zm7 0h1v1h-1zm10 0h1v1h-1zm-27 1h1v1h-1zm9 0h1v1h-1zm3 0h1v1h-1zm8 0h1v1h-1zm4 0h1v1h-1zm-23 1h1v1h-1zm4 0h2v1h-2zm37 0h1v1h-1zm-28 1h1v1h-1zm2 0h2v1h-2zm6 0h1v1h-1zm-35 1h1v1h-1zm14 0h1v1h-1zm59 0h1v1h-1zm-71 1h1v1h-1zm14 1h1v1h-1zm32 0h1v1h-1zm-38 1h1v1h-1zm9 0h1v1h-1zm4 0h1v1h-1zm6 0h1v1h-1zm2 0h1v1h-1zm-23 1h1v1h-1zm13 0h1v1h-1zm4 0h1v1h-1zm13 0h1v1h-1zm3 0h1v1h-1zm-26 1h1v1h-1zm9 0h2v1h-2zm14 0h1v1h-1zm-22 1h1v1h-1zm10 0h1v1h-1zm6 0h1v1h-1zm9 0h2v1h-2zm-20 1h1v1h-1zm-13 1h1v1h-1zm4 0h1v1h-1zm9 0h1v1h-1zm16 0h1v1h-1zm-37 1h1v1h-1zm17 0h1v1h-1zm3 0h1v1h-1zm11 1h1v1h-1zm15 0h1v1h-1zm-8 1h1v1h-1zm-28 1h1v1h-1zm9 0h1v1h-1zm-8 1h1v1h-1zm24 1h1v1h-1zm-11 2h1v1h-1zm-10 2h1v1h-1zm-1 2h1v1h-1z"/><path fill="#074459" d="M41 4h1v1h-1zm-22 2h1v1h-1zm0 2h1v1h-1zm-11 2h1v1h-1zm9 2h1v1h-1zm8 0h1v1h-1zm5 0h1v1h-1zm4 0h1v1h-1zm-24 3h1v1h-1zm2 0h2v1h-2zm-1 2h1v1h-1zm7 0h1v1h-1zm17 0h1v1h-1zm-16 2h1v1h-1zm3 0h1v1h-1zm-10 1h1v1h-1zm39 0h1v1h-1zm-43 1h1v1h-1zm25 0h1v1h-1zm26 1h1v1h-1zm-46 1h1v1h-1zm39 0h1v1h-1zm-38 1h1v1h-1zm20 0h1v1h-1zm-29 2h1v1h-1zm21 0h1v1h-1zm-2 1h1v1h-1zm17 0h1v1h-1zm10 0h1v1h-1zm-45 2h1v1h-1zm22 1h1v1h-1zm31 0h1v1h-1zm-31 2h1v1h-1zm3 0h1v1h-1zm11 0h1v1h-1zm8 0h1v1h-1zm-49 1h1v1h-1zm15 0h2v1h-2zm33 2h1v1h-1zm2 0h1v1h-1zm11 1h1v1h-1zm-43 1h1v1h-1zm3 0h2v1h-2zm40 0h1v1h-1zm-27 1h1v1h-1zm3 0h1v1h-1zm18 0h1v1h-1zm-26 1h1v1h-1zm27 0h1v1h-1zm5 0h1v1h-1zm-41 1h1v1h-1zm39 0h1v1h-1zm-36 1h1v1h-1zm16 0h1v1h-1zm18 0h1v1h-1zm-41 1h1v1h-1zm23 0h1v1h-1zm-37 1h1v1h-1zm2 0h1v1h-1zm-5 2h1v1h-1zm60 0h1v1h-1zm16 0h1v1h-1zm-68 1h1v1h-1zm62 0h1v1h-1zm-62 1h1v1h-1zm20 0h1v1h-1zm-27 1h1v1h-1zm23 1h1v1h-1zm7 0h1v1h-1zm32 0h1v1h-1zm5 0h1v1h-1zm-63 1h1v1h-1zm6 0h1v1h-1zm5 0h1v1h-1zm17 0h1v1h-1zm28 0h1v1h-1zm-54 1h1v1h-1zm26 0h1v1h-1zm3 0h1v1h-1zm8 0h1v1h-1zm11 0h1v1h-1zm-54 2h1v1h-1zm8 0h1v1h-1zm15 1h1v1h-1zm5 0h1v1h-1zm6 0h1v1h-1zm30 0h1v1h-1zm17 0h1v1h-1zm-41 1h1v1h-1zm8 0h1v1h-1zm5 0h1v1h-1zm16 0h1v1h-1zm10 0h1v1h-1zm-73 1h1v1h-1zm3 0h1v1h-1zm12 0h1v1h-1zm11 0h1v1h-1zm42 0h1v1h-1zm-55 1h1v1h-1zm9 0h1v1h-1zm14 0h1v1h-1zm10 0h2v1h-2zm-51 1h1v1h-1zm27 0h1v1h-1zm14 0h1v1h-1zm-16 1h1v1h-1zm5 0h1v1h-1zm46 0h1v1h-1zm-51 1h1v1h-1zm10 0h1v1h-1zm6 0h2v1h-2zm-34 1h1v1h-1zm50 0h1v1h-1zm-14 1h1v1h-1zm-41 1h1v1h-1zm21 0h1v1h-1zm-15 1h1v1h-1zm23 0h1v1h-1zm5 0h1v1h-1zm2 0h1v1h-1zm3 0h1v1h-1zm-16 1h1v1h-1zm32 0h1v1h-1zm15 0h1v1h-1zm-26 1h1v1h-1zm25 0h1v1h-1zm-70 1h1v1h-1zm11 0h1v1h-1zm25 0h1v1h-1zm-27 1h1v1h-1zm2 0h2v1h-2zm-6 1h1v1h-1zm14 0h1v1h-1zm5 0h1v1h-1zm4 0h1v1h-1zm4 0h1v1h-1zm3 0h1v1h-1zm13 0h1v1h-1zm-44 1h1v1h-1zm24 0h1v1h-1zm-10 1h1v1h-1zm3 0h1v1h-1zm8 0h1v1h-1zm3 0h1v1h-1zm-30 1h1v1h-1zm5 0h1v1h-1zm3 0h1v1h-1zm7 0h1v1h-1zm7 0h1v1h-1zm7 0h1v1h-1zm13 0h2v1h-2zm-37 1h1v1h-1zm8 0h1v1h-1zm-2 1h1v1h-1zm6 0h2v1h-2zm36 0h1v1h-1zm-35 1h1v1h-1zm3 0h1v1h-1zm10 0h1v1h-1zm7 0h1v1h-1zm5 0h1v1h-1zm3 0h1v1h-1zm-19 1h1v1h-1zm7 0h1v1h-1zm3 0h1v1h-1zm16 0h1v1h-1zm-50 1h1v1h-1zm26 0h1v1h-1zm2 0h1v1h-1zm-10 1h1v1h-1zm25 0h1v1h-1zm-41 1h1v1h-1zm21 0h1v1h-1zm-16 1h1v1h-1zm7 0h1v1h-1zm4 0h1v1h-1zm8 0h1v1h-1zm6 0h1v1h-1zm-20 1h1v1h-1zm9 0h1v1h-1zm-18 1h1v1h-1zm4 0h1v1h-1zm8 0h2v1h-2zm3 0h1v1h-1zm-7 1h1v1h-1zm9 0h1v1h-1zm20 0h1v1h-1zm2 0h1v1h-1zm-5 1h1v1h-1zm-26 1h1v1h-1zm7 1h1v1h-1zm5 1h1v1h-1zm6 1h2v1h-2zm-17 1h1v1h-1zm2 0h1v1h-1zm6 0h1v1h-1zm8 0h1v1h-1zm-11 1h1v1h-1zm-10 1h1v1h-1zm18 0h1v1h-1zm-16 1h1v1h-1zm-1 1h1v1h-1z"/><path fill="#084856" d="M26 4h1v1h-1zm-9 3h1v1h-1zm3 2h1v1h-1zm15 3h2v1h-2zm-30 2h1v1h-1zm16 0h1v1h-1zm28 0h1v1h-1zm-30 2h1v1h-1zm23 0h1v1h-1zm1 2h1v1h-1zm2 0h1v1h-1zm-14 1h1v1h-1zm-13 1h1v1h-1zm22 1h1v1h-1zm9 0h1v1h-1zm-25 2h1v1h-1zm7 0h1v1h-1zm16 0h1v1h-1zm-38 1h1v1h-1zm15 1h1v1h-1zm-6 1h1v1h-1zm25 1h1v1h-1zm4 2h1v1h-1zm-20 1h1v1h-1zm10 0h1v1h-1zm15 0h1v1h-1zm-50 1h1v1h-1zm38 0h2v1h-2zm-1 1h1v1h-1zm2 0h1v1h-1zm7 0h2v1h-2zm-4 1h1v1h-1zm6 0h1v1h-1zm-31 1h1v1h-1zm13 0h1v1h-1zm15 0h1v1h-1zm-7 1h1v1h-1zm30 1h1v1h-1zm-44 1h1v1h-1zm3 0h2v1h-2zm20 0h1v1h-1zm-41 4h1v1h-1zm43 1h1v1h-1zm16 0h1v1h-1zm-61 3h1v1h-1zm0 1h1v1h-1zm65 2h1v1h-1zm-32 2h1v1h-1zm27 0h1v1h-1zm-62 2h1v1h-1zm35 0h1v1h-1zm31 0h1v1h-1zm-36 1h1v1h-1zm6 0h1v1h-1zm-39 1h1v1h-1zm60 0h1v1h-1zm-57 2h1v1h-1zm47 0h1v1h-1zm-51 1h1v1h-1zm38 0h1v1h-1zm-37 1h1v1h-1zm34 0h1v1h-1zm15 0h1v1h-1zm6 0h1v1h-1zm-31 1h1v1h-1zm24 0h1v1h-1zm-47 1h1v1h-1zm19 0h1v1h-1zm12 0h1v1h-1zm15 0h1v1h-1zm7 0h1v1h-1zm-52 1h1v1h-1zm51 0h1v1h-1zm-52 1h1v1h-1zm13 0h1v1h-1zm14 1h1v1h-1zm5 0h1v1h-1zm13 0h4v1h-4zm23 0h1v1h-1zm-61 2h1v1h-1zm20 0h1v1h-1zm6 0h3v1h-3zm7 0h1v1h-1zm2 0h1v1h-1zm20 0h1v1h-1zm-10 1h1v1h-1zm8 0h1v1h-1zm-56 1h1v1h-1zm3 0h1v1h-1zm31 0h1v1h-1zm17 0h1v1h-1zm5 0h2v1h-2zm13 0h1v1h-1zm-52 2h1v1h-1zm6 0h1v1h-1zm-24 1h1v1h-1zm28 0h1v1h-1zm10 0h1v1h-1zm2 0h1v1h-1zm7 0h1v1h-1zm2 0h1v1h-1zm28 0h1v1h-1zm-79 1h1v1h-1zm12 0h1v1h-1zm8 0h1v1h-1zm2 0h1v1h-1zm8 0h1v1h-1zm6 0h1v1h-1zm-4 1h1v1h-1zm2 0h1v1h-1zm-18 1h1v1h-1zm2 0h1v1h-1zm3 0h1v1h-1zm6 0h1v1h-1zm33 0h1v1h-1zm-50 1h1v1h-1zm4 0h1v1h-1zm17 0h1v1h-1zm-27 1h1v1h-1zm2 0h1v1h-1zm5 0h1v1h-1zm18 0h1v1h-1zm7 0h1v1h-1zm-24 1h1v1h-1zm6 0h2v1h-2zm13 0h1v1h-1zm6 0h1v1h-1zm-25 1h1v1h-1zm6 0h1v1h-1zm8 0h1v1h-1zm8 0h1v1h-1zm4 0h2v1h-2zm28 1h1v1h-1zm-65 1h1v1h-1zm34 0h2v1h-2zm17 0h1v1h-1zm3 0h1v1h-1zm-45 1h2v1h-2zm4 0h1v1h-1zm2 0h1v1h-1zm28 0h1v1h-1zm-43 1h1v1h-1zm14 0h1v1h-1zm5 0h1v1h-1zm8 0h1v1h-1zm3 0h1v1h-1zm12 0h2v1h-2zm-28 1h1v1h-1zm21 0h1v1h-1zm20 0h1v1h-1zm-36 1h1v1h-1zm3 0h1v1h-1zm4 0h1v1h-1zm9 0h1v1h-1zm-31 1h1v1h-1zm1 1h1v1h-1zm11 0h1v1h-1zm33 0h1v1h-1zm-40 1h1v1h-1zm-6 1h1v1h-1zm17 3h1v1h-1zm14 0h1v1h-1zm-19 2h1v1h-1z"/><path fill="#094b53" d="M33 6h1v1h-1zm-14 1h1v1h-1zm-4 2h1v1h-1zm2 0h1v1h-1zm6 0h1v1h-1zm-3 1h1v1h-1zm24 2h1v1h-1zm-21 2h1v1h-1zm3 0h1v1h-1zm-1 2h1v1h-1zm-10 1h1v1h-1zm17 0h1v1h-1zm-17 2h1v1h-1zm23 0h1v1h-1zm-34 1h1v1h-1zm32 0h1v1h-1zm-11 1h1v1h-1zm10 0h1v1h-1zm17 0h1v1h-1zm-43 1h1v1h-1zm20 0h1v1h-1zm25 1h1v1h-1zm-48 1h1v1h-1zm19 0h1v1h-1zm26 0h1v1h-1zm-42 2h1v1h-1zm12 0h1v1h-1zm25 0h1v1h-1zm-2 1h1v1h-1zm-38 1h1v1h-1zm-4 2h1v1h-1zm23 0h1v1h-1zm16 0h2v1h-2zm-36 1h1v1h-1zm19 0h1v1h-1zm5 1h1v1h-1zm-2 2h1v1h-1zm-25 2h1v1h-1zm6 0h1v1h-1zm24 4h1v1h-1zm45 6h1v1h-1zm-30 2h1v1h-1zm32 0h1v1h-1zm-70 2h1v1h-1zm7 1h1v1h-1zm-11 1h1v1h-1zm62 2h1v1h-1zm-2 1h1v1h-1zm0 1h1v1h-1zm-60 1h1v1h-1zm65 0h1v1h-1zm-62 1h1v1h-1zm37 0h1v1h-1zm21 0h1v1h-1zm-23 1h1v1h-1zm8 0h1v1h-1zm19 0h1v1h-1zm-34 1h1v1h-1zm18 0h1v1h-1zm16 0h1v1h-1zm-32 2h1v1h-1zm12 0h1v1h-1zm-43 1h1v1h-1zm30 0h1v1h-1zm20 0h1v1h-1zm4 0h1v1h-1zm-12 1h1v1h-1zm2 0h1v1h-1zm24 0h1v1h-1zm-27 1h1v1h-1zm-46 1h1v1h-1zm15 0h1v1h-1zm6 0h1v1h-1zm3 0h1v1h-1zm15 0h1v1h-1zm-16 2h1v1h-1zm-7 1h1v1h-1zm12 0h1v1h-1zm20 0h1v1h-1zm4 0h1v1h-1zm20 0h1v1h-1zm-58 2h1v1h-1zm22 0h1v1h-1zm8 0h1v1h-1zm2 0h1v1h-1zm9 0h1v1h-1zm-54 1h1v1h-1zm11 0h1v1h-1zm35 0h1v1h-1zm-34 1h1v1h-1zm5 0h1v1h-1zm8 0h1v1h-1zm27 0h1v1h-1zm-31 1h1v1h-1zm2 0h1v1h-1zm12 0h1v1h-1zm3 0h1v1h-1zm4 0h1v1h-1zm10 0h1v1h-1zm-52 1h1v1h-1zm28 0h1v1h-1zm3 0h1v1h-1zm8 0h1v1h-1zm3 0h1v1h-1zm-36 1h1v1h-1zm38 0h1v1h-1zm-37 1h1v1h-1zm6 0h1v1h-1zm3 0h1v1h-1zm8 1h2v1h-2zm4 0h1v1h-1zm12 0h1v1h-1zm15 0h1v1h-1zm4 0h1v1h-1zm-51 1h1v1h-1zm2 0h1v1h-1zm11 0h1v1h-1zm6 0h1v1h-1zm2 0h1v1h-1zm-28 1h1v1h-1zm17 0h1v1h-1zm20 0h1v1h-1zm16 0h1v1h-1zm-52 1h2v1h-2zm9 0h1v1h-1zm8 0h1v1h-1zm-5 1h1v1h-1zm2 0h1v1h-1zm-4 2h1v1h-1zm5 0h1v1h-1zm24 1h1v1h-1zm-26 2h1v1h-1zm-2 1h1v1h-1zm-3 5h1v1h-1z"/><path fill="#0b4f50" d="M9 4h1v1h-1zm18 3h1v1h-1zm-1 1h1v1h-1zm11 3h1v1h-1zm-1 2h1v1h-1zm-14 2h1v1h-1zm17 2h1v1h-1zm-20 1h1v1h-1zm20 0h1v1h-1zm13 0h1v1h-1zm-12 1h1v1h-1zm-27 1h1v1h-1zm4 0h1v1h-1zm16 0h1v1h-1zm-17 1h1v1h-1zm30 0h1v1h-1zm-43 2h1v1h-1zm41 2h1v1h-1zm2 0h1v1h-1zm-18 1h1v1h-1zm2 0h1v1h-1zm11 0h1v1h-1zm8 3h1v1h-1zm-3 2h1v1h-1zm5 0h1v1h-1zm-47 1h1v1h-1zm-1 1h1v1h-1zm30 0h1v1h-1zm10 1h1v1h-1zm-28 4h1v1h-1zm45 3h1v1h-1zm-36 3h1v1h-1zm19 3h1v1h-1zm17 3h1v1h-1zm13 0h1v1h-1zm-15 4h1v1h-1zm10 1h1v1h-1zm-22 2h1v1h-1zm16 0h1v1h-1zm5 0h1v1h-1zm-63 2h1v1h-1zm49 0h1v1h-1zm3 0h1v1h-1zm1 1h1v1h-1zm10 0h1v1h-1zm-12 1h1v1h-1zm3 2h1v1h-1zm4 2h1v1h-1zm-38 1h1v1h-1zm21 1h1v1h-1zm-42 1h1v1h-1zm27 0h1v1h-1zm16 0h1v1h-1zm22 0h1v1h-1zm-58 1h1v1h-1zm15 1h1v1h-1zm12 0h1v1h-1zm10 0h1v1h-1zm-28 1h1v1h-1zm23 0h1v1h-1zm5 0h1v1h-1zm8 0h1v1h-1zm-49 1h1v1h-1zm20 0h1v1h-1zm3 0h1v1h-1zm10 0h1v1h-1zm-25 1h1v1h-1zm23 0h1v1h-1zm3 0h1v1h-1zm-19 1h1v1h-1zm-6 1h1v1h-1zm4 0h1v1h-1zm18 0h2v1h-2zm19 0h1v1h-1zm-28 1h1v1h-1zm38 0h1v1h-1zm-59 1h1v1h-1zm11 0h1v1h-1zm28 0h1v1h-1zm-37 1h1v1h-1zm6 0h1v1h-1zm4 0h1v1h-1zm27 0h1v1h-1zm-32 1h1v1h-1zm3 0h1v1h-1zm16 0h1v1h-1zm19 0h1v1h-1zm-47 1h1v1h-1zm6 0h1v1h-1zm-1 1h1v1h-1zm28 0h1v1h-1zm6 0h1v1h-1zm23 0h1v1h-1zm-39 1h2v1h-2zm3 0h2v1h-2zm4 0h1v1h-1zm26 0h1v1h-1zm-55 1h1v1h-1zm11 0h2v1h-2zm14 0h1v1h-1zm-25 1h1v1h-1zm23 0h1v1h-1zm8 0h1v1h-1zm-12 1h1v1h-1zm6 0h1v1h-1zm3 0h1v1h-1zm3 0h1v1h-1zm-26 1h1v1h-1zm11 0h1v1h-1zm-16 1h1v1h-1zm13 0h1v1h-1zm-4 1h1v1h-1zm6 0h1v1h-1zm6 0h1v1h-1zm9 0h1v1h-1zm-18 1h1v1h-1zm-15 1h1v1h-1zm17 2h1v1h-1zm9 2h1v1h-1zm-5 3h1v1h-1z"/><path fill="#0c534d" d="M16 6h1v1h-1zm10 3h1v1h-1zm-5 1h1v1h-1zm10 5h1v1h-1zm16 0h1v1h-1zm-35 1h1v1h-1zm6 3h1v1h-1zm25 2h1v1h-1zm-4 3h1v1h-1zm10 0h1v1h-1zm-45 1h1v1h-1zm19 1h1v1h-1zm16 0h1v1h-1zm6 2h1v1h-1zm-6 3h1v1h-1zm17 0h1v1h-1zm-12 3h1v1h-1zm7 5h1v1h-1zm21 1h1v1h-1zm-7 1h1v1h-1zm-16 4h1v1h-1zm15 1h1v1h-1zm-62 1h1v1h-1zm74 2h1v1h-1zm-12 3h1v1h-1zm-2 6h1v1h-1zm-62 2h1v1h-1zm52 0h1v1h-1zm5 1h1v1h-1zm-1 1h1v1h-1zm4 0h1v1h-1zm4 1h1v1h-1zm-62 1h1v1h-1zm48 0h1v1h-1zm0 1h1v1h-1zm5 0h1v1h-1zm5 0h1v1h-1zm-8 1h2v1h-2zm-5 1h1v1h-1zm-36 1h1v1h-1zm36 0h1v1h-1zm-14 1h1v1h-1zm37 0h1v1h-1zm-66 1h1v1h-1zm18 0h1v1h-1zm42 0h1v1h-1zm-55 1h1v1h-1zm67 0h1v1h-1zm-68 1h1v1h-1zm22 0h1v1h-1zm8 0h1v1h-1zm-33 1h1v1h-1zm56 0h1v1h-1zm-53 1h1v1h-1zm23 0h1v1h-1zm9 0h1v1h-1zm-15 1h1v1h-1zm24 0h1v1h-1zm-45 1h1v1h-1zm20 0h1v1h-1zm20 0h1v1h-1zm24 0h1v1h-1zm-59 1h1v1h-1zm21 0h1v1h-1zm2 0h1v1h-1zm-14 1h1v1h-1zm19 0h1v1h-1zm3 0h1v1h-1zm4 0h1v1h-1zm-28 1h1v1h-1zm5 0h1v1h-1zm13 0h1v1h-1zm27 0h1v1h-1zm-51 1h1v1h-1zm14 0h1v1h-1zm8 0h2v1h-2zm-8 1h1v1h-1zm15 0h1v1h-1zm-36 1h1v1h-1zm10 0h1v1h-1zm33 0h1v1h-1zm-14 1h1v1h-1zm-8 1h1v1h-1zm17 1h1v1h-1zm-8 2h1v1h-1zm5 0h1v1h-1zm-10 1h1v1h-1zm-9 1h1v1h-1zm12 0h1v1h-1zm-16 3h1v1h-1zm19 0h1v1h-1zm-22 1h1v1h-1zm5 0h1v1h-1zm0 2h1v1h-1z"/><path fill="#0e574b" d="M26 5h1v1h-1zm-8 4h1v1h-1zm21 0h1v1h-1zm-25 8h1v1h-1zm29 0h1v1h-1zm-19 2h1v1h-1zm8 0h1v1h-1zm5 1h1v1h-1zm-31 2h1v1h-1zm31 1h1v1h-1zm3 1h1v1h-1zm19 0h1v1h-1zm-18 1h1v1h-1zm13 0h1v1h-1zm-1 11h1v1h-1zm-50 2h1v1h-1zm62 7h1v1h-1zm-12 4h1v1h-1zm8 0h1v1h-1zm1 3h1v1h-1zm0 2h1v1h-1zm23 2h1v1h-1zm-83 1h1v1h-1zm56 2h1v1h-1zm7 1h1v1h-1zm-3 1h1v1h-1zm-10 1h1v1h-1zm2 0h1v1h-1zm3 0h1v1h-1zm-55 1h1v1h-1zm45 2h1v1h-1zm-45 3h1v1h-1zm77 1h1v1h-1zm-28 1h1v1h-1zm-51 2h1v1h-1zm40 0h1v1h-1zm8 1h1v1h-1zm4 0h1v1h-1zm6 0h1v1h-1zm-57 1h1v1h-1zm26 0h1v1h-1zm8 0h1v1h-1zm-30 1h1v1h-1zm47 0h1v1h-1zm-41 1h1v1h-1zm5 0h1v1h-1zm14 0h1v1h-1zm19 0h1v1h-1zm-24 1h1v1h-1zm13 0h1v1h-1zm-28 1h1v1h-1zm43 0h1v1h-1zm-12 1h1v1h-1zm-23 1h1v1h-1zm5 0h1v1h-1zm39 0h1v1h-1zm-51 1h1v1h-1zm19 0h1v1h-1zm27 0h1v1h-1zm-9 1h1v1h-1zm6 0h1v1h-1zm4 0h1v1h-1zm-42 1h1v1h-1zm26 0h1v1h-1zm10 0h1v1h-1zm5 0h1v1h-1zm-40 2h1v1h-1zm-14 1h1v1h-1zm31 0h1v1h-1zm-25 1h1v1h-1zm2 0h1v1h-1zm2 0h1v1h-1zm8 0h1v1h-1zm27 0h1v1h-1zm-10 2h1v1h-1zm-16 1h1v1h-1zm10 0h1v1h-1zm1 4h1v1h-1z"/><path fill="#0f5a48" d="M28 5h1v1h-1zm-3 5h1v1h-1zm-6 1h1v1h-1zm22 1h1v1h-1zm-3 4h1v1h-1zm-12 3h1v1h-1zm17 3h1v1h-1zm7 0h1v1h-1zm6 3h1v1h-1zm-8 2h1v1h-1zm-5 1h2v1h-2zm2 1h2v1h-2zm0 1h1v1h-1zm13 4h1v1h-1zm8 3h1v1h-1zm0 2h1v1h-1zm-6 17h1v1h-1zm2 4h1v1h-1zm-6 1h1v1h-1zm5 1h1v1h-1zm5 0h1v1h-1zm-12 2h1v1h-1zm-11 1h1v1h-1zm-9 1h1v1h-1zm23 0h1v1h-1zm-9 2h1v1h-1zm18 0h1v1h-1zm-14 3h1v1h-1zm-28 1h1v1h-1zm17 0h1v1h-1zm3 0h1v1h-1zm-35 1h1v1h-1zm4 0h1v1h-1zm41 0h1v1h-1zm5 1h1v1h-1zm-51 1h1v1h-1zm9 0h1v1h-1zm24 1h1v1h-1zm32 0h1v1h-1zm-16 1h1v1h-1zm6 0h1v1h-1zm-52 1h1v1h-1zm9 0h1v1h-1zm-13 1h1v1h-1zm13 0h1v1h-1zm16 0h1v1h-1zm4 0h1v1h-1zm27 0h1v1h-1zm-59 1h1v1h-1zm4 0h1v1h-1zm15 0h1v1h-1zm-8 1h1v1h-1zm25 2h1v1h-1zm-6 2h1v1h-1zm-17 1h1v1h-1zm5 1h2v1h-2zm3 1h1v1h-1zm-5 1h1v1h-1zm-6 1h1v1h-1zm-6 1h1v1h-1zm4 0h1v1h-1zm28 1h1v1h-1zm-35 1h1v1h-1zm1 3h1v1h-1zm3 0h1v1h-1z"/><path fill="#115e45" d="M24 7h1v1h-1zm-4 1h1v1h-1zm-8 2h2v1h-2zm15 0h1v1h-1zm-7 1h1v1h-1zm6 1h1v1h-1zm23 5h1v1h-1zm-11 7h1v1h-1zm25 0h1v1h-1zm-15 2h1v1h-1zm-10 5h1v1h-1zm9 6h1v1h-1zm-45 9h1v1h-1zm49 6h1v1h-1zm9 12h1v1h-1zm-8 1h1v1h-1zm16 4h1v1h-1zm-56 2h1v1h-1zm34 1h1v1h-1zm6 0h1v1h-1zm20 0h1v1h-1zm0 1h1v1h-1zm-37 2h1v1h-1zm26 0h1v1h-1zm-54 1h1v1h-1zm36 0h1v1h-1zm22 0h1v1h-1zm-54 1h1v1h-1zm39 0h1v1h-1zm-16 1h1v1h-1zm15 0h1v1h-1zm-1 1h1v1h-1zm-41 1h1v1h-1zm24 0h1v1h-1zm21 1h1v1h-1zm-12 1h1v1h-1zm-33 1h1v1h-1zm8 0h1v1h-1zm22 0h1v1h-1zm-23 1h1v1h-1zm2 0h1v1h-1zm3 0h1v1h-1zm1 2h1v1h-1zm0 1h1v1h-1zm10 1h1v1h-1zm4 1h1v1h-1zm-16 2h1v1h-1zm8 0h1v1h-1zm9 2h1v1h-1zm-17 3h1v1h-1zm13 1h1v1h-1z"/><path fill="#126242" d="M24 6h1v1h-1zm-3 1h1v1h-1zm-8 2h1v1h-1zm0 2h1v1h-1zm31 4h1v1h-1zm3 1h1v1h-1zm-39 2h1v1h-1zm34 1h1v1h-1zm0 3h1v1h-1zm-28 4h1v1h-1zm32 1h1v1h-1zm-12 1h1v1h-1zm7 0h1v1h-1zm5 2h1v1h-1zm5 0h1v1h-1zm-8 2h2v1h-2zm3 1h1v1h-1zm10 1h1v1h-1zm-9 7h1v1h-1zm8 0h1v1h-1zm11 14h1v1h-1zm-9 1h1v1h-1zm3 5h1v1h-1zm-59 1h1v1h-1zm-1 2h1v1h-1zm52 0h1v1h-1zm-6 2h1v1h-1zm30 1h1v1h-1zm-12 2h2v1h-2zm-7 1h1v1h-1zm-4 2h1v1h-1zm-30 1h1v1h-1zm-14 1h1v1h-1zm27 0h1v1h-1zm11 1h1v1h-1zm-27 2h1v1h-1zm25 0h1v1h-1zm-39 1h1v1h-1zm16 0h1v1h-1zm11 0h1v1h-1zm-15 1h1v1h-1zm-2 1h1v1h-1zm50 0h1v1h-1zm-13 1h1v1h-1zm-48 2h1v1h-1zm17 0h1v1h-1zm5 0h1v1h-1zm2 0h1v1h-1zm24 0h1v1h-1zm-21 1h1v1h-1zm-6 1h1v1h-1zm22 0h1v1h-1zm-38 1h1v1h-1zm9 0h1v1h-1zm9 0h1v1h-1zm2 0h1v1h-1zm7 0h1v1h-1zm-23 2h1v1h-1zm5 0h2v1h-2zm4 0h2v1h-2zm-10 1h1v1h-1zm22 0h1v1h-1zm6 0h1v1h-1zm-6 1h1v1h-1zm-24 1h1v1h-1zm6 0h1v1h-1zm2 0h1v1h-1zm20 0h1v1h-1zm-24 4h1v1h-1z"/><path fill="#14663f" d="M36 3h1v1h-1zm-9 1h1v1h-1zm20 9h1v1h-1zm1 2h1v1h-1zm-1 3h1v1h-1zm-25 4h1v1h-1zm28 6h1v1h-1zm-2 1h1v1h-1zm-3 2h1v1h-1zm1 10h1v1h-1zm-44 4h1v1h-1zm58 3h1v1h-1zm5 13h1v1h-1zm-12 4h1v1h-1zm10 1h1v1h-1zm-10 2h1v1h-1zm19 1h1v1h-1zm-66 4h1v1h-1zm56 1h1v1h-1zm-53 6h1v1h-1zm50 0h1v1h-1zm-14 2h1v1h-1zm19 0h1v1h-1zm-24 2h1v1h-1zm-1 1h1v1h-1zm-22 1h1v1h-1zm14 0h1v1h-1zm-21 1h1v1h-1zm25 1h1v1h-1zm8 0h1v1h-1zm-17 1h1v1h-1zm18 1h1v1h-1zm-24 1h1v1h-1z"/><path fill="#15693c" d="M26 6h1v1h-1zm9 2h1v1h-1zm-23 1h1v1h-1zm27 6h1v1h-1zm4 1h1v1h-1zm13 5h1v1h-1zm-9 4h1v1h-1zm2 1h1v1h-1zm0 2h1v1h-1zm-2 2h1v1h-1zm-6 3h1v1h-1zm19 2h1v1h-1zm6 1h1v1h-1zm-1 22h1v1h-1zm-64 6h1v1h-1zm57 4h1v1h-1zm-1 1h1v1h-1zm-45 3h1v1h-1zm31 0h1v1h-1zm-32 2h1v1h-1zm41 3h1v1h-1zm-13 1h1v1h-1zm-4 2h1v1h-1zm-7 1h1v1h-1zm-20 1h1v1h-1zm29 0h1v1h-1zm18 0h1v1h-1zm-41 1h1v1h-1zm13 1h1v1h-1zm3 0h1v1h-1zm-14 3h1v1h-1zm29 0h1v1h-1zm-22 9h1v1h-1z"/><path fill="#166d39" d="M13 5h1v1h-1zm6 4h1v1h-1zm26 15h1v1h-1zm3 0h1v1h-1zm-3 2h1v1h-1zm8 1h1v1h-1zm-6 1h1v1h-1zm0 3h1v1h-1zm27 13h1v1h-1zm-9 7h1v1h-1zm-4 7h1v1h-1zm3 2h1v1h-1zm-15 7h1v1h-1zm0 1h1v1h-1zm18 0h1v1h-1zm8 0h1v1h-1zm-36 1h1v1h-1zm30 1h1v1h-1zm-17 4h1v1h-1zm2 1h1v1h-1zm1 2h1v1h-1zm-53 1h1v1h-1zm55 0h1v1h-1zm-23 4h1v1h-1zm-24 2h1v1h-1zm12 1h1v1h-1zm-15 1h1v1h-1zm31 0h1v1h-1zm7 0h1v1h-1zm-5 1h1v1h-1zm-14 1h1v1h-1zm-3 1h1v1h-1zm27 0h1v1h-1zm-41 1h1v1h-1zm0 1h1v1h-1zm4 0h1v1h-1zm18 0h1v1h-1z"/><path fill="#187136" d="M22 5h1v1h-1zm13 0h1v1h-1zm13 12h1v1h-1zm-2 6h1v1h-1zm-4 1h1v1h-1zm1 1h1v1h-1zm-3 1h1v1h-1zm12 1h1v1h-1zm11 0h1v1h-1zm-10 1h1v1h-1zm-4 5h1v1h-1zm-49 15h1v1h-1zm0 11h1v1h-1zm69 3h1v1h-1zm-69 1h1v1h-1zm2 4h1v1h-1zm49 0h1v1h-1zm11 1h1v1h-1zm-60 2h1v1h-1zm24 9h1v1h-1zm-18 2h1v1h-1zm4 2h1v1h-1zm53 0h1v1h-1zm-43 1h1v1h-1zm25 2h1v1h-1zm-39 2h1v1h-1zm14 0h1v1h-1zm-18 1h1v1h-1zm10 0h1v1h-1zm-2 5h1v1h-1zm8 0h1v1h-1z"/><path fill="#197533" d="M14 5h1v1h-1zm-4 2h1v1h-1zm8 0h1v1h-1zm-9 5h1v1h-1zm29 1h1v1h-1zm3 9h1v1h-1zm-11 3h1v1h-1zm17 2h1v1h-1zm-4 2h1v1h-1zm-43 20h1v1h-1zm63 2h1v1h-1zm0 8h1v1h-1zm0 1h1v1h-1zm-11 7h1v1h-1zm15 0h1v1h-1zm-66 6h1v1h-1zm60 3h1v1h-1zm-56 1h1v1h-1zm37 3h1v1h-1zm-40 1h1v1h-1zm3 3h1v1h-1zm12 0h1v1h-1zm-3 1h2v1h-2zm4 0h1v1h-1zm17 0h1v1h-1zm-27 1h1v1h-1zm8 0h1v1h-1zm1 3h1v1h-1zm-7 1h1v1h-1zm30 0h1v1h-1zm-4 4h1v1h-1z"/><path fill="#1b7830" d="M10 8h1v1h-1zm12 1h1v1h-1zm0 1h1v1h-1zm12 4h1v1h-1zm-6 2h1v1h-1zm15 8h1v1h-1zm-1 1h1v1h-1zm12 4h1v1h-1zm7 26h1v1h-1zm-1 17h1v1h-1zm-14 3h1v1h-1zm21 5h1v1h-1zm-33 3h1v1h-1zm-32 2h1v1h-1zm4 0h1v1h-1zm22 0h1v1h-1zm21 0h1v1h-1zm-42 3h1v1h-1zm6 0h1v1h-1zm4 0h1v1h-1zm15 0h1v1h-1z"/><path fill="#1c7c2e" d="M25 6h1v1h-1zm11 1h1v1h-1zm-11 1h1v1h-1zm24 14h1v1h-1zm-48 14h1v1h-1zm52 28h1v1h-1zm14 0h1v1h-1zm-66 5h1v1h-1zm70 6h1v1h-1zm-38 8h1v1h-1zm-7 1h1v1h-1zm8 0h1v1h-1zm3 3h1v1h-1zm-7 2h1v1h-1zm18 0h1v1h-1zm-40 2h1v1h-1zm0 3h1v1h-1zm7 4h1v1h-1z"/><path fill="#1e802b" d="M48 11h1v1h-1zm-4 6h1v1h-1zm7 11h1v1h-1zm-7 1h1v1h-1zm18 33h1v1h-1zm-14 2h1v1h-1zm2 6h1v1h-1zm-46 7h1v1h-1zm35 3h1v1h-1zm-33 8h1v1h-1zm2 1h1v1h-1zm3 1h1v1h-1zm2 0h1v1h-1zm21 3h1v1h-1z"/><path fill="#1f8428" d="M9 5h1v1h-1zm38 19h1v1h-1zm-3 2h1v1h-1zm16 1h1v1h-1zm-14 1h1v1h-1zm15 1h1v1h-1zm3 28h1v1h-1zm-1 1h1v1h-1zm-7 6h1v1h-1zm7 11h1v1h-1zm-58 7h1v1h-1zm-3 2h1v1h-1zm8 1h1v1h-1zm2 0h1v1h-1zm-2 3h1v1h-1zm6 1h1v1h-1zm0 1h1v1h-1zm29 1h1v1h-1z"/><path fill="#218725" d="M29 3h1v1h-1zm-9 3h1v1h-1zm9 0h1v1h-1zm15 4h1v1h-1zm6 2h1v1h-1zm-42 7h1v1h-1zm50 34h1v1h-1zm6 15h1v1h-1zm-14 8h1v1h-1zm7 0h1v1h-1zm-8 5h1v1h-1zm-39 1h1v1h-1zm2 4h1v1h-1zm-1 3h1v1h-1zm-6 1h1v1h-1zm10 0h1v1h-1zm28 0h1v1h-1z"/><path fill="#228b22" d="M27 2h1v1h-1zm1 1h1v1h-1zm-6 3h1v1h-1zm0 1h1v1h-1zm6 0h1v1h-1zm-16 1h2v1h-2zm4 0h1v1h-1zm26 0h1v1h-1zm-27 3h1v1h-1zm-11 5h1v1h-1zm13 5h1v1h-1zm35 3h1v1h-1zm-4 1h2v1h-2zm-6 1h2v1h-2zm5 0h1v1h-1zm6 5h1v1h-1zm-53 15h1v1h-1zm63 8h1v1h-1zm-11 9h1v1h-1zm9 1h1v1h-1zm-5 2h1v1h-1zm-3 1h1v1h-1zm2 2h1v1h-1zm6 2h1v1h-1zm20 0h1v1h-1zm-39 3h1v1h-1zm2 0h1v1h-1zm4 0h1v1h-1zm-47 8h1v1h-1zm41 0h1v1h-1zm3 1h1v1h-1zm2 0h1v1h-1zm-39 2h1v1h-1zm27 1h1v1h-1zm-27 1h1v1h-1zm14 0h1v1h-1zm2 0h1v1h-1zm-13 1h2v1h-2zm23 0h1v1h-1zm12 0h1v1h-1zm-36 1h1v1h-1zm4 1h1v1h-1zm-2 2h1v1h-1zm-1 3h1v1h-1zm-1 2h1v1h-1z"/></g><path fill="none" stroke="#000000" stroke-width="5.6" stroke-linejoin="round" d="M362.8 1015.2l14.4 13.4l-14.4 13.4M362.8 1162.6l0 0l0.0-13.4l0.0-13.4l0.0-13.4l0.0-13.4l14.4-13.4l14.4 13.4l0 0l0 0l0.0-13.4l0 0l-14.4-13.4l14.4-13.4l0 0l0 0l-14.4-13.4l14.4-13.4l14.4 0l0 0l0 0l-14.4 0l-14.4-13.4l0.0-13.4l14.4-13.4l14.4 0l14.4 0l0 0l0 0l-14.4 0l-14.4-13.4l14.4-13.4l14.4 0l0 0l14.4-13.4l0 0l14.4-13.4l0 0l0 0l-14.4-13.4l14.4-13.4l14.4 0l0 0l0 0l-14.4-13.4l0 0l0 0l-14.4 13.4l-14.4-13.4l14.4-13.4l0 0l14.4-13.4l0 0l14.4-13.4l0 0l0.0-13.4l14.4-13.4l14.4 13.4l0 13.4l0 0l14.4 0l0 0l0 0l-14.4-13.4l14.4-13.4l0 0l0 0l-14.4-13.4l0.0-13.4l14.4-13.4l0 0l14.4-13.4l14.4 13.4l-14.4 13.4l0 0l0 13.4l0 0l0 0l14.4-13.4l14.4 0l14.4 0l0 0l14.4-13.4l0 0l14.4-13.4l14.4 13.4l0 0l14.4 0l0 0l14.4-13.4l14.4 0l14.4 0l0 0l14.4-13.4l14.4 13.4l0 13.4l0 13.4l0 13.4l0 0l0 0l0.0-13.4l0.0-13.4l0.0-13.4l14.4-13.4l14.4 0l0 0l14.4-13.4l14.4 0l0 0l0 0l-14.4-13.4l14.4-13.4l14.4 13.4l0 0l14.4 0l14.4 13.4l-14.4 13.4l-14.4 0l0 0l0 0l14.4 13.4l0 0l14.4 13.4l0 0l14.4 13.4l-14.4 13.4l-14.4-13.4l0 0l0 0l-14.4 13.4l0 0l0 0l14.4 13.4l0 0l14.4 0l14.4 0l14.4 13.4l0 13.4l0 13.4l0 0l0 0l14.4-13.4l0 0l0.0-13.4l14.4-13.4l14.4 13.4l0 0l14.4 0l14.4 0l0 0l0.0-13.4l0 0l-14.4-13.4l0 0l0 0l-14.4 13.4l-14.4-13.4l14.4-13.4l0 0l14.4-13.4l14.4 13.4l0 0l14.4 13.4l0 0l14.4 0l14.4 13.4l0 0l14.4 13.4l-14.4 13.4l-14.4-13.4l0 0l0 0l-14.4 13.4l0 0l-14.4 13.4l0 0l0 13.4l0 13.4l0 0l0 0l0.0-13.4l14.4-13.4l0 0l14.4-13.4l14.4 0l14.4 0l14.4 13.4l-14.4 13.4l-14.4 0l-14.4 0l0 0l0 0l14.4 0l14.4 0l14.4 0l14.4 13.4l-14.4 13.4l-14.4 0l0 0l0 0l14.4 0l14.4 0l0 0l14.4-13.4l14.4 13.4l-14.4 13.4l0 0l0 0l14.4 0l0 0l14.4-13.4l0 0l0 0l-14.4-13.4l0 0l-14.4-13.4l0 0l-14.4-13.4l14.4-13.4l14.4 0l14.4 13.4l0 0l0 0l14.4-13.4l0 0l14.4-13.4l14.4 13.4l-14.4 13.4l0 0l0 0l14.4 13.4l0 0l14.4 13.4l-14.4 13.4l0 0l-14.4 13.4l0 0l0 0l14.4 0l14.4 13.4l-14.4 13.4l-14.4 0l0 0l-14.4 13.4l0 0l-14.4 13.4l0 0l0 0l14.4 13.4l0 0l0 0l14.4-13.4l14.4 0l14.4 0l0 0l14.4-13.4l0 0l0 0l-14.4-13.4l14.4-13.4l14.4 0l14.4 13.4l0 0l14.4 13.4l0 0l14.4 13.4l-14.4 13.4l0 0l-14.4 13.4l-14.4 0l0 0l0 0l14.4 0l14.4 0l14.4 0l14.4 0l14.4 13.4l0 0l14.4 0l14.4 0l14.4 0l0 0l14.4-13.4l14.4 13.4l-14.4 13.4l0 0l0 13.4l-14.4 13.4l-14.4-13.4l0 0l-14.4 0l-14.4 0l0 0l0 13.4l0 13.4l-14.4 13.4l0 0l0 0l14.4 0l0 0l14.4-13.4l14.4 13.4l0 0l14.4 13.4l0 13.4l-14.4 13.4l-14.4 0l-14.4-13.4l0 0l0 0l0 13.4l0 0l14.4 0l14.4 0l14.4 13.4l0 0l14.4 13.4l0 13.4l0 0l14.4 0l14.4 0l14.4 13.4l-14.4 13.4l0 0l0 13.4l-14.4 13.4l0 0l0 0l14.4 0l14.4 13.4l0 0l0 0l0.0-13.4l14.4-13.4l0 0l0.0-13.4l0 0l-14.4-13.4l14.4-13.4l14.4 0l14.4 13.4l0 13.4l0 0l0 0l14.4-13.4l14.4 13.4l-14.4 13.4l0 0l-14.4 13.4l0 0l0 13.4l0 13.4l0 0l14.4 13.4l0 0l0 0l14.4-13.4l14.4 0l0 0l14.4-13.4l0 0l0 0l-14.4-13.4l0 0l0 0l-14.4 13.4l-14.4-13.4l14.4-13.4l0 0l0.0-13.4l14.4-13.4l14.4 13.4l0 13.4l0 0l14.4 0l14.4 13.4l0 13.4l0 13.4l-14.4 13.4l-14.4 0l0 0l0 13.4l-14.4 13.4l-14.4-13.4l0 0l0 0l-14.4 13.4l-14.4 0l-14.4-13.4l0 0l-14.4 0l0 0l0 13.4l0 0l14.4 13.4l0 13.4l0 13.4l0 13.4l0 0l14.4 13.4l0 0l14.4 0l14.4 0l0 0l14.4-13.4l14.4 0l0 0l0 0l-14.4 0l-14.4-13.4l14.4-13.4l14.4 0l14.4 0l14.4 13.4l0 13.4l0 0l14.4 13.4l-14.4 13.4l0 0l0 0l14.4 0l14.4 0l0 0l0 0l-14.4-13.4l14.4-13.4l14.4 13.4l0 0l0 0l14.4-13.4l0 0l0 0l-14.4-13.4l0 0l0 0l-14.4 13.4l-14.4-13.4l14.4-13.4l0 0l14.4-13.4l14.4 13.4l0 0l14.4 13.4l0 0l14.4 13.4l0 0l14.4 13.4l-14.4 13.4l-14.4-13.4l0 0l0 0l-14.4 13.4l0 0l-14.4 13.4l0 0l-14.4 13.4l0 0l-14.4 13.4l-14.4-13.4l0 0l-14.4-13.4l0 0l-14.4-13.4l0 0l-14.4 0l0 0l0 0l14.4 13.4l-14.4 13.4l-14.4-13.4l0 0l-14.4 0l-14.4 0l0 0l-14.4 13.4l0 0l-14.4 13.4l0 0l0 0l14.4 0l0 0l14.4-13.4l0 0l14.4-13.4l14.4 13.4l0 0l14.4 0l14.4 13.4l0 13.4l0 13.4l0 0l14.4 13.4l0 0l0 0l14.4-13.4l14.4 0l14.4 0l0 0l14.4-13.4l14.4 13.4l0 13.4l-14.4 13.4l0 0l0 13.4l0 13.4l-14.4 13.4l-14.4-13.4l0.0-13.4l0 0l-14.4 0l0 0l0 0l14.4 13.4l-14.4 13.4l0 0l0 13.4l0 0l14.4 0l14.4 13.4l-14.4 13.4l-14.4 0l-14.4-13.4l0 0l-14.4-13.4l0.0-13.4l14.4-13.4l0 0l0 0l-14.4 0l-14.4 0l-14.4-13.4l14.4-13.4l14.4 0l0 0l0 0l-14.4 0l-14.4-13.4l0.0-13.4l0 0l0 0l0 13.4l-14.4 13.4l0 0l0 0l14.4 13.4l-14.4 13.4l0 0l0 0l14.4 0l14.4 0l14.4 13.4l0 13.4l-14.4 13.4l-14.4 0l-14.4-13.4l0 0l0 0l-14.4 13.4l-14.4-13.4l0.0-13.4l0 0l-14.4 0l0 0l0 0l14.4 13.4l0 13.4l0 0l14.4 13.4l0 0l14.4 0l0 0l14.4-13.4l14.4 13.4l0 0l0 0l14.4-13.4l14.4 13.4l-14.4 13.4l0 0l0 0l14.4 13.4l0 13.4l-14.4 13.4l-14.4 0l-14.4 0l-14.4-13.4l14.4-13.4l14.4 0l0 0l0 0l-14.4 0l-14.4 0l0 0l-14.4 13.4l0 0l-14.4 13.4l0 0l0 0l14.4 0l14.4 13.4l0 0l14.4 13.4l0 13.4l0 0l0 0l14.4-13.4l14.4 13.4l-14.4 13.4l0 0l-14.4 13.4l-14.4-13.4l0 0l0 0l-14.4 13.4l-14.4-13.4l14.4-13.4l0 0l0 0l-14.4 0l0 0l0 13.4l-14.4 13.4l0 0l-14.4 13.4l-14.4-13.4l0 0l0 0l-14.4 13.4l0 0l0 0l14.4 0l14.4 13.4l-14.4 13.4l0 0l0 0l14.4 13.4l-14.4 13.4l-14.4-13.4l0 0l0 0l0 13.4l0 13.4l0 0l0 0l14.4-13.4l14.4 13.4l-14.4 13.4l0 0l-14.4 13.4l0 0l0 0l14.4 13.4l-14.4 13.4l-14.4 0l-14.4-13.4l0.0-13.4l14.4-13.4l0 0l0 0l-14.4 0l-14.4-13.4l0 0l-14.4 0l0 0l0 0l14.4 13.4l0 0l14.4 13.4l0 13.4l-14.4 13.4l0 0l0 0l14.4 13.4l-14.4 13.4l-14.4 0l0 0l-14.4 13.4l-14.4-13.4l14.4-13.4l0 0l0 0l-14.4-13.4l0 0l-14.4 0l-14.4 0l0 0l0 0l14.4 0l14.4 13.4l0 13.4l-14.4 13.4l-14.4 0l0 0l0 13.4l-14.4 13.4l-14.4-13.4l0.0-13.4l0 0l-14.4-13.4l14.4-13.4l14.4 0l0 0l0 0l-14.4 0l-14.4 0l-14.4-13.4l0 0l0 0l0 13.4l0 0l14.4 13.4l0 13.4l-14.4 13.4l0 0l0 0l14.4 13.4l-14.4 13.4l-14.4-13.4l0 0l-14.4 0l0 0l0 0l14.4 13.4l-14.4 13.4l-14.4 0l0 0l0 0l14.4 0l14.4 13.4l-14.4 13.4l-14.4 0l-14.4-13.4l0 0l-14.4 0l0 0l0 0l14.4 13.4l0 13.4l-14.4 13.4l0 0l-14.4 13.4l-14.4-13.4l14.4-13.4l0 0l0 0l-14.4 0l-14.4-13.4l14.4-13.4l0 0l0 0l-14.4-13.4l0.0-13.4l0.0-13.4l0 0l-14.4 0l0 0l0 0l14.4 13.4l-14.4 13.4l-14.4 0l0 0l0 0l14.4 0l14.4 13.4l0 13.4l-14.4 13.4l-14.4 0l0 0l-14.4 13.4l-14.4-13.4l0 0l0 0l-14.4 13.4l-14.4-13.4l0 0l-14.4 0l0 0l0 0l14.4 13.4l0 0l14.4 13.4l0 13.4l0 0l14.4 13.4l0 13.4l-14.4 13.4l-14.4-13.4l0.0-13.4l0 0l-14.4-13.4l0 0l0 0l-14.4 13.4l0 0l-14.4 13.4l-14.4-13.4l0.0-13.4l0 0l-14.4 0l-14.4-13.4l0 0l0 0l0 13.4l-14.4 13.4l-14.4 0l-14.4 0l-14.4 0l0 0l0 13.4l-14.4 13.4l0 0l-14.4 13.4l0 0l-14.4 13.4l-14.4-13.4l14.4-13.4l0 0l0 0l-14.4-13.4l0 0l0 0l-14.4 13.4l-14.4 0l-14.4-13.4l0 0l0 0l-14.4 13.4l-14.4-13.4l0 0l-14.4-13.4l0.0-13.4l0 0l-14.4-13.4l0 0l-14.4-13.4l0 0l-14.4 0l0 0l0 0l14.4 13.4l-14.4 13.4l0 0l-14.4 13.4l0 0l-14.4 13.4l0 0l0 13.4l-14.4 13.4l-14.4-13.4l0.0-13.4l14.4-13.4l0 0l14.4-13.4l0 0l0.0-13.4l0.0-13.4l0 0l-14.4 0l-14.4 0l0 0l0 0l14.4 13.4l-14.4 13.4l0 0l-14.4 13.4l-14.4-13.4l14.4-13.4l0 0l0 0l-14.4-13.4l0.0-13.4l14.4-13.4l0 0l0 0l-14.4-13.4l0 0l-14.4 0l-14.4-13.4l0.0-13.4l0 0l-14.4-13.4l14.4-13.4l0 0l0 0l-14.4-13.4l0 0l-14.4 0l0 0l0 13.4l0 0l14.4 13.4l-14.4 13.4l-14.4-13.4l0 0l-14.4-13.4l0.0-13.4l0 0l-14.4-13.4l0.0-13.4l0.0-13.4l14.4-13.4l0 0l14.4-13.4l14.4 13.4l0 0l0 0l0.0-13.4l0 0l-14.4 0l-14.4-13.4l0.0-13.4l0.0-13.4l0 0l-14.4-13.4l0 0M362.8 1242.9l14.4 0l0 0l0.0-13.4l0.0-13.4l0 0l-14.4-13.4l0 0M362.8 1283.1l0 0l0.0-13.4l0 0M362.8 1309.9l0 0zM362.8 1417.1l0 0l0.0-13.4l0.0-13.4l0 0M362.8 1457.3l0 0l0.0-13.4l0 0M362.8 1497.5l0 0zM362.8 1551.1l0 0zM362.8 1604.6l0 0zM362.8 1631.4l0 0zM362.8 1671.6l14.4 0l14.4 0l0 0l0 0l-14.4 0l-14.4-13.4l0 0M507.2 2046.7l14.4-13.4l14.4 13.4M882.7 747.3l14.4 13.4l-14.4 13.4l-14.4-13.4zM492.8 760.7l14.4 13.4l0 13.4l-14.4 13.4l-14.4-13.4l0.0-13.4zM954.9 760.7l14.4 13.4l-14.4 13.4l-14.4-13.4zM550.5 774.1l14.4 0l14.4 13.4l-14.4 13.4l-14.4 0l-14.4-13.4zM752.7 787.5l0 0l0 13.4l0 0l14.4 0l0 0l0 0l-14.4-13.4zM824.9 774.1l14.4 13.4l0 0l14.4 13.4l-14.4 13.4l-14.4-13.4l0 0l-14.4-13.4zM868.2 774.1l14.4 13.4l-14.4 13.4l-14.4-13.4zM593.9 814.3l0 0l0 0l0 0zM651.6 814.3l0 0l0 0l0 0zM723.8 814.3l0 0l0 0l14.4 0l0 0l0 0zM579.4 827.7l0 0l0 0l0 0zM608.3 827.7l0 0l0 0l0 0zM969.3 814.3l14.4 13.4l0 0l14.4 13.4l0 0l14.4 13.4l-14.4 13.4l-14.4-13.4l0 0l0 0l-14.4 13.4l-14.4-13.4l14.4-13.4l0 0l0 0l-14.4-13.4zM593.9 841.1l0 0l0 0l0 0zM709.4 841.1l0 0l0 13.4l0 0l0 0l0.0-13.4zM752.7 841.1l0 0l0 0l0 0zM565.0 854.5l0 0l0 0l0 0zM608.3 854.5l0 0l-14.4 13.4l0 0l0 13.4l0 0l0 0l14.4-13.4l14.4 0l0 0l0 0l-14.4-13.4zM637.2 854.5l0 0l0 0l0 0zM738.3 854.5l0 0l0 0l0 0zM767.1 854.5l0 0l0 0l0 0zM1027.1 841.1l14.4 13.4l-14.4 13.4l-14.4-13.4zM666.1 867.9l0 0l0 0l0 0zM478.3 881.3l0 0l0 13.4l0 0l0 0l0.0-13.4zM536.1 881.3l0 0l0 0l14.4 13.4l-14.4 13.4l-14.4 0l-14.4-13.4l0 0l0 0l0 13.4l0 0l14.4 0l14.4 0l14.4 0l14.4 13.4l0 0l0 0l0.0-13.4l0.0-13.4l0 0l-14.4-13.4l0 0zM680.5 881.3l0 0l0 0l0 0zM709.4 881.3l0 0l0 0l0 0zM767.1 881.3l0 0l0 0l0 0zM1084.8 867.9l14.4 13.4l-14.4 13.4l-14.4-13.4zM694.9 894.6l0 0l0 0l0 0zM738.3 894.6l0 0l0 0l0 0zM781.6 894.6l0 0l0 0l14.4 0l0 0l0 0zM853.8 894.6l0 0l0 0l0 0zM608.3 908.0l0 0l0 0l0 0zM1055.9 908.0l0 0l0 0l0 0zM767.1 921.4l0 0l0 0l14.4 0l0 0l0 0zM911.5 921.4l0 0l0 0l0 0zM1099.3 908.0l14.4 13.4l-14.4 13.4l-14.4-13.4zM406.1 921.4l14.4 0l14.4 13.4l-14.4 13.4l-14.4 0l-14.4-13.4zM492.8 934.8l0 0l-14.4 13.4l0 0l0 0l14.4 13.4l0 0l0 0l0.0-13.4l0.0-13.4zM694.9 934.8l0 0l0 13.4l0 0l0 0l0.0-13.4zM868.2 934.8l0 0l0 0l14.4 13.4l0 0l0 0l14.4-13.4l0 0l0 0l-14.4 0zM1142.6 921.4l14.4 13.4l-14.4 13.4l-14.4-13.4zM608.3 948.2l0 0l0 0l0 0zM781.6 948.2l0 0l0 0l14.4 0l0 0l0 0zM954.9 948.2l0 0l0 0l0 0zM1027.1 948.2l0 0l0 13.4l0 0l0 0l14.4-13.4l0 0l0 0zM406.1 948.2l14.4 13.4l-14.4 13.4l-14.4-13.4zM463.9 961.6l0 0l0 0l0 0zM521.7 961.6l0 0l0 0l0 0zM998.2 961.6l0 0l0 0l0 0zM449.5 975.0l0 0l0 0l0 0zM507.2 975.0l0 0l0 0l0 0zM536.1 975.0l0 0l0 0l0 0zM882.7 975.0l0 0l0 0l0 0zM983.7 975.0l0 0l0 0l0 0zM1012.6 975.0l0 0l0 0l0 0zM435.0 988.4l0 0l0 0l0 0zM651.6 988.4l0 0l0 0l0 0zM1128.1 988.4l0 0l0 0l0 0zM1099.3 1001.8l0 0l0 0l0 0zM1171.5 988.4l14.4 13.4l-14.4 13.4l-14.4-13.4zM1055.9 1015.2l0 0l0 13.4l0 0l14.4 0l14.4 13.4l0 13.4l0 13.4l-14.4 13.4l0 0l0 0l14.4 0l0 0l0.0-13.4l0.0-13.4l0.0-13.4l14.4-13.4l0 0l0 0l-14.4 0l-14.4 0l-14.4-13.4zM1214.8 1001.8l14.4 13.4l-14.4 13.4l-14.4-13.4zM449.5 1028.6l0 0l0 0l0 0zM911.5 1028.6l0 0l0 0l0 0zM954.9 1028.6l0 0l0 0l0 0zM1012.6 1028.6l0 0l0 0l0 0zM1027.1 1042.0l0 0l0 0l0 0zM1142.6 1042.0l0 0l0 0l14.4 13.4l0 0l0 0l14.4-13.4l0 0l0 0l-14.4 0zM1272.5 1028.6l14.4 13.4l-14.4 13.4l-14.4-13.4zM882.7 1055.4l0 0l0 0l0 0zM1012.6 1055.4l0 0l0 0l0 0zM1113.7 1055.4l0 0l0 0l14.4 13.4l0 0l0 0l0.0-13.4l0 0zM420.6 1068.8l0 0l0 0l0 0zM449.5 1068.8l0 0l0 0l0 0zM824.9 1068.8l0 0l0 0l0 0zM1200.3 1055.4l14.4 13.4l-14.4 13.4l-14.4-13.4zM406.1 1082.2l0 0l0 0l0 0zM969.3 1082.2l0 0l0 0l0 0zM1012.6 1082.2l0 0l0 0l0 0zM1142.6 1082.2l0 0l0 13.4l0 0l0 0l14.4-13.4l0 0l0 0zM1229.2 1068.8l14.4 13.4l0 0l14.4 0l0 0l14.4-13.4l14.4 13.4l-14.4 13.4l0 0l-14.4 13.4l0 0l0 13.4l-14.4 13.4l-14.4-13.4l0.0-13.4l0.0-13.4l0 0l-14.4-13.4zM1055.9 1095.6l0 0l0 0l0 0zM1099.3 1109.0l0 0l0 0l14.4 0l14.4 13.4l0 0l0 0l0.0-13.4l0 0l-14.4 0zM1157.0 1109.0l0 0l0 0l0 0zM1359.2 1095.6l14.4 13.4l-14.4 13.4l-14.4-13.4zM998.2 1122.4l0 0l0 13.4l0 0l0 0l0.0-13.4zM1315.9 1109.0l14.4 13.4l0 13.4l-14.4 13.4l0 0l-14.4 13.4l-14.4-13.4l14.4-13.4l0 0l0.0-13.4zM1142.6 1135.8l0 0l0 13.4l0 0l0 0l0.0-13.4zM1359.2 1122.4l14.4 13.4l-14.4 13.4l0 0l0 0l14.4 0l14.4 13.4l-14.4 13.4l-14.4 0l-14.4-13.4l0 0l-14.4-13.4l14.4-13.4l0 0zM1027.1 1149.2l0 0l0 0l0 0zM1113.7 1149.2l0 0l0 0l0 0zM1171.5 1149.2l0 0l0 0l0 0zM1258.1 1135.8l14.4 0l14.4 13.4l-14.4 13.4l-14.4 0l-14.4-13.4zM478.3 1162.6l0 0l0 0l0 0zM1185.9 1162.6l0 0l0 13.4l0 0l0 0l0.0-13.4zM1214.8 1162.6l0 0l0 0l0 0zM377.3 1176.0l0 0l0 13.4l0 0l14.4 0l0 0l0 0l-14.4-13.4zM1402.5 1162.6l14.4 13.4l-14.4 13.4l-14.4-13.4zM1157.0 1189.4l0 0l0 0l14.4 0l0 0l0 0zM1185.9 1202.8l0 0l0 0l14.4 0l0 0l0 0zM1243.7 1202.8l0 0l-14.4 13.4l-14.4 0l0 0l0 0l14.4 0l14.4 0l0 0l0.0-13.4zM1055.9 1216.2l0 0l0 0l0 0zM1142.6 1229.5l0 0l0 0l0 0zM1229.2 1242.9l0 0l0 0l14.4 0l0 0l0 0zM1214.8 1256.3l0 0l0 0l0 0zM1243.7 1269.7l0 0l0 0l14.4 0l0 0l0 0zM1272.5 1283.1l0 0l0 13.4l0 13.4l0 0l14.4 0l0 0l0 0l-14.4-13.4l0.0-13.4zM1229.2 1296.5l0 0l0 13.4l0 0l0 0l14.4-13.4l0 0l0 0zM1344.7 1296.5l14.4 13.4l-14.4 13.4l-14.4-13.4zM1416.9 1296.5l14.4 0l14.4 13.4l-14.4 13.4l-14.4 0l-14.4-13.4zM1157.0 1323.3l0 0l0 0l14.4 0l14.4 0l0 0l0 0l-14.4 0zM1214.8 1323.3l0 0l0 0l0 0zM1258.1 1323.3l0 0l0 0l0 0zM1330.3 1323.3l14.4 13.4l-14.4 13.4l-14.4-13.4zM1287.0 1350.1l0 0l0 0l0 0zM1272.5 1363.5l0 0l0 0l0 0zM1402.5 1363.5l0 0l0 0l0 0zM1200.3 1390.3l0 0l0 0l0 0zM1258.1 1390.3l0 0l0 0l0 0zM1287.0 1390.3l0 0l0 0l0 0zM1590.2 1390.3l14.4 13.4l-14.4 13.4l-14.4-13.4zM1200.3 1417.1l0 0l0 0l14.4 0l14.4 0l0 0l0 0l-14.4 0zM1344.7 1417.1l0 0l0 0l0 0zM1287.0 1430.5l0 0l0 0l0 0zM1330.3 1430.5l0 0l0 0l0 0zM1402.5 1417.1l14.4 13.4l-14.4 13.4l-14.4-13.4zM1518.0 1417.1l14.4 13.4l0 13.4l0 13.4l-14.4 13.4l0 0l-14.4 13.4l-14.4 0l-14.4-13.4l0.0-13.4l14.4-13.4l14.4 13.4l0 0l0 0l0.0-13.4l0.0-13.4zM1590.2 1417.1l14.4 13.4l-14.4 13.4l-14.4-13.4zM1546.9 1430.5l14.4 0l14.4 13.4l-14.4 13.4l0 0l0 0l14.4 13.4l-14.4 13.4l-14.4-13.4l0 0l-14.4-13.4l0.0-13.4zM1287.0 1457.3l0 0l-14.4 13.4l0 0l0 0l14.4 0l0 0l0.0-13.4zM1315.9 1470.7l0 0l-14.4 13.4l0 0l0 0l14.4 0l0 0l0.0-13.4zM1590.2 1457.3l14.4 13.4l-14.4 13.4l-14.4-13.4zM1171.5 1484.1l0 0l0 0l0 0zM1243.7 1484.1l0 0l0 0l0 0zM1287.0 1497.5l0 0l0 0l0 0zM1518.0 1484.1l14.4 13.4l-14.4 13.4l-14.4-13.4zM1561.3 1484.1l14.4 13.4l-14.4 13.4l-14.4-13.4zM1157.0 1510.9l0 0l0 0l0 0zM1243.7 1510.9l0 0l0 0l14.4 0l0 0l0 0zM1489.1 1497.5l14.4 13.4l-14.4 13.4l-14.4-13.4zM377.3 1524.3l0 0l0 0l0 0zM1229.2 1524.3l0 0l0 0l0 0zM1676.9 1510.9l14.4 13.4l-14.4 13.4l-14.4-13.4zM1749.1 1510.9l14.4 13.4l-14.4 13.4l-14.4-13.4zM1243.7 1537.7l0 0l0 0l0 0zM1272.5 1537.7l0 0l0 13.4l-14.4 13.4l0 0l0 0l14.4 0l0 0l0.0-13.4l0.0-13.4zM1460.3 1524.3l14.4 13.4l-14.4 13.4l-14.4-13.4zM1301.4 1551.1l0 0l0 0l0 0zM1532.5 1537.7l14.4 13.4l0 13.4l-14.4 13.4l-14.4-13.4l0.0-13.4zM1315.9 1564.4l0 0l0 13.4l0 0l0 0l0.0-13.4zM1416.9 1551.1l14.4 13.4l-14.4 13.4l-14.4-13.4zM1445.8 1551.1l14.4 13.4l0 13.4l-14.4 13.4l0 0l-14.4 13.4l0 0l-14.4 13.4l-14.4-13.4l0.0-13.4l14.4-13.4l14.4 0l0 0l0.0-13.4zM1503.6 1551.1l14.4 13.4l-14.4 13.4l0 0l-14.4 13.4l-14.4-13.4l14.4-13.4l0 0zM1604.7 1551.1l14.4 13.4l-14.4 13.4l-14.4-13.4zM1157.0 1577.8l0 0l0 0l0 0zM1214.8 1577.8l0 0l0 0l0 0zM1142.6 1591.2l0 0l0 0l0 0zM1171.5 1591.2l0 0l0 0l14.4 0l14.4 0l0 0l0 0l-14.4 0zM1243.7 1591.2l0 0l0 0l0 0zM1272.5 1591.2l0 0l0 0l0 0zM1301.4 1591.2l0 0l0 0l0 0zM1518.0 1577.8l14.4 13.4l-14.4 13.4l-14.4-13.4zM1546.9 1577.8l14.4 13.4l-14.4 13.4l-14.4-13.4zM1157.0 1604.6l0 0l0 0l0 0zM1229.2 1604.6l0 0l0 0l0 0zM1142.6 1618.0l0 0l0 0l0 0zM1171.5 1618.0l0 0l0 13.4l0 0l0 0l0.0-13.4zM1214.8 1618.0l0 0l0 0l0 0zM1301.4 1618.0l0 0l0 13.4l0 0l0 0l0.0-13.4zM1388.1 1604.6l14.4 13.4l-14.4 13.4l-14.4-13.4zM1445.8 1604.6l14.4 0l14.4 13.4l-14.4 13.4l0 0l0 0l14.4 13.4l-14.4 13.4l-14.4-13.4l0 0l0 0l-14.4 13.4l-14.4-13.4l14.4-13.4l0 0l0.0-13.4zM1229.2 1631.4l0 0l-14.4 13.4l-14.4 0l0 0l0 0l14.4 0l14.4 13.4l0 13.4l0 0l0 0l14.4-13.4l14.4 0l0 0l14.4-13.4l0 0l0.0-13.4l0 0l0 0l-14.4 13.4l-14.4 0l-14.4-13.4zM1402.5 1631.4l14.4 13.4l-14.4 13.4l-14.4-13.4zM1503.6 1631.4l14.4 13.4l-14.4 13.4l-14.4-13.4zM1128.1 1658.2l0 0l0 0l0 0zM1171.5 1658.2l0 0l0 13.4l0 0l0 0l0.0-13.4zM1546.9 1644.8l14.4 13.4l-14.4 13.4l0 0l-14.4 13.4l-14.4-13.4l14.4-13.4l0 0zM1200.3 1671.6l0 0l0 13.4l0 0l0 0l0.0-13.4zM1460.3 1658.2l14.4 13.4l-14.4 13.4l-14.4-13.4zM1084.8 1685.0l0 0l0 0l0 0zM1142.6 1685.0l0 0l0 0l0 0zM1344.7 1671.6l14.4 13.4l0 13.4l-14.4 13.4l0 0l-14.4 13.4l-14.4-13.4l0 0l-14.4-13.4l14.4-13.4l14.4 13.4l0 0l0 0l0.0-13.4zM1402.5 1671.6l14.4 13.4l0 13.4l-14.4 13.4l-14.4-13.4l0.0-13.4zM391.7 1698.4l0 0l0 0l0 0zM1027.1 1698.4l0 0l0 0l14.4 0l0 0l0 0zM1128.1 1698.4l0 0l0 13.4l0 0l14.4 0l0 0l0 0l-14.4-13.4zM1171.5 1698.4l0 0l0 0l0 0zM1214.8 1698.4l0 0l0 0l0 0zM1099.3 1711.8l0 0l0 0l0 0zM1185.9 1711.8l0 0l0 13.4l0 0l14.4 0l14.4 0l14.4 13.4l0 0l0 0l0.0-13.4l14.4-13.4l0 0l0 0l-14.4 0l0 0l-14.4 13.4l-14.4 0l-14.4-13.4zM1474.7 1698.4l14.4 13.4l-14.4 13.4l-14.4-13.4zM1084.8 1725.2l0 0l0 0l0 0zM1157.0 1725.2l0 0l0 0l0 0zM1388.1 1711.8l14.4 13.4l-14.4 13.4l-14.4-13.4zM1171.5 1738.6l0 0l0 13.4l-14.4 13.4l-14.4 0l0 0l0 0l14.4 0l14.4 0l0 0l0.0-13.4l0.0-13.4zM1301.4 1725.2l14.4 0l14.4 13.4l-14.4 13.4l-14.4 0l-14.4-13.4zM1344.7 1725.2l14.4 13.4l0 0l14.4 13.4l0 13.4l-14.4 13.4l-14.4-13.4l0.0-13.4l0 0l-14.4-13.4zM1416.9 1725.2l14.4 13.4l-14.4 13.4l-14.4-13.4zM406.1 1752.0l0 0l0 0l0 0zM983.7 1752.0l0 0l0 0l0 0zM1128.1 1752.0l0 0l0 0l0 0zM1055.9 1765.4l0 0l0 0l0 0zM1113.7 1765.4l0 0l0 0l0 0zM1084.8 1778.8l0 0l0 0l0 0zM1128.1 1778.8l0 0l-14.4 13.4l0 0l0 0l14.4 0l0 0l0.0-13.4zM1330.3 1765.4l14.4 13.4l0 13.4l0 13.4l-14.4 13.4l-14.4 0l-14.4-13.4l0.0-13.4l14.4-13.4l0 0zM1070.4 1792.2l0 0l0 0l0 0zM1200.3 1792.2l0 0l0 0l0 0zM1012.6 1805.6l0 0l0 0l0 0zM1055.9 1805.6l0 0l0 0l0 0zM1287.0 1792.2l14.4 13.4l0 13.4l0 0l14.4 13.4l-14.4 13.4l-14.4-13.4l0 0l-14.4-13.4l0.0-13.4zM391.7 1819.0l0 0l0 13.4l0 0l0 0l0.0-13.4zM420.6 1819.0l0 0l0 0l0 0zM1041.5 1819.0l0 0l0 0l0 0zM1243.7 1805.6l14.4 13.4l-14.4 13.4l-14.4-13.4zM478.3 1832.4l0 0l0 0l0 0zM507.2 1832.4l0 0l0 0l0 0zM983.7 1832.4l0 0l0 0l0 0zM1070.4 1832.4l0 0l0 0l0 0zM536.1 1845.8l0 0l0 0l0 0zM810.5 1845.8l0 0l0 0l0 0zM954.9 1845.8l0 0l0 0l0 0zM1027.1 1845.8l0 0l0 0l0 0zM1055.9 1845.8l0 0l0 0l0 0zM492.8 1872.6l0 0l0 0l0 0zM579.4 1872.6l0 0l0 0l0 0zM998.2 1872.6l0 0l0 13.4l0 13.4l0 0l0 0l0.0-13.4l0.0-13.4zM536.1 1886.0l0 0l0 0l0 0zM853.8 1886.0l0 0l0 0l14.4 0l0 0l0 0zM926.0 1886.0l0 0l0 0l0 0zM1027.1 1886.0l0 0l0 0l0 0zM492.8 1899.3l0 0l0 13.4l0 0l0 0l0.0-13.4zM420.6 1899.3l14.4 13.4l0 0l14.4 13.4l-14.4 13.4l-14.4-13.4l0 0l0 0l-14.4 13.4l-14.4-13.4l14.4-13.4l0 0zM536.1 1912.7l0 0l0 13.4l0 0l0 0l0.0-13.4zM666.1 1912.7l0 0l0 0l0 0zM839.3 1912.7l0 0l0 0l0 0zM897.1 1912.7l0 0l0 13.4l0 0l0 0l0.0-13.4zM1084.8 1899.3l14.4 13.4l-14.4 13.4l-14.4-13.4zM608.3 1926.1l0 0l0 0l0 0zM651.6 1926.1l0 0l0 0l0 0zM781.6 1926.1l0 0l0 0l0 0zM853.8 1926.1l0 0l0 0l0 0zM666.1 1939.5l0 0l0 0l0 0zM752.7 1939.5l0 0l0 0l0 0zM824.9 1939.5l0 0l0 0l0 0zM694.9 1952.9l0 0l-14.4 13.4l0 0l0 0l14.4 0l0 0l14.4-13.4l0 0l0 0zM767.1 1952.9l0 0l0 13.4l0 0l0 0l0.0-13.4zM810.5 1952.9l0 0l0 0l0 0zM622.7 1966.3l0 0l0 13.4l0 13.4l0 0l0 0l14.4-13.4l0 0l0 0l-14.4-13.4zM579.4 1979.7l14.4 13.4l-14.4 13.4l-14.4-13.4zM666.1 1993.1l0 0l0 0l0 0zM694.9 1993.1l0 0l0 0l0 0zM550.5 1993.1l14.4 13.4l0 0l14.4 13.4l0 0l14.4 13.4l-14.4 13.4l-14.4-13.4l0 0l-14.4-13.4l0 0l-14.4-13.4zM752.7 1993.1l14.4 13.4l0 0l14.4 13.4l-14.4 13.4l0 0l-14.4 13.4l-14.4-13.4l0.0-13.4l0.0-13.4zM868.2 1993.1l14.4 13.4l-14.4 13.4l-14.4-13.4zM796.0 2006.5l14.4 0l14.4 13.4l-14.4 13.4l0 0l-14.4 13.4l-14.4-13.4l0.0-13.4z"/><path fill="none" stroke="#242424" stroke-width="5.6" stroke-linejoin="round" d="M666.1 920.2l1.0 1.3l-1.0 0.8l-0.8-0.8zM622.7 959.8l4.0 1.9l-4.0 3.8l-4.0-3.8zM666.1 974.1l2.0 0.9l-2.0 0.9l-0.8-0.9zM723.8 971.6l4.6 3.4l-4.6 5.7l-3.1-5.7zM767.1 974.4l0.8 0.6l-0.8 3.8l-2.0-3.8zM608.3 985.6l6.2 2.9l-6.2 2.4l-9.2-2.4zM796.0 987.2l1.0 1.3l-1.0 1.9l-1.0-1.9zM680.5 996.3l9.5 5.5l5.0 7.7l9.2 5.7l-9.2 8.6l-4.6-8.6l-9.8-6.1l-9.5-7.3zM608.3 1014.6l14.4-5.7l11.8 6.3l2.6 9.6l14.4 2.5l2.0 1.3l-2.0 3.8l-14.4-2.5l-1.3-1.3l-13.1-6.1l-14.4-3.6l-1.3-3.8zM723.8 1004.2l7.9 11.0l6.5 12.1l4.0 1.3l10.4 9.6l14.4 0l1.3 3.8l-1.3 1.3l-14.4 2.5l-10.4 9.6l10.4 3.2l8.2 10.2l-6.9 13.4l-1.3 1.9l-12.4 11.5l12.4 5.8l8.3-5.8l6.2-4.3l3.7 4.3l1.8 13.4l-5.5 10.2l-14.4 0l-2.6 3.2l2.6 4.8l14.4-2.9l14.4 0.5l14.4 2.8l6.5-5.2l-6.5-12.1l-1.0-1.3l-2.7-13.4l-10.7-10.0l-4.6-3.4l4.6-2.9l14.4 1.0l1.3 1.9l13.1 7.3l5.6-7.3l8.8-5.2l7.7 5.2l-7.7 11.5l-3.5 1.9l3.5 4.8l14.4 3.5l8.2 5.1l0 13.4l-8.2 5.1l-13.4 8.3l13.4 6.2l10.7-6.2l3.7-5.7l5.0-7.7l9.5-6.3l11.8 6.3l-2.6 13.4l5.2 1.9l5.2-1.9l5.2-13.4l4.0-1.3l4.0 1.3l-1.0 13.4l-3.1 8.6l-2.1 4.8l2.1 3.2l14.4 9.6l13.8-12.8l-2.4-13.4l3.1-5.7l14.4-3.1l12.7 8.8l1.7 4.8l9.2 8.6l-9.2 3.4l-6.2-3.4l-8.3-3.3l-12.4 3.3l12.4 11.5l1.0 1.9l-1.0 1.9l-12.4 11.5l4.6 13.4l7.9 7.3l14.4-4.9l14.4 0.8l3.5-3.2l-3.5-1.9l-14.4-7.7l-2.0-3.8l2.0-0.9l14.4-5.4l13.6-7.0l0.8-0.8l4.0 0.8l10.4 9.6l2.6-9.6l11.8-6.3l5.9 6.3l-5.9 7.3l-13.1 6.1l-1.3 1.3l-7.9 12.1l-6.6 5.1l-9.0 8.3l0.7 13.4l-6.2 8.6l-5.2 4.8l5.2 1.6l14.4 3.2l3.5-4.8l11.0-7.6l8.2 7.6l-4.5 13.4l10.7 10.0l10.7-10.0l-4.5-13.4l8.2-10.2l5.5 10.2l9.0 8.3l8.2 5.1l-7.2 13.4l-1.0 0.9l-14.4 4.6l-13.6 7.9l13.6 7.9l14.4 4.6l13.4-12.5l1.0-0.9l1.0 0.9l13.4 12.5l2.0 0.9l2.0 13.4l-4.0 1.9l-5.0 11.5l-8.5 13.4l13.4 5.5l10.7-5.5l3.7-8.6l6.2 8.6l-6.2 4.3l-4.9 9.1l2.8 13.4l-12.4 6.4l-13.6 7.0l13.6 10.5l14.4-0.9l4.0 3.8l2.5 13.4l-2.0 13.4l-4.6 8.6l-5.2 4.8l5.2 2.4l14.4 8.1l14.4 1.6l4.0 1.3l-3.2 13.4l-0.8 0.9l-1.0-0.9l-13.4-10.0l-14.4 5.4l-14.4 0.1l-4.9 4.6l4.9 9.1l14.4 2.4l1.0 1.9l10.8 13.4l-11.8 11.0l-3.5 2.4l3.5 2.4l14.4 8.1l9.2 2.9l-9.2 3.4l-14.4 2.1l-6.8-5.5l-7.7-8.3l-9.0 8.3l-5.5 7.6l-12.4 5.8l2.0 13.4l-4.0 0.9l-13.4 12.5l8.2 13.4l-9.2 8.6l-14.4-4.2l-6.6-4.4l-6.4-13.4l-1.5-1.2l-3.5 1.2l-1.4 13.4l1.4 13.4l3.5 11.5l14.4-1.0l14.4-0.9l14.4-5.8l8.8 9.6l-8.8 11.5l-3.5 1.9l3.5 4.8l3.7 8.6l-3.7 4.3l-4.6-4.3l-9.8-7.3l-13.1 7.3l-1.3 3.8l-3.5 9.6l-9.0 13.4l-2.0 1.9l-2.0-1.9l-12.4-7.7l-8.3 7.7l8.3 11.5l2.0 1.9l12.4 4.6l8.3-4.6l6.2-5.7l4.6 5.7l-4.6 8.6l-2.6 4.8l-11.0 13.4l-0.8 0.6l-2.0-0.6l-12.4-11.5l-14.4 5.3l-13.4 6.2l-1.0 3.8l-5.2 9.6l5.2 9.6l1.0 3.8l2.1 13.4l-3.1 5.7l-12.4 7.7l-2.0 0.9l-4.0-0.9l-5.2-13.4l1.0-13.4l-1.0-13.4l-5.2-3.2l-14.4 0l-3.5 3.2l3.5 9.6l2.0 3.8l-2.0 0.9l-2.0-0.9l-12.4-5.8l-14.4 1.2l-14.4-1.2l-6.2 5.8l-8.2 10.2l-2.6 3.2l2.6 2.4l11.8 11.0l-5.7 13.4l8.3 5.8l8.3-5.8l-4.8-13.4l6.4-13.4l4.6-5.7l6.2 5.7l2.1 13.4l1.0 13.4l-9.2 5.7l-6.2 7.7l-8.2 10.2l-5.2 3.2l-5.2 13.4l5.2 13.4l-5.5 13.4l-3.7 3.4l-4.6-3.4l-9.8-9.1l-14.4 1.4l-4.6-5.7l4.6-4.3l14.4-1.4l12.4-7.7l-4.1-13.4l-8.3-11.5l-14.4-0.6l-4.9 12.1l-4.9 13.4l-4.6 4.3l-14.4-3.0l-4.0-1.3l-10.4-4.8l-14.4-0.9l-14.4 0l-8.2-7.6l-6.2-4.6l-14.4 1.4l-3.5 3.2l-4.8 13.4l3.3 13.4l5.0 11.5l12.4-11.5l0.0-13.4l2.0-1.9l2.0 1.9l12.4 11.5l4.0 1.9l2.1 13.4l-6.2 5.7l-6.2 7.7l-4.5 13.4l-3.7 5.7l-9.2-5.7l-1.7-13.4l-3.5-9.6l-10.4 9.6l-4.0 3.8l-14.4 0.5l-7.9 9.1l-6.6 10.2l-3.5 3.2l-11.0 7.6l-6.6-7.6l-7.9-7.3l-11.0-6.1l-3.5-2.4l-14.4-2.4l-10.4 4.8l-4.0 1.3l-0.8-1.3l-0.2-13.4l-6.9-13.4l1.7-13.4l-8.3-11.5l-6.2 11.5l-8.2 5.1l-14.4-3.2l-12.4 11.5l-2.0 3.8l-1.0-3.8l-3.0-13.4l2.0-13.4l-12.4-5.8l-6.2 5.8l-8.2 7.6l-11.0-7.6l9.6-13.4l1.3-1.3l4.4-12.1l0.5-13.4l0.7-13.4l2.7-13.4l6.2-3.4l6.7-10.0l-5.8-13.4l-0.9-1.4l-2.6 1.4l-5.1 13.4l-6.8 8.8l-8.3 4.6l1.7 13.4l-7.9 4.9l-11.8 8.5l-0.6 13.4l-2.0 3.8l-4.0-3.8l1.0-13.4l1.7-13.4l1.3-1.3l9.8-12.1l-5.7-13.4l-4.1-4.6l-8.3 4.6l-1.5 13.4l-4.6 4.3l-9.8 9.1l-4.6 3.4l-6.2-3.4l5.4-13.4l0.8-1.3l9.8-12.1l-9.8-6.1l-6.8-7.3l-7.7-8.3l-14.4-1.3l-10.4 9.6l-4.0 0.6l-1.0-0.6l-9.5-13.4l10.5-8.1l13.6-5.3l0.8-3.8l5.2-9.6l1.0-13.4l-6.2-11.5l-14.4 3.2l-5.5-5.1l5.5-10.2l2.1-3.2l-2.1-3.2l-14.4-7.7l-3.1-2.4l3.1-8.6l10.4-4.8l-5.4-13.4l7.5-13.4l-12.4-7.7l-9.2-5.7l9.2-3.4l14.4-2.8l4.5-7.1l-4.5-12.5l-14.4 4.2l-8.2-5.1l0.0-13.4l4.5-13.4l3.7-8.6l3.5-4.8l-0.4-13.4l-3.1-5.8l-8.2-7.6l-2.7-13.4l-3.5-4.8l-4.6-8.6l4.6-5.7l4.6 5.7l9.8 7.3l6.5-7.3l-3.9-13.4l3.0-13.4l-5.6-9.1l-6.2-4.3l6.2-8.6l1.5-4.8l8.9-13.4l-10.4-4.8l-6.2-8.6l6.2-3.4l10.7-10.0l-5.1-13.4l-5.6-9.1l-3.1-4.3l3.1-5.7l5.0-7.7l-2.4-13.4l5.3-13.4l-4.3-13.4l10.9-11.8l12.7 11.8l1.7 1.4l1.5-1.4l13.0-9.3l7.9-4.0l-7.9-7.3l-14.4-4.2l-2.0-1.9l2.0-3.8l2.6-9.6l-2.6-9.6l-0.8-3.8l0.8-0.9l2.0 0.9l12.4 4.6l6.2-4.6l-1.0-13.4l8.6-13.4l-0.7-13.4l1.3-1.9l1.3 1.9l-0.8 13.4l4.0 13.4l9.8 5.2l14.4-2.0l2.1-3.2l-2.1-1.9l-5.6-11.5l5.6-11.5l2.6-1.9l-2.6-9.6l-0.8-3.8l0.8-1.9l14.4-7.0l14.4 0.7l7.9-5.2l-2.7-13.4l9.2-5.7l6.2 5.7l8.3 4.6l6.2-4.6l-6.2-7.7l-6.2-5.7l-8.3-11.5l-14.4-0.6l-1.3-1.3l-2.7-13.4l4.0-0.9l1.3 0.9l13.1 12.1l14.4-9.7l9.5 11.0l5.0 7.7l3.1-7.7l11.3-7.0l13.0 7.0l1.5 9.6l14.4-2.4l11.0 6.1l-6.9 13.4l10.4 4.8l1.3-4.8l13.1-12.2l5.2-1.2l-5.2-9.6l-14.4 0l-1.3-3.8l1.3-1.3l13.1-12.1l1.3-1.9l12.4-11.5l2.0-3.8l4.0 3.8l4.8 13.4l5.6 7.3l14.4-1.5l14.4-3.8l10.3 11.5l-10.3 11.5l-10.4 1.9l10.4 1.9l14.4 9.6l3.5-11.5l4.7-13.4l-4.8-13.4l-0.9-13.4l-2.6-3.2l-6.6-10.2l6.6-10.2l11.0 10.2l3.5 2.4l5.2-2.4l5.2-13.4l-10.4-2.4l-11.8-11.0zM579.4 1022.9l9.2 5.7l-9.2 8.6l-4.6-8.6zM680.5 1027.4l4.0 1.3l-4.0 1.9l-2.0-1.9zM550.5 1041.3l1.0 0.8l-1.0 3.8l-1.0-3.8zM622.7 1037.7l4.6 4.3l-4.6 2.4l-3.7-2.4zM796.0 1039.1l9.2 2.9l5.2 3.2l8.2 10.2l-7.7 13.4l-0.6 1.3l-2.0-1.3l-6.2-13.4l-6.2-7.7l-4.6-5.7zM593.9 1044.4l6.8 11.0l-6.8 7.3l-9.5-7.3zM680.5 1047.8l14.4 6.4l4.0 1.3l-4.0 3.8l-14.4 3.9l-11.0-7.6zM853.8 1054.1l4.0 1.3l-4.0 1.9l-1.3-1.9zM940.4 1065.0l14.4 0.4l3.1 3.4l-3.1 5.7l-14.4 4.5l-4.7-10.2zM478.3 1088.3l5.9 7.3l-1.2 13.4l-4.7 7.6l-5.5-7.6l-6.4-13.4zM666.1 1089.8l-8.3 5.8l8.3 11.5l4.0 1.9l10.4 1.6l2.1-1.6l-2.1-9.6l-2.0-3.8zM853.8 1094.3l4.0 1.3l-4.0 1.9l-1.0-1.9zM882.7 1094.3l4.0 1.3l-4.0 0.9l-4.0-0.9zM507.2 1105.2l4.0 3.8l-4.0 1.3l-0.8-1.3zM593.9 1099.3l-5.2 9.6l5.2 2.4l10.4-2.4zM738.3 1099.3l-2.1 9.6l2.1 2.4l3.5-2.4zM810.5 1105.8l-10.4 3.2l10.4 2.4l5.2-2.4zM463.9 1117.3l8.2 5.1l-8.2 7.6l-5.5-7.6zM565.0 1115.1l-6.5 7.3l6.5 5.2l14.4-3.6l2.6-1.6l-2.6-4.8zM709.4 1133.8l-3.5 1.9l3.5 3.2l1.5-3.2zM1070.4 1135.2l0.7 0.6l-0.7 0.9l-1.0-0.9zM435.0 1146.7l4.6 2.4l-4.6 4.3l-4.6-4.3zM550.5 1141.9l-6.5 7.3l6.5 4.0l4.9-4.0zM868.2 1140.1l-6.5 9.1l6.5 9.1l5.6-9.1zM507.2 1158.0l-4.1 4.6l4.1 3.8l8.3-3.8zM752.7 1152.9l-1.7 9.6l1.7 4.8l1.3-4.8zM839.3 1158.7l-3.5 3.8l3.5 2.6l14.4 9.0l8.3-11.5l-8.3-4.6l-14.4 0.8M420.6 1172.2l1.0 3.8l-1.0 0.8l-1.3-0.8zM824.9 1174.4l-1.5 1.6l1.5 1.4l1.3-1.4zM882.7 1163.8l-6.5 12.1l6.5 7.3l6.5-7.3zM1041.5 1175.2l0.7 0.8l-0.7 0.8l-2.0-0.8zM507.2 1187.4l-3.5 1.9l3.5 3.2l2.1-3.2zM1027.1 1183.6l3.1 5.7l-3.1 8.6l-6.2-8.6zM911.5 1199.5l-3.5 3.2l3.5 1.9l14.4-0.3l3.5-1.6l-3.5-3.2zM998.2 1201.5l1.0 1.3l-1.0 1.9l-1.0-1.9zM1084.8 1214.9l1.3 1.3l-1.3 1.3l-0.8-1.3zM1055.9 1229.0l4.0 0.5l-4.0 1.9l-1.0-1.9zM1084.8 1241.7l0.8 1.3l-0.8 1.3l-4.0-1.3zM435.0 1266.9l-5.0 2.9l5.0 3.3l3.5-3.3zM1084.8 1268.5l1.3 1.3l-1.3 1.9l-1.0-1.9zM1055.9 1293.3l-5.2 3.2l5.2 2.4l10.4-2.4zM1041.5 1305.1l-1.7 4.8l1.7 9.6l2.6-9.6zM1113.7 1308.0l14.4-3.8l4.6 5.7l-4.6 5.7l-14.4-5.0l-1.0-0.8zM1200.3 1309.2l1.0 0.8l-1.0 0.6l-1.0-0.6zM1113.7 1336.0l4.0 0.8l-4.0 1.3l-1.0-1.3zM1041.5 1354.4l-5.6 9.1l5.6 12.1l13.1-12.1zM1113.7 1362.3l1.0 1.3l-1.0 0.6l-4.0-0.6zM983.7 1373.7l-1.3 3.2l1.3 1.6l1.0-1.6zM391.7 1388.4l1.3 1.9l-1.3 1.9l-0.8-1.9zM1041.5 1380.7l-2.1 9.6l2.1 1.4l14.4 8.3l2.0 3.8l12.4 7.7l8.3-7.7l0.7-13.4l-9.0-10.0l-14.4 6.8zM1157.0 1427.6l3.1 2.9l-3.1 2.9l-9.2-2.9zM1041.5 1452.7l-2.8 4.6l2.8 3.8l12.4-3.8zM998.2 1469.5l-5.2 1.2l5.2 2.4l3.5-2.4zM983.7 1509.5l-2.1 1.4l2.1 1.0l3.5-1.0zM1070.4 1507.4l3.1 3.4l-3.1 8.6l-6.2-8.6zM1099.3 1520.8l3.7 3.4l-3.7 4.3l-4.6-4.3zM435.0 1549.1l-10.4 1.9l7.8 13.4l2.6 4.8l3.5-4.8l-2.0-13.4zM1055.9 1548.2l9.2 2.9l-9.2 8.6l-9.2-8.6zM954.9 1574.0l-12.4 3.8l12.4 4.6l8.3-4.6l-8.3-3.8M435.0 1581.3l-9.0 10.0l9.0 6.2l6.7-6.2zM983.7 1589.3l-10.4 1.9l10.4 3.2l14.4 2.5l6.2-5.8l-6.2-11.5zM1099.3 1590.0l2.0 1.3l-2.0 1.9l-0.8-1.9zM449.5 1600.8l-4.1 3.8l4.1 5.8l6.2-5.8l-6.2-3.8M1142.6 1602.5l2.3 2.1l-2.3 2.1l-3.7-2.1zM1027.1 1613.7l4.6 4.3l-3.6 13.4l-1.0 1.3l-2.0-1.3l-7.2-13.4zM911.5 1628.1l-5.6 3.3l5.6 5.2l7.9-5.2zM478.3 1648.3l-10.7 10.0l5.8 13.4l5.0 11.5l8.3-11.5l-0.6-13.4zM536.1 1655.9l-3.5 2.3l3.5 2.9l2.8-2.9zM897.1 1655.7l-2.5 2.6l2.5 5.8l8.3-5.8zM940.4 1647.7l-9.7 10.5l9.7 12.6l9.7-12.6l-9.7-10.5M1027.1 1653.9l3.1 4.3l-3.1 8.6l-9.2-8.6zM969.3 1681.6l4.6 3.4l-4.6 3.4l-9.2-3.4zM406.1 1697.5l0.7 0.9l-0.7 1.3l-0.6-1.3zM449.5 1697.5l1.3 0.9l-1.3 0.8l-4.0-0.8zM1012.6 1689.8l2.3 8.6l-2.3 5.7l-9.2-5.7zM579.4 1709.4l-5.2 2.4l5.2 1.6l1.7-1.6zM709.4 1709.9l-3.5 1.9l3.5 1.2l1.5-1.2zM810.5 1709.4l-1.2 2.4l1.2 1.9l3.5-1.9zM983.7 1709.9l0.8 1.9l-0.8 0.9l-0.8-0.9zM911.5 1720.1l11.0 5.1l-11.0 5.1l-8.2-5.1zM723.8 1731.3l-6.5 7.3l6.5 7.3l13.1-7.3zM796.0 1732.8l-12.4 5.8l12.4 7.7l5.0-7.7zM926.0 1730.0l3.7 8.6l-3.7 4.3l-3.7-4.3zM565.0 1747.4l-5.0 4.6l5.0 3.8l3.5-3.8l-3.5-4.6M593.9 1762.2l-2.6 3.2l2.6 9.6l3.5-9.6zM926.0 1761.1l4.6 4.3l-4.6 8.6l-4.6-8.6zM492.8 1770.2l9.2 8.6l-9.2 3.4l-9.2-3.4zM651.6 1776.5l-3.5 2.3l3.5 11.5l2.0 1.9l7.2 13.4l-3.1 13.4l4.8 13.4l3.5 3.2l3.5-3.2l4.8-13.4l6.2-5.7l14.4 1.4l9.8-9.1l-4.9-13.4l-5.0-3.3l-5.0 3.3l-9.5 8.8l-9.5-8.8l-5.0-5.8l-8.2-7.6zM478.3 1783.6l3.7 8.6l-3.7 2.9l-2.6-2.9zM622.7 1797.9l-5.0 7.7l5.0 7.7l14.4-5.3l5.2-2.4l-5.2-1.9l-14.4-5.8M781.6 1799.9l9.2 5.7l5.2 9.6l2.0 3.8l2.6 13.4l-4.6 2.9l-6.2-2.9l-8.3-11.5l-1.0-1.9l-5.2-13.4zM810.5 1804.3l2.0 1.3l-2.0 1.9l-4.0-1.9zM579.4 1831.1l0.8 1.3l-0.8 0.9l-1.0-0.9zM767.1 1831.4l2.0 0.9l-2.0 0.9l-1.0-0.9zM882.7 1831.7l0.8 0.6l-0.8 0.8l-0.7-0.8zM709.4 1837.2l3.7 8.6l-3.7 2.4l-6.2-2.4zM608.3 1854.9l3.7 4.3l-3.7 3.4l-2.6-3.4zM651.6 1857.9l2.0 1.3l-2.0 1.9l-2.0-1.9zM752.7 1854.9l3.7 4.3l-3.7 3.4l-4.6-3.4zM897.1 1858.4l2.0 0.8l-2.0 0.8l-2.0-0.8zM694.9 1862.4l11.0 10.2l-11.0 5.1l-8.2-5.1zM738.3 1871.3l1.0 1.3l-1.0 1.3l-1.0-1.3zM666.1 1898.4l0.7 0.9l-0.7 0.5l-2.0-0.5zM709.4 1922.7l3.1 3.4l-3.1 2.4l-3.7-2.4z"/><path fill="none" stroke="#494949" stroke-width="5.6" stroke-linejoin="round" d="M637.2 1108.0l2.7 0.9l-2.7 1.9l-1.0-1.9zM666.1 1121.3l4.0 1.1l-4.0 1.3l-1.6-1.3zM694.9 1119.9l2.7 2.5l-2.7 1.5l-4.0-1.5zM622.7 1134.5l14.4-4.5l14.4 2.2l3.2 3.5l11.2 7.3l14.4 1.8l9.2 4.3l5.2 9.6l14.4-2.2l7.3 6.0l7.1 6.6l12.9 6.8l1.6 1.2l14.4 4.4l7.9-5.6l5.6-13.4l1.0-1.9l14.4-6.4l8.0 8.3l-0.6 13.4l-7.4 8.6l-6.9 4.8l6.9 3.2l14.4 8.9l14.4-11.2l14.4 1.0l12.3 11.4l2.1 5.9l1.6 7.5l-1.6 3.8l-4.2 9.6l3.1 13.4l-10.2 13.4l11.2 4.9l14.4-1.2l14.4-2.2l2.1-1.5l-2.1-2.0l-14.4-3.5l-12.9-7.9l12.9-5.3l14.4-1.6l14.4 5.6l4.0 1.3l3.4 13.4l-4.7 13.4l5.4 13.4l-4.0 13.4l10.4 3.9l10.4-3.9l-4.0-13.4l8.1-1.9l4.0 1.9l-2.0 13.4l6.1 13.4l6.4 1.0l3.2-1.0l11.3-3.5l3.8 3.5l10.7 6.6l9.2-6.6l-2.1-13.4l7.4-5.7l7.4 5.7l7.0 6.5l14.4 5.8l4.0 1.1l-4.0 3.8l-10.4 9.6l-4.0 1.1l-13.3 12.3l-1.2 7.5l-8.1-7.5l-6.4-1.2l-1.1 1.2l-13.4 8.3l-8.3 5.1l8.3 7.7l14.4-3.5l14.4 1.7l1.6 7.5l-0.6 13.4l3.0 13.4l5.2 13.4l-7.9 13.4l6.0 13.4l-7.3 6.8l-8.3 6.6l-6.2 6.9l-4.6-6.9l-7.3-13.4l-2.5-6.5l-7.4-6.9l-7.0-2.7l-8.8 2.7l8.8 10.9l2.7 2.5l5.7 13.4l6.0 12.1l2.7 1.3l11.7 3.6l9.5 9.8l0 13.4l-5.4 13.4l-1.4 13.4l-2.7 7.5l-6.4 5.9l-0.8 13.4l-7.3 6.8l-9.4-6.8l-5.0-6.5l-14.4-3.1l-14.4 4.8l-2.6 4.8l2.6 3.2l11.0 10.2l3.5 9.6l6.9-9.6l7.5-5.2l3.8 5.2l4.3 13.4l-8.1 3.8l-10.4 9.6l-4.0 3.8l-14.4-2.3l-4.0-1.5l-10.4-3.9l-6.9 3.9l-7.5 3.0l-4.5-3.0l-9.9-9.2l-9.9 9.2l9.9 5.8l6.6 7.6l-1.0 13.4l-5.6 4.2l-5.6-4.2l-5.3-13.4l-3.5-6.4l-14.4-1.7l-7.0 8.2l7.0 8.2l5.6 5.2l8.8 10.9l2.0 2.5l0.8 13.4l7.5 13.4l4.2 6.4l5.6 7.0l-5.6 10.4l-7.5-10.4l-6.9-3.9l-14.4-4.8l-5.7-4.8l-8.7-9.1l-14.4 2.7l-10.4 6.4l10.4 1.9l9.5 11.5l4.9 11.9l14.4-2.3l6.2 3.8l-6.2 4.9l-14.4-1.1l-1.6-3.8l-12.8-4.6l-9.2 4.6l-5.3 4.3l-9.8 9.1l7.7 13.4l-8.6 13.4l-2.6 13.4l-1.2 2.5l-2.0-2.5l-2.5-13.4l-0.8-13.4l-9.2-9.9l-9.2 9.9l-5.3 11.4l-14.4 0.8l-9.4-12.2l6.2-13.4l3.2-10.4l14.4 6.7l14.4-3.2l6.9-6.4l7.5-5.2l5.9-8.2l-5.9-8.2l-14.4 4.3l-10.3-9.5l-4.2-2.4l-4.2 2.4l2.0 13.4l-12.3 11.4l-1.6 2.0l-12.9 5.3l-13.1 8.1l-1.3 2.5l-7.0 10.9l-7.4 5.7l-14.4-2.2l-5.6-3.5l-8.8-4.7l-8.8 4.7l-5.6 10.4l-14.4-9.2l-4.0-1.3l-6.5-13.4l10.5-11.0l4.2-2.4l-4.2-6.4l-3.8-7.0l-10.7-4.2l-6.4 4.2l1.5 13.4l-0.9 13.4l-8.6 11.9l-14.4-7.7l-4.5-4.2l4.5-10.4l0.7-2.9l-0.7-0.7l-14.4-4.1l-14.4-7.1l-0.9-1.5l-13.5-11.3l-14.4 4.9l-4.5-7.0l-9.9-6.6l-10.3-6.8l-4.2-3.9l-6.4-9.5l-7.0-13.4l4.8-13.4l-5.8-8.5l-12.3-4.9l12.3-8.6l10.4-4.8l-8.3-13.4l-2.1-3.9l-4.2 3.9l-10.3 9.5l-12.9-9.5l12.9-7.9l5.9-5.4l4.5-13.4l-10.4-2.8l-3.0 2.8l-11.5 12.4l-14.4-7.2l-1.9-5.2l1.9-3.5l8.0-9.9l-8.0-5.4l-11.8-8.0l11.8-7.3l9.8-6.1l4.6-8.6l5.2-4.8l-5.2-2.4l-14.4-6.8l-11.3-4.2l11.3-2.6l9.3-10.8l-9.3-12.3l-14.4 2.4l-3.8-3.5l3.8-4.2l12.4-9.2l0.0-13.4l2.0-7.5l14.4 0l0.8-5.9l9.1-13.4l-9.9-7.7l-14.4-0.5l-8.8 8.2l-5.6 5.2l-3.2-5.2l3.2-10.4l3.2-2.9l11.3-5.2l14.4-6.2l6.4-2.0l-6.4-2.9l-7.5-10.4l1.3-13.4l-4.8-13.4l10.9-12.7l2.1-0.7l7.0-13.4l1.2-13.4l-6.2-13.4l-2.0-13.4l12.3-4.9l7.4 4.9l7.0 10.9l4.0 2.5l10.4 9.6l14.4-1.1l8.0-8.5l-4.8-13.4l11.3-7.0l3.5-6.4l11.0-8.7l14.4-1.5l14.4 4.9l14.4-4.9l6.9-3.2l-6.9-3.9l-14.4-1.7l-14.4-0.8l-11.3-7.0l-3.2-1.0l-10.0-12.4l10.0-6.8l11.5 6.8l3.0 6.4l14.4-1.5l5.8-5.0l8.6-6.8l11.6-6.6l-0.9-13.4l3.8-5.2l14.4 2.7l5.9-10.9l6.5-13.4zM579.4 1145.4l2.7 3.8l-2.7 1.5l-4.0-1.5zM637.2 1141.5l-7.1 7.7l7.1 11.5l9.9-11.5zM521.7 1173.0l3.2 3.0l-3.2 5.2l-5.6-5.2zM565.0 1171.2l5.1 4.8l-5.1 6.0l-6.4-6.0zM622.7 1166.3l-6.9 9.6l6.9 3.2l5.2-3.2zM709.4 1172.1l-6.9 3.9l-7.5 5.2l-5.0 8.2l5.0 8.2l8.8-8.2l5.6-7.0l4.2-6.4zM839.3 1175.1l1.2 0.8l-1.2 1.9l-1.0-1.9zM651.6 1183.6l-8.3 5.8l8.3 4.6l9.9-4.6zM723.8 1185.5l-6.9 3.9l2.8 13.4l4.2 2.4l11.8 11.0l2.6 3.2l1.9-3.2l6.9-13.4l-8.8-4.7l-11.0-8.7zM637.2 1197.9l-3.0 4.8l3.0 1.9l2.6-1.9zM666.1 1199.8l-0.9 2.9l0.9 0.6l1.3-0.6zM853.8 1198.6l4.5 4.2l-4.5 3.5l-11.3-3.5zM767.1 1212.3l-1.9 3.9l1.9 3.9l3.0-3.9zM796.0 1204.6l-5.5 11.5l5.5 3.8l8.8 9.6l5.6 10.4l8.7-10.4l-4.6-13.4l-4.2-2.8zM868.2 1207.9l8.0 8.3l-8.0 9.3l-8.0-9.3zM897.1 1212.7l5.6 3.5l-5.6 5.2l-3.8-5.2zM954.9 1214.3l1.3 1.9l-1.3 1.3l-2.7-1.3zM492.8 1232.5l11.3 10.4l-11.3 7.0l-5.6-7.0zM723.8 1238.3l-3.5 4.7l3.5 2.7l3.5-2.7zM521.7 1268.3l-2.1 1.5l2.1 0.5l2.1-0.5zM463.9 1300.3l-6.6 9.6l1.4 13.4l-1.7 13.4l6.9 9.6l6.9-9.6l7.5-10.4l1.3-2.9l-1.3-1.5l-5.1-11.9zM810.5 1308.2l-1.9 1.8l1.9 4.8l1.7-4.8l-1.7-1.8M507.2 1321.8l-1.3 1.5l1.3 0.7l0.7-0.7zM940.4 1316.9l-3.0 6.4l3.0 2.8l3.5-2.8zM897.1 1335.2l-2.1 1.5l2.1 1.5l0.9-1.5zM926.0 1331.6l-5.0 5.1l5.0 7.7l5.5-7.7zM911.5 1349.3l-1.6 0.8l1.6 2.0l2.1-2.0zM926.0 1361.5l-2.1 2.0l-12.3 11.4l-6.4 2.0l6.4 1.2l7.3 12.2l7.1 4.2l10.7-4.2l3.8-10.4l7.5 10.4l6.9 6.4l10.4-6.4l2.7-13.4l-13.1-5.6l-14.4 3.6l-12.3-11.4zM998.2 1370.0l7.4 6.9l-7.4 11.4l-3.7-11.4zM478.3 1397.1l-5.5 6.6l5.5 5.8l4.1-5.8l-4.1-6.6M954.9 1407.9l-8.3 9.2l8.3 3.1l12.4-3.1zM1027.1 1416.0l1.3 1.1l-1.3 3.8l-2.7-3.8zM853.8 1426.6l-1.6 3.9l1.6 3.9l6.9-3.9zM998.2 1418.6l12.9 11.9l-12.9 4.8l-7.3-4.8zM463.9 1452.7l-5.0 4.6l5.0 7.7l8.3-7.7zM983.7 1448.7l14.4 7.5l4.0 1.1l-4.0 0.9l-14.4 3.3l-9.2-4.3zM1027.1 1454.8l0.9 2.5l-0.9 2.5l-4.0-2.5zM478.3 1481.7l-10.4 2.4l10.4 1.9l5.2-1.9zM868.2 1483.5l-0.7 0.5l0.7 2.9l3.2-2.9zM897.1 1480.9l-6.9 3.2l6.9 3.2l14.4-2.6l1.6-0.6l-1.6-0.8zM940.4 1482.9l-1.6 1.2l-5.5 13.4l7.1 9.9l9.2-9.9l-8.3-13.4zM449.5 1490.9l-3.9 6.5l3.9 5.4l11.7-5.4l-11.7-6.5M521.7 1493.8l-2.1 3.6l2.1 2.2l3.2-2.2zM897.1 1504.3l-4.3 6.6l4.3 8.5l8.0-8.5l-8.0-6.6M507.2 1523.7l-1.6 0.5l1.6 0.6l0.9-0.6l-0.9-0.5M983.7 1520.8l14.4 1.9l1.6 1.5l-1.6 0.9l-14.4 4.0l-4.1-4.9zM853.8 1536.0l-10.4 1.6l10.4 2.8l2.3-2.8zM810.5 1539.5l-5.0 11.5l5.0 2.9l6.2-2.9zM565.0 1561.7l-1.2 2.8l1.2 1.6l2.3-1.6zM824.9 1563.3l-0.5 1.2l0.5 2.9l0.9-2.9l-0.9-1.2M507.2 1570.2l-5.0 7.7l5.0 11.5l8.3-11.5l-8.3-7.7M536.1 1588.4l-5.0 2.9l5.0 5.8l5.0-5.8zM781.6 1588.0l-5.2 3.2l3.6 13.4l1.6 2.0l0.6-2.0l3.5-13.4zM882.7 1587.5l1.6 3.8l1.1 13.4l-2.7 3.8l-2.7-3.8l1.3-13.4zM926.0 1587.5l2.7 3.8l-2.7 3.8l-4.0-3.8zM550.5 1600.0l-6.2 4.6l6.2 7.7l12.4-7.7zM579.4 1603.6l-10.4 1.1l10.4 2.8l2.3-2.8zM796.0 1617.4l-2.1 0.6l2.1 2.9l14.4-1.0l2.1-2.0l-2.1-2.0l-14.4 1.4M911.5 1612.8l7.5 5.2l-7.5 1.9l-3.2-1.9zM940.4 1612.8l7.5 5.2l-7.5 3.0l-7.5-3.0zM565.0 1628.2l-10.4 3.2l5.4 13.4l5.0 6.5l8.8-6.5l1.6-13.4zM622.7 1628.9l-7.0 2.5l7.0 4.7l4.4-4.7l-4.4-2.5M709.4 1630.7l-2.1 0.7l2.1 2.0l0.7-2.0zM767.1 1630.7l-1.3 0.7l1.3 2.9l2.1-2.9zM882.7 1621.9l8.6 9.5l-8.6 6.8l-10.3-6.8zM651.6 1640.2l-8.8 4.7l8.8 4.1l3.5-4.1zM897.1 1642.3l2.7 2.5l-2.7 0.8l-2.0-0.8zM680.5 1656.5l-1.7 1.8l1.7 3.2l14.4-1.7l1.3-1.5l-1.3-0.7l-14.4-1.1M882.7 1654.0l2.3 4.2l-2.3 3.0l-5.6-3.0zM420.6 1671.0l1.2 0.6l-1.2 1.1l-0.8-1.1zM550.5 1678.2l8.2 6.8l-8.2 8.7l-5.5-8.7zM796.0 1708.3l2.5 3.5l-2.5 3.5l-3.8-3.5zM680.5 1721.0l2.8 4.2l-2.8 5.2l-4.5-5.2zM709.4 1724.3l1.6 0.9l-1.6 1.9l-1.2-1.9zM593.9 1735.1l4.5 3.5l-4.5 3.5l-4.5-3.5zM651.6 1762.4l4.5 3.0l-4.5 2.1l-3.8-2.1zM622.7 1777.7l4.0 1.1l-4.0 1.3l-2.7-1.3z"/><path fill="none" stroke="#6d6d6d" stroke-width="5.6" stroke-linejoin="round" d="M752.7 1188.5l2.0 0.9l-2.0 1.9l-4.0-1.9zM565.0 1201.8l3.0 0.9l-3.0 0.9l-2.0-0.9zM593.9 1201.1l12.1 1.6l-12.1 1.9l-3.0-1.9zM637.2 1213.7l8.9 2.5l-8.9 4.9l-13.3-4.9zM666.1 1212.3l5.1 3.8l9.3 6.9l6.4 6.5l2.5 13.4l5.6 3.9l8.4-3.9l6.1-1.9l1.2 1.9l-1.2 3.8l-6.2 9.6l6.2 9.6l6.2-9.6l8.2-3.2l13.7 3.2l0.8 0.5l14.4 9.8l13.3 3.1l-13.3 6.2l-10.4 7.2l-4.0 3.8l-6.1-3.8l-8.4-7.8l-2.1 7.8l2.1 7.8l4.0 5.6l7.6 13.4l-1.1 13.4l3.9 3.2l10.4-3.2l-7.6-13.4l7.6-13.4l4.0-3.8l14.4-4.9l9.4 8.7l5.1 7.1l14.4-3.2l3.7 9.5l-3.7 4.2l-6.8 9.2l6.8 6.3l14.4-1.7l6.7-4.6l3.1-13.4l4.6-10.3l5.6-3.1l8.9-4.9l6.6 4.9l-6.6 4.9l-6.5 8.5l-0.9 13.4l7.5 7.7l10.6-7.7l3.8-4.1l6.6 4.1l6.6 13.4l-2.1 13.4l3.3 10.6l2.4 2.8l-2.4 5.6l-6.1-5.6l-8.4-1.3l-2.8 1.3l-11.6 8.1l-7.6 5.3l2.5 13.4l5.1 8.5l14.4-6.3l0.6-2.1l13.9-10.3l3.4-3.1l11.1-6.4l5.5 6.4l-5.5 8.6l-5.2 4.8l-9.2 10.3l-8.4 3.1l-6.1 2.8l-14.4 9.5l-0.3 1.1l0.3 0.4l5.4 13.0l-2.3 13.4l-3.0 5.6l-14.4 4.2l-14.4-1.7l-14.4-0.5l-2.4 5.8l2.4 7.2l14.4-1.5l14.4-1.6l14.4 3.6l6.1 5.6l8.4 5.2l3.0 8.2l-3.0 6.2l-13.3-6.2l-1.2-2.1l-14.4 1.7l-14.4-1.5l-1.9 1.9l-3.8 13.4l-8.7 8.1l-3.8 5.3l-10.6 13.2l-0.6 0.2l-13.9 5.7l-10.6 7.7l-3.8 6.2l-14.4 5.1l-14.4-1.0l-2.1 3.1l2.1 1.9l14.4-1.7l14.4 4.6l14.4 1.5l7.6 7.0l-7.6 10.2l-14.4 2.7l-14.4-0.9l-1.7 1.4l1.7 3.9l13.7 9.5l0.8 0.7l6.8 12.7l7.6 10.6l2.4 2.8l-2.4 1.4l-12.1-1.4l-2.3-0.7l-6.8-12.7l-7.6-7.1l-6.8-6.3l-7.6-3.5l-11.6-9.9l-2.8-7.2l-3.9 7.2l-5.2 13.4l-5.3 6.2l-14.4 5.1l-1.2 2.1l-13.3 6.2l-7.8 7.2l-6.6 6.2l-13.3-6.2l13.3-8.2l5.6-5.2l-3.2-13.4l6.2-13.4l-6.9-13.4l-1.7-3.9l-1.2 3.9l-8.8 13.4l-4.4 4.9l-5.1 8.5l-6.3 13.4l10.8 13.4l-13.9 4.0l-14.4 1.5l-5.9-5.4l-8.6-11.1l-1.3-2.3l-13.1-6.1l-14.2-7.3l-0.2-0.5l-6.9-12.9l-7.5-4.3l-6.0 4.3l-8.4 4.9l-8.4-4.9l-0.8-13.4l5.2-13.4l-10.4-4.1l-10.4 4.1l-4.0 2.3l-14.4 0.8l-2.7-3.1l2.7-4.9l7.6-8.5l6.8-3.8l14.4-9.2l0.8-0.4l-0.8-0.4l-14.4-8.4l-14.4 0.3l-5.3-4.9l-9.1-8.5l-3.3-4.9l3.3-2.5l14.4-5.9l6.0-5.1l-3.2-13.4l11.6-10.8l14.4 2.7l4.6-5.3l-4.6-10.6l-14.4 8.9l-9.4-11.7l0.5-13.4l9.0-7.0l5.6-6.3l-5.6-6.9l-14.4-0.4l-2.2-6.2l2.2-8.2l14.4-4.8l0.5-0.4l-0.5-0.7l-5.1-12.7l-9.3-6.9l-10.6 6.9l-3.8 4.9l-3.8-4.9l3.8-12.3l0.5-1.1l5.8-13.4l8.2-4.2l11.1-9.2l3.3-2.7l11.5-10.7l-3.9-13.4l6.8-7.6l10.4-5.8l4.0-1.9l14.4-7.6l13.7 9.5l-0.4 13.4l1.2 0.4l0.6-0.4l0.6-13.4l13.3-8.2l2.1-5.2l-2.1-3.9l-6.8-9.5l-1.6-13.4l-5.2-13.4l13.7-7.6l14.4 4.1l5.7-9.9l8.7-7.5l10.3 7.5l4.1 10.6l14.4-2.1l14.4-4.3l6.2-4.1l-2.1-13.4zM752.7 1211.4l3.7 4.8l-0.7 13.4l-3.0 2.3l-4.0-2.3l0.3-13.4zM796.0 1227.5l1.9 2.1l-1.9 4.9l-6.6-4.9zM536.1 1235.3l10.3 7.6l-10.3 6.3l-5.1-6.3zM608.3 1239.1l-9.1 3.8l9.1 5.3l11.4-5.3zM738.3 1239.2l2.4 3.8l-2.4 11.3l-1.2-11.3zM637.2 1247.9l-5.1 8.5l5.1 6.0l5.1-6.0zM680.5 1249.1l-6.2 7.2l-8.2 5.4l-6.0 8.0l6.0 11.1l14.4-0.6l4.0 2.8l10.4 2.9l3.5-2.9l-3.5-9.6l-3.0-3.8l-5.2-13.4zM767.1 1249.0l13.9 7.3l0.6 1.1l14.4 2.8l8.2 9.5l0 13.4l6.2 5.8l10.3 7.6l-10.3 3.5l-10.3-3.5l-4.2-3.9l-13.7-9.5l-0.8-1.1l-13.3-12.3l-1.2-0.5l-5.5-12.9zM608.3 1265.6l-3.1 4.1l3.1 4.1l4.5-4.1l-4.5-4.1M839.3 1267.2l13.7 2.5l-13.7 6.3l-5.9-6.3zM478.3 1277.0l4.4 6.2l-2.7 13.4l-1.7 2.8l-2.4-2.8l-2.0-13.4zM521.7 1278.5l6.2 4.7l-6.2 8.6l-6.9-8.6zM637.2 1280.0l-1.7 3.1l-0.6 13.4l2.3 0.5l0.5-0.5l14.0-13.0l2.3-0.4l-2.3-0.4zM507.2 1292.4l6.6 4.1l-6.6 4.9l-3.3-4.9zM666.1 1294.4l-0.5 2.1l0.5 0.2l0.2-0.2zM449.5 1308.5l0.9 1.4l-0.9 2.3l-1.2-2.3zM492.8 1308.3l3.0 1.6l-3.0 3.8l-3.0-3.8zM651.6 1307.3l-3.4 2.6l0.6 13.4l2.8 2.2l4.2-2.2l-2.5-13.4zM536.1 1313.4l-10.6 9.9l10.6 9.9l7.5-9.9zM680.5 1316.1l-6.2 7.2l5.7 13.4l0.6 0.4l0.8-0.4l1.6-13.4zM709.4 1316.4l-5.2 6.9l5.2 6.3l7.4-6.3zM781.6 1331.6l-6.0 5.1l6.0 7.0l5.5-7.0zM550.5 1342.9l-6.2 7.2l6.2 4.1l2.8-4.1zM752.7 1349.8l-0.8 0.3l0.8 0.2l0.3-0.2l-0.3-0.3M796.0 1346.9l-5.2 3.2l-9.2 12.9l-14.4-2.1l-2.8 2.6l2.6 13.4l0.2 0.5l0.4-0.5l14.1-13.0l10.5 13.0l1.9 13.4l1.9 5.8l14.4 3.5l6.0-9.3l-6.0-11.1l-4.0-2.3l-4.8-13.4l8.9-12.3l1.2-1.1l-1.2-0.3zM882.7 1347.9l3.0 2.3l-3.0 2.3l-3.0-2.3zM521.7 1363.2l-1.2 0.4l1.2 0.2l0.4-0.2zM954.9 1362.5l1.7 1.0l-1.7 0.9l-2.4-0.9zM680.5 1375.9l-1.4 1.0l-2.1 13.4l3.3 13.4l0.2 0.4l0.3-0.4l4.2-13.4l-2.9-13.4zM463.9 1388.4l3.0 1.9l-3.0 5.6l-1.5-5.6zM897.1 1386.1l8.2 4.2l-8.2 6.3l-8.2-6.3zM926.0 1401.0l14.4 0.8l2.0 1.9l-2.0 2.3l-14.4 0.9l-8.2-3.2zM651.6 1414.1l-2.9 3.0l2.9 3.3l5.1-3.3zM767.1 1416.4l-1.2 0.7l1.2 0.4l0.5-0.4zM810.5 1411.9l-1.5 5.2l1.5 5.2l2.1-5.2zM882.7 1414.3l14.4-4.5l6.2 7.3l0.9 13.4l-7.0 11.2l-4.2 2.2l-0.4 13.4l0.7 13.4l-10.5 7.1l-14.4-2.4l-11.1-4.7l11.1-7.3l4.6-6.0l3.0-13.4l6.8-12.7l0.4-0.7l-0.4-2.1l-2.0-11.3zM622.7 1429.2l-1.5 1.3l1.5 1.6l0.7-1.6l-0.7-1.3M954.9 1426.2l8.7 4.3l-8.7 7.2l-5.0-7.2zM550.5 1440.8l-1.4 3.1l1.4 2.6l2.8-2.6zM926.0 1442.3l0.9 1.6l-0.9 2.3l-3.0-2.3zM565.0 1470.4l-0.4 0.3l0.4 0.3l0.4-0.3zM521.7 1483.6l-0.4 0.4l-7.4 13.4l7.8 8.2l12.0-8.2l-11.6-13.4zM781.6 1481.0l-2.8 3.1l2.8 5.2l1.9-5.2l-1.9-3.1M565.0 1494.3l-4.5 3.2l4.5 3.6l5.2-3.6l-5.2-3.2M593.9 1492.2l-6.5 5.3l6.5 3.8l3.8-3.8zM824.9 1486.2l2.0 11.3l4.0 13.4l6.1 13.4l-7.6 13.4l-4.6 7.6l-4.6-7.6l-9.9-7.5l-7.8-5.9l7.8-8.1l11.4-5.3l0.0-13.4zM882.7 1493.9l6.6 3.5l-2.9 13.4l-3.7 10.3l-6.9-10.3l3.1-13.4zM911.5 1493.7l8.2 3.8l-8.2 6.3l-8.2-6.3zM622.7 1507.0l-5.6 3.9l5.6 1.1l1.2-1.1zM637.2 1523.2l-1.2 1.1l1.2 3.9l8.4-3.9zM694.9 1516.0l-6.8 8.3l6.8 6.3l6.8-6.3l-6.8-8.3M853.8 1514.0l13.9 10.3l-13.9 4.3l-13.9-4.3zM536.1 1530.6l-5.7 7.1l5.7 10.6l3.0 2.8l11.4 3.5l7.5 9.9l6.9 9.1l13.1-9.1l-8.9-13.4l-4.2-5.2l-5.3-8.2l-9.1-6.0zM622.7 1535.0l-3.8 2.6l-3.7 13.4l7.5 8.0l6.7-8.0l0.9-13.4zM868.2 1526.4l12.1 11.3l-12.1 2.3l-1.3-2.3zM781.6 1545.4l12.1 5.6l-12.1 1.6l-1.7-1.6zM680.5 1564.2l-0.3 0.3l0.3 0.7l1.2-0.7zM810.5 1559.6l6.5 4.9l-6.5 8.7l-12.0-8.7zM622.7 1569.9l-7.5 8.0l7.5 5.6l10.0-5.6zM593.9 1590.7l-0.2 0.5l0.2 2.1l14.4-1.4l0.4-0.7l-0.4-0.5zM507.2 1599.5l5.5 5.1l-5.5 5.1l-11.1-5.1zM709.4 1598.3l10.3 6.3l-8.5 13.4l-1.7 1.4l-2.4-1.4l-5.8-13.4zM796.0 1598.3l5.9 6.3l-5.9 3.8l-4.1-3.8zM723.8 1628.3l13.3 3.1l-13.3 4.9l-3.0-4.9zM593.9 1642.6l14.4-3.2l8.2 5.4l-8.2 2.7l-14.4 2.9l-2.0-5.6zM666.1 1642.9l14.4-2.9l14.4 0.6l4.4 4.1l-4.4 2.7l-14.4 0.7l-9.8 9.9l-4.6 5.1l-11.1-5.1l9.9-13.4zM579.4 1656.3l6.1 1.9l-6.1 1.4l-2.4-1.4zM796.0 1655.8l2.0 2.5l-2.0 1.9l-5.3-1.9zM593.9 1663.4l2.0 8.2l-2.0 4.9l-3.0-4.9z"/><path fill="none" stroke="#929292" stroke-width="5.6" stroke-linejoin="round" d="M608.3 1228.5l1.5 1.1l-1.5 1.4l-1.2-1.4zM593.9 1267.2l1.6 2.5l-0.8 13.4l13.6 12.6l0.3 0.8l14.2 13.1l0.6 0.3l-0.6 0.4l-14.4 7.1l-2.7-7.5l-11.7-6.5l-7.4-6.9l7.2-13.4l-3.0-13.4zM622.7 1276.0l3.1 7.1l-3.1 3.5l-7.7-3.5zM709.4 1282.9l0.2 0.3l0.1 13.4l-0.3 1.6l-14.4 5.9l-14.4-0.6l-6.2-6.9l6.2-6.2l14.4 4.7l14.2-11.9zM666.1 1306.8l4.4 3.2l-4.4 4.7l-3.1-4.7zM579.4 1315.4l8.5 7.9l2.8 13.4l3.2 2.9l5.6 10.4l5.8 13.4l-5.5 13.4l8.5 7.9l7.7-7.9l-4.3-13.4l4.4-13.4l5.7-13.4l0.9-0.4l14.4-9.8l12.6 10.2l1.8 1.7l14.4 11.2l0.9 0.5l13.6 2.5l14.4 5.7l5.6 5.2l0 13.4l-5.6 8.4l-4.1-8.4l-10.3-6.6l-9.5 6.6l-4.8 13.4l6.0 13.4l-6.2 11.4l-14.4-7.5l-8.9 9.5l8.9 10.2l14.4-4.3l14.4 0.4l2.7-6.3l9.7-13.4l2.0-5.0l14.4 0.3l3.1-8.7l5.7-13.4l5.6-8.4l6.8-5.0l7.7-4.7l14.4 1.6l2.8 3.2l1.7 13.4l5.8 13.4l-1.4 13.4l-8.8 7.5l-10.1 5.9l-4.4 9.5l-6.1-9.5l-8.3-12.9l-14.4 8.9l-1.4 3.9l1.4 2.4l8.5 11.0l-8.5 6.1l-14.4-5.9l-7.7 13.1l-6.7 8.6l-5.9 4.8l5.9 4.8l9.2 8.6l5.2 5.5l14.4 0l7.4 7.9l7.0 10.4l4.0 3.0l-3.5 13.4l13.9 12.9l0.4 0.5l-0.4 0.3l-14.4 3.5l-14.4-2.1l-0.1-1.6l-0.4-13.4l-6.8-13.4l-7.0-7.3l-5.9 7.3l2.4 13.4l-10.8 13.4l-0.1 0.3l-1.7-0.3l-12.7-5.9l-14.4-1.3l-14.4-0.4l-6.3-5.9l5.9-13.4l-14.0-4.7l-9.3 4.7l-5.1 4.1l-2.6-4.1l-9.6-13.4l9.9-13.4l-12.1-7.9l-14.4 5.5l-14.4-9.2l-5.4-1.9l5.4-5.0l5.4-8.4l-5.4-1.8l-11.7-11.6l4.2-13.4l-7.0-7.4l-14.4 1.5l-3.2 5.9l-11.3 10.4l-2.8-10.4l-10.0-13.4l12.9-10.6l14.4 8.5l14.2-11.3l-6.4-13.4l6.7-9.8l3.4-3.6l8.3-13.4l0.1-13.4l2.7-7.5l2.5-5.9zM694.9 1312.3l3.5 11.0l-3.5 6.9l-4.6-6.9zM781.6 1322.9l0.1 0.4l-0.1 0.1l-0.4-0.1zM709.4 1336.6l0.6 0.1l-0.6 0.5l-0.4-0.5zM738.3 1336.5l14.4-0.1l1.7 0.3l-1.7 0.2l-14.4 0.2l-0.6-0.4zM796.0 1336.6l14.4-1.1l2.7 1.3l-2.7 1.9l-14.4-1.7l-0.2-0.2zM579.4 1343.7l-8.3 6.4l8.3 5.5l6.9-5.5zM637.2 1348.4l-2.5 1.7l2.5 2.9l1.8-2.9zM767.1 1340.6l6.1 9.5l-6.1 2.6l-3.4-2.6zM853.8 1344.0l4.2 6.1l-4.2 4.6l-8.5-4.6zM651.6 1361.8l-3.2 1.7l3.2 1.1l1.8-1.1l-1.8-1.7M521.7 1373.7l3.8 3.2l-3.8 7.1l-5.1-7.1zM579.4 1374.5l-1.4 2.4l1.4 2.9l2.5-2.9zM738.3 1370.6l-5.4 6.3l5.4 3.6l5.4-3.6zM565.0 1385.3l-14.1 5.0l8.7 13.4l5.4 4.2l8.5 9.2l5.9 3.5l8.3-3.5l-6.2-13.4l-2.1-2.9l-5.6-10.4zM781.6 1378.4l6.4 11.9l-6.4 11.9l-10.3-11.9zM608.3 1398.2l-5.2 5.5l-1.6 13.4l6.8 5.0l4.1 8.4l10.3 10.6l4.9-10.6l-4.9-8.8l-9.9-4.6l0.1-13.4zM796.0 1411.1l4.1 6.0l-4.1 8.4l-9.0-8.4zM824.9 1415.5l0.2 1.6l-0.2 1.6l-0.2-1.6zM507.2 1430.4l1.7 0.1l0.6 13.4l-2.3 1.7l-1.3-1.7l1.2-13.4zM536.1 1432.8l5.0 11.0l-4.1 13.4l-0.9 0.5l-0.2-0.5l-5.8-13.4zM651.6 1435.7l-7.0 8.2l0.1 13.4l6.9 3.9l5.9-3.9l1.9-13.4zM738.3 1433.4l9.0 10.4l-3.4 13.4l-5.2 13.4l-0.4 0.8l-1.7-0.8l-12.7-2.9l-14.4-1.3l-12.6-9.1l12.6-7.5l14.4-3.0l3.2-2.9zM767.1 1443.1l0.3 0.8l-0.3 0.8l-0.9-0.8zM810.5 1441.4l8.1 2.5l-8.1 1.2l-3.2-1.2zM622.7 1447.4l-14.2 9.8l14.2 11.3l9.4-11.3zM781.6 1451.1l4.6 6.1l-4.6 7.9l-9.9-7.9zM882.7 1456.9l0.2 0.4l-0.2 1.6l-0.2-1.6zM810.5 1470.5l0.9 0.1l-0.9 0.2l-0.3-0.2zM550.5 1473.0l14.4 10.8l14.4-10.2l9.0 10.4l-9.0 7.0l-14.4-6.8l-14.4 9.0l-9.9-9.2zM651.6 1479.3l-6.2 4.7l6.2 5.8l11.2-5.8zM680.5 1480.5l-9.0 3.6l9.0 2.8l4.5-2.8zM752.7 1483.7l0.9 0.4l13.6 5.0l5.6 8.4l-5.6 4.6l-14.4-2.1l-4.0-2.5l3.2-13.4zM796.0 1481.6l1.8 2.5l-1.8 5.0l-1.8-5.0zM492.8 1497.3l14.4-7.4l1.0 7.5l-1.0 3.8l-14.4-3.4l-0.3-0.3zM666.1 1489.1l-3.9 8.4l3.9 8.4l3.0-8.4l-3.0-8.4M536.1 1508.4l3.2 2.5l-3.2 3.0l-8.1-3.0zM593.9 1509.5l2.7 1.4l-2.7 7.5l-3.2-7.5zM781.6 1506.8l2.6 4.1l-2.6 3.2l-3.8-3.2zM622.7 1518.4l6.3 5.9l-6.3 5.1l-12.6-5.1zM608.3 1528.2l2.6 9.5l-2.6 5.7l-6.1-5.7zM694.9 1537.5l1.7 0.1l-1.7 0.4l-0.3-0.4zM593.9 1547.3l4.0 3.8l-4.0 3.8l-3.2-3.8zM680.5 1548.9l3.2 2.1l-3.2 1.9l-2.3-1.9zM709.4 1549.4l0.2 1.6l-0.2 0.3l-0.4-0.3zM550.5 1562.1l1.8 2.4l-1.8 2.2l-6.1-2.2zM637.2 1554.2l6.3 10.2l-6.3 7.5l-8.8-7.5zM666.1 1560.9l3.4 3.5l-3.4 4.7l-3.1-4.7zM723.8 1564.2l14.4-4.0l7.5 4.2l-7.5 3.8l-11.4 9.6l-3.1 2.4l-2.8-2.4l2.4-13.4zM767.1 1564.3l0.1 0.1l-0.1 0.2l-0.6-0.2zM579.4 1577.6l0.6 0.3l3.9 13.4l-4.5 2.3l-4.5-2.3l3.9-13.4z"/><path fill="none" stroke="#b6b6b6" stroke-width="5.6" stroke-linejoin="round" d="M593.9 1362.2l0.6 1.3l-0.6 1.8l-1.9-1.8zM680.5 1361.6l4.0 1.9l-4.0 1.2l-10.1-1.2zM565.0 1367.5l2.2 9.4l-2.2 1.4l-6.7-1.4zM651.6 1372.8l8.2 4.1l-5.7 13.4l-2.5 4.7l-14.4-1.6l-2.9-3.1l2.9-2.3l9.5-11.1zM723.8 1381.3l11.9 9.0l-11.9 7.1l-5.9-7.1zM752.7 1389.0l0.6 1.3l-0.6 5.4l-2.9-5.4zM781.6 1389.6l0.4 0.7l-0.4 0.7l-0.6-0.7zM521.7 1403.1l1.0 0.6l-1.0 1.3l-0.7-1.3zM694.9 1414.4l2.2 2.7l-2.2 2.3l-2.0-2.3zM565.0 1421.4l14.4 7.3l2.5 1.7l-2.5 3.8l-14.4 1.4l-5.2-5.2zM637.2 1418.0l10.1 12.5l-10.1 11.3l-5.3-11.3zM651.6 1470.1l5.8 0.5l-5.8 0.5l-1.2-0.5zM608.3 1479.0l14.4 4.2l2.9 0.9l-2.9 0.5l-14.4 5.2l-4.1-5.7zM680.5 1496.9l0.5 0.6l2.4 13.4l-2.9 3.6l-4.3-3.6l3.7-13.4z"/><path fill="none" stroke="#dbdbdb" stroke-width="5.6" stroke-linejoin="round" d="M723.8 1389.5l1.1 0.8l-1.1 0.7l-0.5-0.7zM637.2 1428.0l2.0 2.5l-2.0 2.3l-1.1-2.3z"/></g><g clip-path="url(#ct)" shape-rendering="crispEdges"><rect x="363" y="588.6" width="7" height="11.6" fill="#053368"/><rect x="370" y="570.8" width="7" height="29.4" fill="#033a60"/><rect x="377" y="563.3" width="8" height="36.9" fill="#023961"/><rect x="385" y="535.4" width="7" height="64.8" fill="#063369"/><rect x="392" y="538.8" width="7" height="61.4" fill="#043368"/><rect x="399" y="520.3" width="7" height="79.9" fill="#043368"/><rect x="406" y="503.3" width="7" height="96.9" fill="#013663"/><rect x="413" y="497.8" width="8" height="102.4" fill="#003465"/><rect x="421" y="465.7" width="7" height="134.5" fill="#023962"/><rect x="428" y="443.9" width="7" height="156.3" fill="#073369"/><rect x="435" y="462.3" width="7" height="137.9" fill="#043e5d"/><rect x="442" y="437.7" width="7" height="162.5" fill="#023763"/><rect x="449" y="399.5" width="8" height="200.7" fill="#033b5f"/><rect x="457" y="392.7" width="7" height="207.5" fill="#023962"/><rect x="464" y="369.5" width="7" height="230.7" fill="#023962"/><rect x="471" y="360.6" width="7" height="239.6" fill="#043d5e"/><rect x="478" y="365.4" width="8" height="234.8" fill="#053f5d"/><rect x="486" y="350.4" width="7" height="249.8" fill="#033a60"/><rect x="493" y="352.4" width="7" height="247.8" fill="#033961"/><rect x="500" y="329.9" width="7" height="270.3" fill="#043c5f"/><rect x="507" y="296.4" width="7" height="303.8" fill="#013564"/><rect x="514" y="285.5" width="8" height="314.7" fill="#023367"/><rect x="522" y="264.4" width="7" height="335.8" fill="#023862"/><rect x="529" y="288.9" width="7" height="311.3" fill="#003366"/><rect x="536" y="266.4" width="7" height="333.8" fill="#063369"/><rect x="543" y="267.8" width="8" height="332.4" fill="#023367"/><rect x="551" y="271.9" width="7" height="328.3" fill="#003366"/><rect x="558" y="209.8" width="7" height="390.4" fill="#033368"/><rect x="565" y="256.2" width="7" height="344.0" fill="#053368"/><rect x="572" y="227.5" width="7" height="372.7" fill="#013565"/><rect x="579" y="217.9" width="8" height="382.3" fill="#023862"/><rect x="587" y="224.1" width="7" height="376.1" fill="#003465"/><rect x="594" y="181.1" width="7" height="419.1" fill="#013367"/><rect x="601" y="245.9" width="7" height="354.3" fill="#013664"/><rect x="608" y="162.7" width="8" height="437.5" fill="#023763"/><rect x="616" y="209.1" width="7" height="391.1" fill="#003466"/><rect x="623" y="213.8" width="7" height="386.4" fill="#013763"/><rect x="630" y="194.7" width="7" height="405.5" fill="#023962"/><rect x="637" y="176.3" width="7" height="423.9" fill="#003465"/><rect x="644" y="177.7" width="8" height="422.5" fill="#013367"/><rect x="652" y="179.7" width="7" height="420.5" fill="#013664"/><rect x="659" y="178.4" width="7" height="421.8" fill="#013664"/><rect x="666" y="215.9" width="7" height="384.3" fill="#023961"/><rect x="673" y="192.0" width="8" height="408.2" fill="#033368"/><rect x="681" y="179.7" width="7" height="420.5" fill="#013366"/><rect x="688" y="203.6" width="7" height="396.6" fill="#023367"/><rect x="695" y="217.9" width="7" height="382.3" fill="#053369"/><rect x="702" y="207.7" width="7" height="392.5" fill="#013564"/><rect x="709" y="222.7" width="8" height="377.5" fill="#013763"/><rect x="717" y="192.0" width="7" height="408.2" fill="#013367"/><rect x="724" y="217.3" width="7" height="382.9" fill="#033a61"/><rect x="731" y="219.3" width="7" height="380.9" fill="#023862"/><rect x="738" y="235.7" width="8" height="364.5" fill="#023763"/><rect x="746" y="227.5" width="7" height="372.7" fill="#013663"/><rect x="753" y="243.9" width="7" height="356.3" fill="#023862"/><rect x="760" y="238.4" width="7" height="361.8" fill="#043368"/><rect x="767" y="229.5" width="7" height="370.7" fill="#023763"/><rect x="774" y="227.5" width="8" height="372.7" fill="#023763"/><rect x="782" y="276.6" width="7" height="323.6" fill="#063369"/><rect x="789" y="292.3" width="7" height="307.9" fill="#013664"/><rect x="796" y="279.4" width="7" height="320.8" fill="#003465"/><rect x="803" y="273.2" width="7" height="327.0" fill="#023862"/><rect x="810" y="294.4" width="8" height="305.8" fill="#003366"/><rect x="818" y="280.7" width="7" height="319.5" fill="#013565"/><rect x="825" y="277.3" width="7" height="322.9" fill="#013664"/><rect x="832" y="301.2" width="7" height="299.0" fill="#023367"/><rect x="839" y="334.0" width="8" height="266.2" fill="#023763"/><rect x="847" y="312.8" width="7" height="287.4" fill="#003465"/><rect x="854" y="330.6" width="7" height="269.6" fill="#013664"/><rect x="861" y="337.4" width="7" height="262.8" fill="#023367"/><rect x="868" y="324.4" width="7" height="275.8" fill="#023862"/><rect x="875" y="357.9" width="8" height="242.3" fill="#013564"/><rect x="883" y="338.1" width="7" height="262.1" fill="#013367"/><rect x="890" y="373.6" width="7" height="226.6" fill="#013565"/><rect x="897" y="378.4" width="7" height="221.8" fill="#023763"/><rect x="904" y="396.8" width="8" height="203.4" fill="#023961"/><rect x="912" y="389.3" width="7" height="210.9" fill="#0a336b"/><rect x="919" y="390.6" width="7" height="209.6" fill="#003465"/><rect x="926" y="368.8" width="7" height="231.4" fill="#013367"/><rect x="933" y="397.5" width="7" height="202.7" fill="#053368"/><rect x="940" y="402.2" width="8" height="198.0" fill="#0a336b"/><rect x="948" y="417.3" width="7" height="182.9" fill="#013465"/><rect x="955" y="397.5" width="7" height="202.7" fill="#0c336c"/><rect x="962" y="423.4" width="7" height="176.8" fill="#033368"/><rect x="969" y="439.8" width="8" height="160.4" fill="#003465"/><rect x="977" y="457.5" width="7" height="142.7" fill="#0f336e"/><rect x="984" y="465.7" width="7" height="134.5" fill="#08336a"/><rect x="991" y="443.9" width="7" height="156.3" fill="#0d336d"/><rect x="998" y="460.3" width="7" height="139.9" fill="#053368"/><rect x="1005" y="454.8" width="8" height="145.4" fill="#013565"/><rect x="1013" y="473.9" width="7" height="126.3" fill="#023862"/><rect x="1020" y="460.9" width="7" height="139.3" fill="#10336e"/><rect x="1027" y="469.8" width="7" height="130.4" fill="#09336b"/><rect x="1034" y="489.6" width="8" height="110.6" fill="#023367"/><rect x="1042" y="488.3" width="7" height="111.9" fill="#013664"/><rect x="1049" y="504.6" width="7" height="95.6" fill="#033368"/><rect x="1056" y="501.2" width="7" height="99.0" fill="#0b336b"/><rect x="1063" y="503.3" width="7" height="96.9" fill="#043368"/><rect x="1070" y="501.9" width="8" height="98.3" fill="#063369"/><rect x="1078" y="525.8" width="7" height="74.4" fill="#07336a"/><rect x="1085" y="534.0" width="7" height="66.2" fill="#0b336c"/><rect x="1092" y="525.1" width="7" height="75.1" fill="#043368"/><rect x="1099" y="535.4" width="8" height="64.8" fill="#043368"/><rect x="1107" y="538.8" width="7" height="61.4" fill="#073369"/><rect x="1114" y="536.7" width="7" height="63.5" fill="#08336a"/><rect x="1121" y="535.4" width="7" height="64.8" fill="#0f336e"/><rect x="1128" y="552.4" width="7" height="47.8" fill="#0a336b"/><rect x="1135" y="549.0" width="8" height="51.2" fill="#013664"/><rect x="1143" y="557.2" width="7" height="43.0" fill="#08336a"/><rect x="1150" y="564.7" width="7" height="35.5" fill="#13336f"/><rect x="1157" y="562.7" width="7" height="37.5" fill="#023863"/><rect x="1164" y="560.6" width="7" height="39.6" fill="#023367"/><rect x="1171" y="575.6" width="8" height="24.6" fill="#05415b"/><rect x="1179" y="572.2" width="7" height="28.0" fill="#033368"/><rect x="1186" y="566.1" width="7" height="34.1" fill="#063369"/><rect x="1193" y="559.2" width="7" height="41.0" fill="#0d336c"/><rect x="1200" y="575.6" width="8" height="24.6" fill="#053f5d"/><rect x="1208" y="567.4" width="7" height="32.8" fill="#084955"/><rect x="1215" y="564.7" width="7" height="35.5" fill="#033368"/><rect x="1222" y="563.3" width="7" height="36.9" fill="#003366"/><rect x="1229" y="578.4" width="7" height="21.8" fill="#043e5e"/><rect x="1236" y="577.7" width="8" height="22.5" fill="#013366"/><rect x="1244" y="582.5" width="7" height="17.7" fill="#023962"/><rect x="1251" y="581.1" width="7" height="19.1" fill="#023962"/><rect x="1258" y="587.2" width="7" height="13.0" fill="#043e5e"/><rect x="1265" y="586.5" width="8" height="13.7" fill="#084856"/><rect x="1273" y="581.8" width="7" height="18.4" fill="#033c5f"/><rect x="1280" y="584.5" width="7" height="15.7" fill="#074558"/><rect x="1287" y="581.8" width="7" height="18.4" fill="#023862"/><rect x="1294" y="586.5" width="7" height="13.7" fill="#053f5c"/><rect x="1301" y="590.0" width="8" height="10.2" fill="#143370"/><rect x="1309" y="588.6" width="7" height="11.6" fill="#09336b"/><rect x="1316" y="588.6" width="7" height="11.6" fill="#074558"/><rect x="1323" y="592.0" width="7" height="8.2" fill="#003465"/><rect x="1330" y="591.3" width="8" height="8.9" fill="#064359"/><rect x="1338" y="590.6" width="7" height="9.6" fill="#06435a"/><rect x="1345" y="593.4" width="7" height="6.8" fill="#0b4f51"/><rect x="1352" y="594.7" width="7" height="5.5" fill="#084955"/><rect x="1359" y="592.7" width="7" height="7.5" fill="#094a54"/><rect x="1366" y="593.4" width="8" height="6.8" fill="#033a60"/><rect x="1374" y="594.7" width="7" height="5.5" fill="#033367"/><rect x="1381" y="596.8" width="7" height="3.4" fill="#063369"/><rect x="1388" y="592.0" width="7" height="8.2" fill="#013564"/><rect x="1395" y="596.1" width="8" height="4.1" fill="#0d336d"/><rect x="1403" y="597.5" width="7" height="2.7" fill="#033368"/><rect x="1410" y="597.5" width="7" height="2.7" fill="#033a61"/><rect x="1417" y="594.7" width="7" height="5.5" fill="#05405c"/><rect x="1424" y="596.1" width="7" height="4.1" fill="#013664"/><rect x="1431" y="594.7" width="8" height="5.5" fill="#193373"/><rect x="1439" y="598.8" width="7" height="1.4" fill="#033a61"/><rect x="1446" y="597.5" width="7" height="2.7" fill="#05415b"/><rect x="1453" y="592.7" width="7" height="7.5" fill="#094b54"/><rect x="1460" y="597.5" width="8" height="2.7" fill="#084856"/><rect x="1468" y="596.1" width="7" height="4.1" fill="#033368"/><rect x="1475" y="597.5" width="7" height="2.7" fill="#08336a"/><rect x="1496" y="598.8" width="8" height="1.4" fill="#1a7731"/><rect x="1511" y="597.5" width="7" height="2.7" fill="#0a4c53"/><rect x="1525" y="598.8" width="7" height="1.4" fill="#187235"/><rect x="1532" y="598.8" width="8" height="1.4" fill="#1c7b2f"/><rect x="1540" y="597.5" width="7" height="2.7" fill="#0a336b"/><rect x="1569" y="598.8" width="7" height="1.4" fill="#084756"/><rect x="1597" y="598.8" width="8" height="1.4" fill="#094955"/></g><g clip-path="url(#cr)" shape-rendering="crispEdges"><rect x="1920.5" y="759" width="1.8" height="7" fill="#228b22"/><rect x="1920.5" y="766" width="1.8" height="7" fill="#126043"/><rect x="1920.5" y="773" width="4.4" height="6" fill="#0d544d"/><rect x="1920.5" y="800" width="5.3" height="6" fill="#115f44"/><rect x="1920.5" y="813" width="1.8" height="7" fill="#043368"/><rect x="1920.5" y="820" width="5.3" height="6" fill="#0b5050"/><rect x="1920.5" y="826" width="3.5" height="7" fill="#06425a"/><rect x="1920.5" y="840" width="7.0" height="6" fill="#084856"/><rect x="1920.5" y="846" width="4.4" height="7" fill="#003366"/><rect x="1920.5" y="853" width="9.7" height="7" fill="#074459"/><rect x="1920.5" y="860" width="8.8" height="6" fill="#023862"/><rect x="1920.5" y="866" width="14.1" height="7" fill="#043368"/><rect x="1920.5" y="873" width="20.3" height="7" fill="#003466"/><rect x="1920.5" y="880" width="17.6" height="6" fill="#023367"/><rect x="1920.5" y="886" width="15.9" height="7" fill="#1e3375"/><rect x="1920.5" y="893" width="14.1" height="7" fill="#1a3373"/><rect x="1920.5" y="900" width="17.6" height="6" fill="#1c3374"/><rect x="1920.5" y="906" width="14.1" height="7" fill="#12336f"/><rect x="1920.5" y="913" width="25.5" height="7" fill="#0f336d"/><rect x="1920.5" y="920" width="21.1" height="6" fill="#09336a"/><rect x="1920.5" y="926" width="28.2" height="7" fill="#143370"/><rect x="1920.5" y="933" width="25.5" height="7" fill="#003466"/><rect x="1920.5" y="940" width="32.6" height="6" fill="#0a336b"/><rect x="1920.5" y="946" width="32.6" height="7" fill="#0a336b"/><rect x="1920.5" y="953" width="37.9" height="7" fill="#053369"/><rect x="1920.5" y="960" width="29.1" height="6" fill="#08336a"/><rect x="1920.5" y="966" width="44.0" height="7" fill="#043368"/><rect x="1920.5" y="973" width="40.5" height="7" fill="#0a336b"/><rect x="1920.5" y="980" width="40.5" height="6" fill="#0f336e"/><rect x="1920.5" y="986" width="43.2" height="7" fill="#0d336d"/><rect x="1920.5" y="993" width="56.4" height="7" fill="#003465"/><rect x="1920.5" y="1000" width="46.7" height="6" fill="#073369"/><rect x="1920.5" y="1006" width="55.5" height="7" fill="#10336e"/><rect x="1920.5" y="1013" width="61.7" height="7" fill="#08336a"/><rect x="1920.5" y="1020" width="62.5" height="6" fill="#163371"/><rect x="1920.5" y="1026" width="72.2" height="7" fill="#023367"/><rect x="1920.5" y="1033" width="76.6" height="7" fill="#09336b"/><rect x="1920.5" y="1040" width="71.3" height="6" fill="#013565"/><rect x="1920.5" y="1046" width="74.0" height="7" fill="#043368"/><rect x="1920.5" y="1053" width="92.5" height="7" fill="#0f336d"/><rect x="1920.5" y="1060" width="107.5" height="6" fill="#033a61"/><rect x="1920.5" y="1066" width="87.2" height="7" fill="#043d5e"/><rect x="1920.5" y="1073" width="82.8" height="7" fill="#08336a"/><rect x="1920.5" y="1080" width="107.5" height="7" fill="#0a336b"/><rect x="1920.5" y="1087" width="105.7" height="6" fill="#003366"/><rect x="1920.5" y="1093" width="106.6" height="7" fill="#043368"/><rect x="1920.5" y="1100" width="92.5" height="7" fill="#063369"/><rect x="1920.5" y="1107" width="136.5" height="6" fill="#08336a"/><rect x="1920.5" y="1113" width="128.6" height="7" fill="#043368"/><rect x="1920.5" y="1120" width="107.5" height="7" fill="#0b336b"/><rect x="1920.5" y="1127" width="135.6" height="6" fill="#033368"/><rect x="1920.5" y="1133" width="129.5" height="7" fill="#08336a"/><rect x="1920.5" y="1140" width="140.9" height="7" fill="#0d336c"/><rect x="1920.5" y="1147" width="162.9" height="6" fill="#07336a"/><rect x="1920.5" y="1153" width="172.6" height="7" fill="#013664"/><rect x="1920.5" y="1160" width="170.9" height="7" fill="#003465"/><rect x="1920.5" y="1167" width="188.5" height="6" fill="#043368"/><rect x="1920.5" y="1173" width="208.7" height="7" fill="#003366"/><rect x="1920.5" y="1180" width="218.4" height="7" fill="#09336b"/><rect x="1920.5" y="1187" width="211.4" height="6" fill="#08336a"/><rect x="1920.5" y="1193" width="217.6" height="7" fill="#07336a"/><rect x="1920.5" y="1200" width="267.8" height="7" fill="#0e336d"/><rect x="1920.5" y="1207" width="257.2" height="6" fill="#033367"/><rect x="1920.5" y="1213" width="257.2" height="7" fill="#063369"/><rect x="1920.5" y="1220" width="271.3" height="7" fill="#063369"/><rect x="1920.5" y="1227" width="283.6" height="6" fill="#08336a"/><rect x="1920.5" y="1233" width="312.7" height="7" fill="#09336a"/><rect x="1920.5" y="1240" width="318.0" height="7" fill="#07336a"/><rect x="1920.5" y="1247" width="322.4" height="6" fill="#033367"/><rect x="1920.5" y="1253" width="298.6" height="7" fill="#003366"/><rect x="1920.5" y="1260" width="369.9" height="7" fill="#063369"/><rect x="1920.5" y="1267" width="332.9" height="6" fill="#033368"/><rect x="1920.5" y="1273" width="349.7" height="7" fill="#063369"/><rect x="1920.5" y="1280" width="362.9" height="7" fill="#0a336b"/><rect x="1920.5" y="1287" width="348.8" height="6" fill="#08336a"/><rect x="1920.5" y="1293" width="376.1" height="7" fill="#08336a"/><rect x="1920.5" y="1300" width="395.5" height="7" fill="#08336a"/><rect x="1920.5" y="1307" width="411.3" height="6" fill="#063369"/><rect x="1920.5" y="1313" width="404.3" height="7" fill="#053368"/><rect x="1920.5" y="1320" width="393.7" height="7" fill="#08336a"/><rect x="1920.5" y="1327" width="426.3" height="7" fill="#0a336b"/><rect x="1920.5" y="1334" width="427.2" height="6" fill="#073369"/><rect x="1920.5" y="1340" width="444.8" height="7" fill="#08336a"/><rect x="1920.5" y="1347" width="464.2" height="7" fill="#08336a"/><rect x="1920.5" y="1354" width="402.5" height="6" fill="#043368"/><rect x="1920.5" y="1360" width="452.7" height="7" fill="#023367"/><rect x="1920.5" y="1367" width="442.2" height="7" fill="#07336a"/><rect x="1920.5" y="1374" width="478.3" height="6" fill="#013366"/><rect x="1920.5" y="1380" width="473.0" height="7" fill="#003366"/><rect x="1920.5" y="1387" width="458.9" height="7" fill="#013564"/><rect x="1920.5" y="1394" width="461.5" height="6" fill="#013664"/><rect x="1920.5" y="1400" width="450.1" height="7" fill="#023367"/><rect x="1920.5" y="1407" width="508.2" height="7" fill="#003366"/><rect x="1920.5" y="1414" width="471.2" height="6" fill="#023763"/><rect x="1920.5" y="1420" width="459.8" height="7" fill="#013565"/><rect x="1920.5" y="1427" width="474.8" height="7" fill="#023367"/><rect x="1920.5" y="1434" width="513.5" height="6" fill="#003465"/><rect x="1920.5" y="1440" width="485.3" height="7" fill="#003366"/><rect x="1920.5" y="1447" width="456.3" height="7" fill="#023367"/><rect x="1920.5" y="1454" width="517.9" height="6" fill="#043368"/><rect x="1920.5" y="1460" width="480.9" height="7" fill="#003465"/><rect x="1920.5" y="1467" width="449.2" height="7" fill="#033368"/><rect x="1920.5" y="1474" width="449.2" height="6" fill="#003466"/><rect x="1920.5" y="1480" width="434.2" height="7" fill="#003465"/><rect x="1920.5" y="1487" width="468.6" height="7" fill="#023367"/><rect x="1920.5" y="1494" width="464.2" height="6" fill="#013565"/><rect x="1920.5" y="1500" width="443.0" height="7" fill="#003366"/><rect x="1920.5" y="1507" width="412.2" height="7" fill="#013366"/><rect x="1920.5" y="1514" width="412.2" height="6" fill="#013664"/><rect x="1920.5" y="1520" width="395.5" height="7" fill="#013465"/><rect x="1920.5" y="1527" width="392.0" height="7" fill="#023367"/><rect x="1920.5" y="1534" width="409.6" height="6" fill="#013366"/><rect x="1920.5" y="1540" width="412.2" height="7" fill="#013465"/><rect x="1920.5" y="1547" width="379.6" height="7" fill="#023862"/><rect x="1920.5" y="1554" width="398.1" height="6" fill="#013763"/><rect x="1920.5" y="1560" width="332.1" height="7" fill="#023961"/><rect x="1920.5" y="1567" width="329.4" height="7" fill="#033a61"/><rect x="1920.5" y="1574" width="312.7" height="6" fill="#023961"/><rect x="1920.5" y="1580" width="311.8" height="7" fill="#043c5f"/><rect x="1920.5" y="1587" width="281.0" height="7" fill="#023961"/><rect x="1920.5" y="1594" width="347.0" height="6" fill="#023961"/><rect x="1920.5" y="1600" width="287.1" height="7" fill="#023862"/><rect x="1920.5" y="1607" width="311.8" height="7" fill="#013465"/><rect x="1920.5" y="1614" width="287.1" height="7" fill="#013763"/><rect x="1920.5" y="1621" width="285.4" height="6" fill="#043c5f"/><rect x="1920.5" y="1627" width="304.8" height="7" fill="#043d5f"/><rect x="1920.5" y="1634" width="239.6" height="7" fill="#033b60"/><rect x="1920.5" y="1641" width="242.2" height="6" fill="#033c5f"/><rect x="1920.5" y="1647" width="261.6" height="7" fill="#023961"/><rect x="1920.5" y="1654" width="262.5" height="7" fill="#033c5f"/><rect x="1920.5" y="1661" width="240.5" height="6" fill="#023961"/><rect x="1920.5" y="1667" width="214.0" height="7" fill="#05405c"/><rect x="1920.5" y="1674" width="229.9" height="7" fill="#033b60"/><rect x="1920.5" y="1681" width="210.5" height="6" fill="#074558"/><rect x="1920.5" y="1687" width="175.3" height="7" fill="#05405c"/><rect x="1920.5" y="1694" width="167.4" height="7" fill="#033b60"/><rect x="1920.5" y="1701" width="172.6" height="6" fill="#053f5d"/><rect x="1920.5" y="1707" width="176.2" height="7" fill="#05415b"/><rect x="1920.5" y="1714" width="152.4" height="7" fill="#06425a"/><rect x="1920.5" y="1721" width="165.6" height="6" fill="#053f5d"/><rect x="1920.5" y="1727" width="144.5" height="7" fill="#064459"/><rect x="1920.5" y="1734" width="151.5" height="7" fill="#0a4d52"/><rect x="1920.5" y="1741" width="107.5" height="6" fill="#033c5f"/><rect x="1920.5" y="1747" width="136.5" height="7" fill="#074558"/><rect x="1920.5" y="1754" width="125.1" height="7" fill="#06425a"/><rect x="1920.5" y="1761" width="133.0" height="6" fill="#074657"/><rect x="1920.5" y="1767" width="108.3" height="7" fill="#043e5d"/><rect x="1920.5" y="1774" width="114.5" height="7" fill="#05405c"/><rect x="1920.5" y="1781" width="111.9" height="6" fill="#074657"/><rect x="1920.5" y="1787" width="96.0" height="7" fill="#094a54"/><rect x="1920.5" y="1794" width="86.3" height="7" fill="#0c524e"/><rect x="1920.5" y="1801" width="77.5" height="6" fill="#053f5d"/><rect x="1920.5" y="1807" width="77.5" height="7" fill="#06435a"/><rect x="1920.5" y="1814" width="63.4" height="7" fill="#0e574a"/><rect x="1920.5" y="1821" width="72.2" height="6" fill="#074459"/><rect x="1920.5" y="1827" width="62.5" height="7" fill="#074558"/><rect x="1920.5" y="1834" width="55.5" height="7" fill="#094a55"/><rect x="1920.5" y="1841" width="50.2" height="6" fill="#094c53"/><rect x="1920.5" y="1847" width="50.2" height="7" fill="#0b514f"/><rect x="1920.5" y="1854" width="40.5" height="7" fill="#0a4d52"/><rect x="1920.5" y="1861" width="39.6" height="7" fill="#084856"/><rect x="1920.5" y="1868" width="32.6" height="6" fill="#094b53"/><rect x="1920.5" y="1874" width="32.6" height="7" fill="#105d46"/><rect x="1920.5" y="1881" width="26.4" height="7" fill="#0f5949"/><rect x="1920.5" y="1888" width="30.8" height="6" fill="#033a61"/><rect x="1920.5" y="1894" width="16.7" height="7" fill="#0d554c"/><rect x="1920.5" y="1901" width="20.3" height="7" fill="#0a4e51"/><rect x="1920.5" y="1908" width="15.9" height="6" fill="#0f5a47"/><rect x="1920.5" y="1914" width="19.4" height="7" fill="#0c524e"/><rect x="1920.5" y="1921" width="15.9" height="7" fill="#115f44"/><rect x="1920.5" y="1928" width="15.0" height="6" fill="#0d554c"/><rect x="1920.5" y="1934" width="7.9" height="7" fill="#0e564b"/><rect x="1920.5" y="1941" width="9.7" height="7" fill="#0a4c53"/><rect x="1920.5" y="1948" width="11.5" height="6" fill="#013664"/><rect x="1920.5" y="1954" width="10.6" height="7" fill="#033a60"/><rect x="1920.5" y="1961" width="5.3" height="7" fill="#033a60"/><rect x="1920.5" y="1968" width="5.3" height="6" fill="#07336a"/><rect x="1920.5" y="1974" width="7.0" height="7" fill="#1b3373"/><rect x="1920.5" y="1981" width="3.5" height="7" fill="#043d5e"/><rect x="1920.5" y="1988" width="4.4" height="6" fill="#11336f"/><rect x="1920.5" y="1994" width="3.5" height="7" fill="#173372"/><rect x="1920.5" y="2008" width="3.5" height="6" fill="#253379"/></g><rect x="2610.5" y="720.5" width="150.0" height="1439.8" fill="url(#cb)"/><path fill="none" stroke="#000" stroke-width="2" d="M360.5 2160.4V2128.0M360.5 720.3V752.7M360.5 600.2V567.8M360.5 120.5V152.9M441.5 2160.4V2144.1M441.5 720.3V736.6M441.5 600.2V583.9M441.5 120.5V136.8M522.4 2160.4V2144.1M522.4 720.3V736.6M522.4 600.2V583.9M522.4 120.5V136.8M603.4 2160.4V2144.1M603.4 720.3V736.6M603.4 600.2V583.9M603.4 120.5V136.8M684.3 2160.4V2144.1M684.3 720.3V736.6M684.3 600.2V583.9M684.3 120.5V136.8M765.3 2160.4V2128.0M765.3 720.3V752.7M765.3 600.2V567.8M765.3 120.5V152.9M846.3 2160.4V2144.1M846.3 720.3V736.6M846.3 600.2V583.9M846.3 120.5V136.8M927.2 2160.4V2144.1M927.2 720.3V736.6M927.2 600.2V583.9M927.2 120.5V136.8M1008.2 2160.4V2144.1M1008.2 720.3V736.6M1008.2 600.2V583.9M1008.2 120.5V136.8M1089.1 2160.4V2144.1M1089.1 720.3V736.6M1089.1 600.2V583.9M1089.1 120.5V136.8M1170.1 2160.4V2128.0M1170.1 720.3V752.7M1170.1 600.2V567.8M1170.1 120.5V152.9M1251.1 2160.4V2144.1M1251.1 720.3V736.6M1251.1 600.2V583.9M1251.1 120.5V136.8M1332.0 2160.4V2144.1M1332.0 720.3V736.6M1332.0 600.2V583.9M1332.0 120.5V136.8M1413.0 2160.4V2144.1M1413.0 720.3V736.6M1413.0 600.2V583.9M1413.0 120.5V136.8M1493.9 2160.4V2144.1M1493.9 720.3V736.6M1493.9 600.2V583.9M1493.9 120.5V136.8M1574.9 2160.4V2128.0M1574.9 720.3V752.7M1574.9 600.2V567.8M1574.9 120.5V152.9M1655.9 2160.4V2144.1M1655.9 720.3V736.6M1655.9 600.2V583.9M1655.9 120.5V136.8M1736.8 2160.4V2144.1M1736.8 720.3V736.6M1736.8 600.2V583.9M1736.8 120.5V136.8M360.5 2132.7H376.8M1800.5 2132.7H1784.2M1920.5 2132.7H1936.8M2490.5 2132.7H2474.2M360.5 2096.3H376.8M1800.5 2096.3H1784.2M1920.5 2096.3H1936.8M2490.5 2096.3H2474.2M360.5 2059.8H376.8M1800.5 2059.8H1784.2M1920.5 2059.8H1936.8M2490.5 2059.8H2474.2M360.5 2023.3H376.8M1800.5 2023.3H1784.2M1920.5 2023.3H1936.8M2490.5 2023.3H2474.2M360.5 1986.9H392.9M1800.5 1986.9H1768.1M1920.5 1986.9H1952.9M2490.5 1986.9H2458.1M360.5 1950.4H376.8M1800.5 1950.4H1784.2M1920.5 1950.4H1936.8M2490.5 1950.4H2474.2M360.5 1913.9H376.8M1800.5 1913.9H1784.2M1920.5 1913.9H1936.8M2490.5 1913.9H2474.2M360.5 1877.5H376.8M1800.5 1877.5H1784.2M1920.5 1877.5H1936.8M2490.5 1877.5H2474.2M360.5 1841.0H376.8M1800.5 1841.0H1784.2M1920.5 1841.0H1936.8M2490.5 1841.0H2474.2M360.5 1804.6H392.9M1800.5 1804.6H1768.1M1920.5 1804.6H1952.9M2490.5 1804.6H2458.1M360.5 1768.1H376.8M1800.5 1768.1H1784.2M1920.5 1768.1H1936.8M2490.5 1768.1H2474.2M360.5 1731.6H376.8M1800.5 1731.6H1784.2M1920.5 1731.6H1936.8M2490.5 1731.6H2474.2M360.5 1695.2H376.8M1800.5 1695.2H1784.2M1920.5 1695.2H1936.8M2490.5 1695.2H2474.2M360.5 1658.7H376.8M1800.5 1658.7H1784.2M1920.5 1658.7H1936.8M2490.5 1658.7H2474.2M360.5 1622.2H392.9M1800.5 1622.2H1768.1M1920.5 1622.2H1952.9M2490.5 1622.2H2458.1M360.5 1585.8H376.8M1800.5 1585.8H1784.2M1920.5 1585.8H1936.8M2490.5 1585.8H2474.2M360.5 1549.3H376.8M1800.5 1549.3H1784.2M1920.5 1549.3H1936.8M2490.5 1549.3H2474.2M360.5 1512.8H376.8M1800.5 1512.8H1784.2M1920.5 1512.8H1936.8M2490.5 1512.8H2474.2M360.5 1476.4H376.8M1800.5 1476.4H1784.2M1920.5 1476.4H1936.8M2490.5 1476.4H2474.2M360.5 1439.9H392.9M1800.5 1439.9H1768.1M1920.5 1439.9H1952.9M2490.5 1439.9H2458.1M360.5 1403.4H376.8M1800.5 1403.4H1784.2M1920.5 1403.4H1936.8M2490.5 1403.4H2474.2M360.5 1367.0H376.8M1800.5 1367.0H1784.2M1920.5 1367.0H1936.8M2490.5 1367.0H2474.2M360.5 1330.5H376.8M1800.5 1330.5H1784.2M1920.5 1330.5H1936.8M2490.5 1330.5H2474.2M360.5 1294.0H376.8M1800.5 1294.0H1784.2M1920.5 1294.0H1936.8M2490.5 1294.0H2474.2M360.5 1257.6H392.9M1800.5 1257.6H1768.1M1920.5 1257.6H1952.9M2490.5 1257.6H2458.1M360.5 1221.1H376.8M1800.5 1221.1H1784.2M1920.5 1221.1H1936.8M2490.5 1221.1H2474.2M360.5 1184.6H376.8M1800.5 1184.6H1784.2M1920.5 1184.6H1936.8M2490.5 1184.6H2474.2M360.5 1148.2H376.8M1800.5 1148.2H1784.2M1920.5 1148.2H1936.8M2490.5 1148.2H2474.2M360.5 1111.7H376.8M1800.5 1111.7H1784.2M1920.5 1111.7H1936.8M2490.5 1111.7H2474.2M360.5 1075.2H392.9M1800.5 1075.2H1768.1M1920.5 1075.2H1952.9M2490.5 1075.2H2458.1M360.5 1038.8H376.8M1800.5 1038.8H1784.2M1920.5 1038.8H1936.8M2490.5 1038.8H2474.2M360.5 1002.3H376.8M1800.5 1002.3H1784.2M1920.5 1002.3H1936.8M2490.5 1002.3H2474.2M360.5 965.9H376.8M1800.5 965.9H1784.2M1920.5 965.9H1936.8M2490.5 965.9H2474.2M360.5 929.4H376.8M1800.5 929.4H1784.2M1920.5 929.4H1936.8M2490.5 929.4H2474.2M360.5 892.9H392.9M1800.5 892.9H1768.1M1920.5 892.9H1952.9M2490.5 892.9H2458.1M360.5 856.5H376.8M1800.5 856.5H1784.2M1920.5 856.5H1936.8M2490.5 856.5H2474.2M360.5 820.0H376.8M1800.5 820.0H1784.2M1920.5 820.0H1936.8M2490.5 820.0H2474.2M360.5 783.5H376.8M1800.5 783.5H1784.2M1920.5 783.5H1936.8M2490.5 783.5H2474.2M360.5 747.1H376.8M1800.5 747.1H1784.2M1920.5 747.1H1936.8M2490.5 747.1H2474.2M360.5 600.2H392.9M1800.5 600.2H1768.1M360.5 531.9H376.8M1800.5 531.9H1784.2M360.5 463.7H376.8M1800.5 463.7H1784.2M360.5 395.4H376.8M1800.5 395.4H1784.2M360.5 327.2H376.8M1800.5 327.2H1784.2M360.5 258.9H392.9M1800.5 258.9H1768.1M360.5 190.6H376.8M1800.5 190.6H1784.2M360.5 122.4H376.8M1800.5 122.4H1784.2M1920.5 2160.4V2128.0M1920.5 720.3V752.7M2008.6 2160.4V2144.1M2008.6 720.3V736.6M2096.7 2160.4V2144.1M2096.7 720.3V736.6M2184.7 2160.4V2144.1M2184.7 720.3V736.6M2272.8 2160.4V2144.1M2272.8 720.3V736.6M2360.9 2160.4V2128.0M2360.9 720.3V752.7M2449.0 2160.4V2144.1M2449.0 720.3V736.6M2760.5 2160.3H2728.1M2760.5 2088.3H2744.2M2760.5 2016.3H2744.2M2760.5 1944.3H2744.2M2760.5 1872.3H2728.1M2760.5 1800.4H2744.2M2760.5 1728.4H2744.2M2760.5 1656.4H2744.2M2760.5 1584.4H2728.1M2760.5 1512.4H2744.2M2760.5 1440.4H2744.2M2760.5 1368.4H2744.2M2760.5 1296.4H2728.1M2760.5 1224.4H2744.2M2760.5 1152.4H2744.2M2760.5 1080.5H2744.2M2760.5 1008.5H2728.1M2760.5 936.5H2744.2M2760.5 864.5H2744.2M2760.5 792.5H2744.2M2760.5 720.5H2728.1"/><g fill="none" stroke="#000" stroke-width="3.2" stroke-linejoin="miter"><rect x="360.5" y="120.5" width="1440.0" height="479.7"/><rect x="360.5" y="720.3" width="1440.0" height="1440.1"/><rect x="1920.5" y="720.3" width="570.0" height="1440.1"/><rect x="2610.5" y="720.5" width="150.0" height="1439.8" stroke-width="2.8"/></g><text transform="translate(1916.6 282.4) scale(0.5923 1)" font-size="131.3">PepDF</text><text transform="translate(1920.3 434.0) scale(0.6190 1)" font-size="109.0">Time window: 5 ns</text><text transform="translate(656.6 2344.9) scale(0.6339 1)" font-size="107.5">Lateral displacement (nm)</text><text transform="translate(2065.1 2344.2) scale(0.6064 1)" font-size="107.5"># Counts</text><text transform="translate(160.9 1785.4) rotate(-90) scale(0.6356 1)" font-size="106.5">Precession (degrees)</text><text transform="translate(211.3 500.7) rotate(-90) scale(0.6055 1)" font-size="107.5"># Counts</text><text transform="translate(2930.9 1732.9) rotate(-90) scale(0.6364 1)" font-size="87.0">Normalized Mean Time</text><text transform="translate(342.5 913.7) scale(0.63 1)" font-size="86.5" text-anchor="end">150</text><text transform="translate(342.5 1096.0) scale(0.63 1)" font-size="86.5" text-anchor="end">100</text><text transform="translate(342.5 1278.4) scale(0.63 1)" font-size="86.5" text-anchor="end">50</text><text transform="translate(342.5 1460.7) scale(0.63 1)" font-size="86.5" text-anchor="end">0</text><text transform="translate(342.5 1643.0) scale(0.63 1)" font-size="86.5" text-anchor="end">50</text><text transform="translate(233.3 1642.8) scale(0.968 0.705)" font-size="86.5">−</text><text transform="translate(342.5 1825.4) scale(0.63 1)" font-size="86.5" text-anchor="end">100</text><text transform="translate(201.8 1825.2) scale(0.968 0.705)" font-size="86.5">−</text><text transform="translate(342.5 2007.7) scale(0.63 1)" font-size="86.5" text-anchor="end">150</text><text transform="translate(201.8 2007.5) scale(0.968 0.705)" font-size="86.5">−</text><text transform="translate(342.5 279.7) scale(0.63 1)" font-size="86.5" text-anchor="end">500</text><text transform="translate(342.5 621.0) scale(0.63 1)" font-size="86.5" text-anchor="end">0</text><text transform="translate(360.5 2236.8) scale(0.63 1)" font-size="86.5" text-anchor="middle">0</text><text transform="translate(765.3 2236.8) scale(0.63 1)" font-size="86.5" text-anchor="middle">1</text><text transform="translate(1170.1 2236.8) scale(0.63 1)" font-size="86.5" text-anchor="middle">2</text><text transform="translate(1574.9 2236.8) scale(0.63 1)" font-size="86.5" text-anchor="middle">3</text><text transform="translate(1920.5 2236.8) scale(0.63 1)" font-size="86.5" text-anchor="middle">0</text><text transform="translate(2360.9 2236.8) scale(0.63 1)" font-size="86.5" text-anchor="middle">500</text><text transform="translate(2777.6 2181.1) scale(0.63 1)" font-size="86.5" text-anchor="start">0.0</text><text transform="translate(2777.6 1893.1) scale(0.63 1)" font-size="86.5" text-anchor="start">0.2</text><text transform="translate(2777.6 1605.2) scale(0.63 1)" font-size="86.5" text-anchor="start">0.4</text><text transform="translate(2777.6 1317.2) scale(0.63 1)" font-size="86.5" text-anchor="start">0.6</text><text transform="translate(2777.6 1029.3) scale(0.63 1)" font-size="86.5" text-anchor="start">0.8</text><text transform="translate(2777.6 741.3) scale(0.63 1)" font-size="86.5" text-anchor="start">1.0</text></svg></body></html>
